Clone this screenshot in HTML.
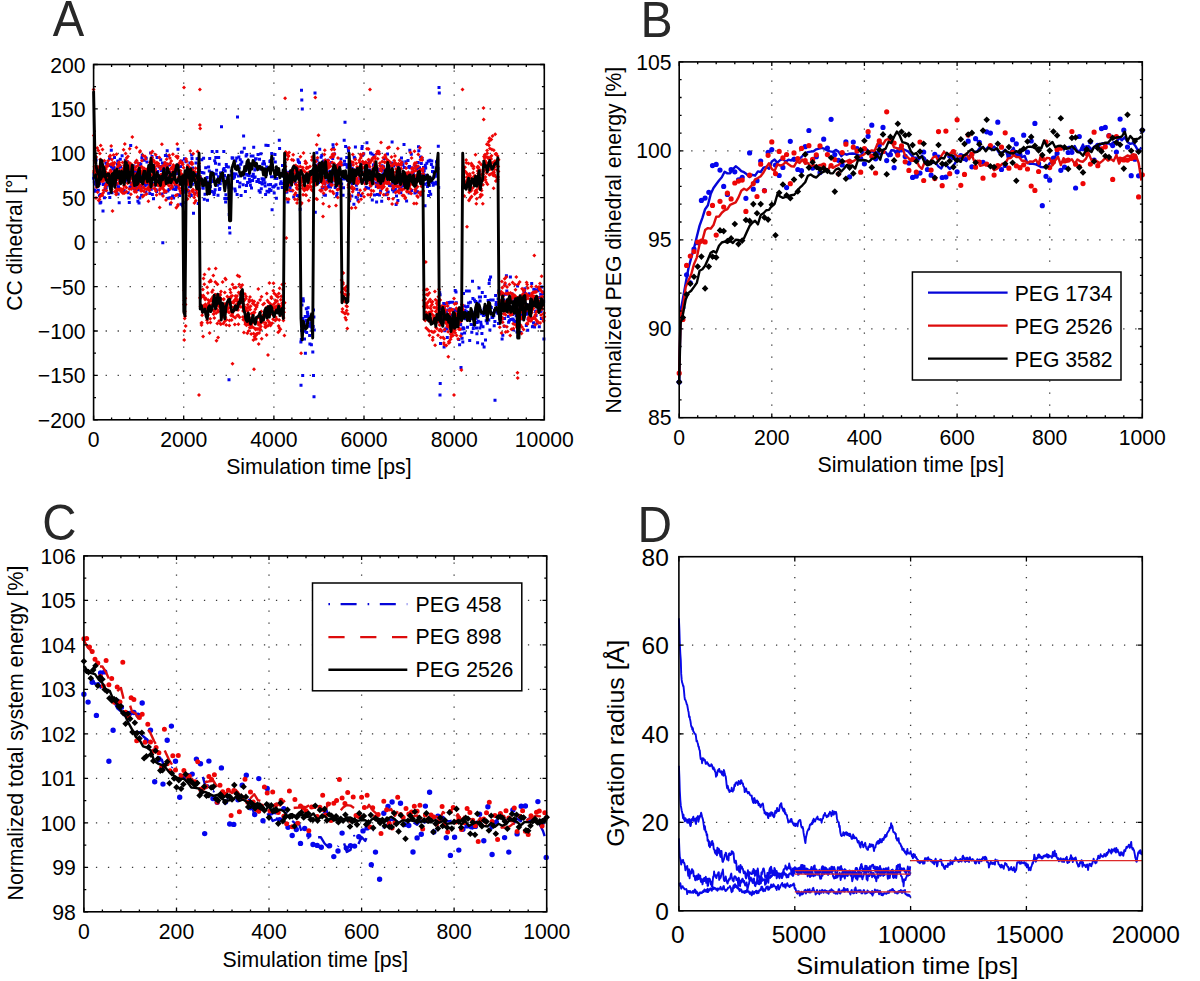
<!DOCTYPE html>
<html><head><meta charset="utf-8"><style>html,body{margin:0;padding:0;background:#fff;width:1200px;height:981px;overflow:hidden}svg{display:block}</style></head>
<body><svg width="1200" height="981" viewBox="0 0 1200 981" font-family="'Liberation Sans', sans-serif">
<path d="M183.7 419.8V64.5M273.9 419.8V64.5M364 419.8V64.5M454.2 419.8V64.5" stroke="#3a3a3a" stroke-width="1.3" fill="none" stroke-dasharray="1.3 10.7" stroke-dashoffset="0"/>
<path d="M93.6 375.4H544.3M93.6 331H544.3M93.6 286.6H544.3M93.6 242.2H544.3M93.6 197.7H544.3M93.6 153.3H544.3M93.6 108.9H544.3" stroke="#3a3a3a" stroke-width="1.3" fill="none" stroke-dasharray="1.3 10.7" stroke-dashoffset="0"/>
<path d="M93.6 178.2h0M94 174.2h0M94.3 181.8h0M94.7 190h0M95 184.1h0M95.4 191.3h0M95.8 177.2h0M96.1 160.1h0M96.5 184.5h0M96.8 186.2h0M97.2 171.4h0M97.6 173.1h0M97.9 176.5h0M98.3 190.2h0M98.6 178.2h0M99 168.5h0M99.4 195.7h0M99.7 183.8h0M100.1 203h0M100.5 194.8h0M100.8 202.2h0M101.2 180.7h0M101.5 194.5h0M101.9 173.9h0M102.3 175.4h0M102.6 180h0M103 211h0M103.3 184.6h0M103.7 178h0M104.1 175.9h0M104.4 197.7h0M104.8 183.7h0M105.1 190.3h0M105.5 188h0M105.9 163.1h0M106.2 188h0M106.6 177.6h0M106.9 165.4h0M107.3 184.9h0M107.7 178.6h0M108 175.6h0M108.4 176.2h0M108.7 193.3h0M109.1 176h0M109.5 158.8h0M109.8 197.5h0M110.2 165.4h0M110.5 175.3h0M110.9 185.4h0M111.3 150.2h0M111.6 166.6h0M112 192.7h0M112.3 175.7h0M112.7 169h0M113.1 179.2h0M113.4 167.5h0M113.8 177.5h0M114.2 167.7h0M114.5 157.4h0M114.9 185.5h0M115.2 173.8h0M115.6 182.6h0M116 174.7h0M116.3 192.2h0M116.7 184.1h0M117 179h0M117.4 164.3h0M117.8 161h0M118.1 193.9h0M118.5 186.8h0M118.8 167.6h0M119.2 202.7h0M119.6 182.3h0M119.9 177.4h0M120.3 159.3h0M120.6 166.9h0M121 180.4h0M121.4 180.9h0M121.7 179.3h0M122.1 155.7h0M122.4 181.6h0M122.8 179.9h0M123.2 171.2h0M123.5 177.4h0M123.9 178.4h0M124.2 190.6h0M124.6 175.9h0M125 181.6h0M125.3 160.2h0M125.7 167h0M126.1 176h0M126.4 166.7h0M126.8 180.1h0M127.1 161.5h0M127.5 175.6h0M127.9 167.7h0M128.2 192.7h0M128.6 170.8h0M128.9 197.9h0M129.3 202.5h0M129.7 179.4h0M130 187.3h0M130.4 173.1h0M130.7 145.4h0M131.1 186.3h0M131.5 183.5h0M131.8 172.4h0M132.2 168.6h0M132.5 177.5h0M132.9 177.8h0M133.3 165.7h0M133.6 168.1h0M134 188.8h0M134.3 176h0M134.7 174.5h0M135.1 189h0M135.4 171.4h0M135.8 186.3h0M136.1 161.9h0M136.5 172.2h0M136.9 173.6h0M137.2 182.6h0M137.6 176.3h0M137.9 201.3h0M138.3 189.7h0M138.7 169.8h0M139 203h0M139.4 163.4h0M139.8 198h0M140.1 164.6h0M140.5 186h0M140.8 164.3h0M141.2 173h0M141.6 195.2h0M141.9 158.1h0M142.3 155.6h0M142.6 175.7h0M143 178.5h0M143.4 177h0M143.7 187.8h0M144.1 160.2h0M144.4 182.1h0M144.8 175.6h0M145.2 185.5h0M145.5 183.3h0M145.9 192h0M146.2 158.2h0M146.6 177h0M147 162.1h0M147.3 174.8h0M147.7 184.3h0M148 179.4h0M148.4 182.5h0M148.8 174.9h0M149.1 180.1h0M149.5 179.1h0M149.8 193.5h0M150.2 185.8h0M150.6 153.1h0M150.9 184.1h0M151.3 189.2h0M151.7 170.7h0M152 156.4h0M152.4 194.6h0M152.7 178h0M153.1 183.6h0M153.5 198.7h0M153.8 165.4h0M154.2 175.6h0M154.5 174.3h0M154.9 185.3h0M155.3 169.2h0M155.6 182.5h0M156 177.2h0M156.3 190.1h0M156.7 191.6h0M157.1 157.6h0M157.4 182.1h0M157.8 171.5h0M158.1 175.9h0M158.5 181.3h0M158.9 182.2h0M159.2 167.1h0M159.6 179.5h0M159.9 177.5h0M160.3 175.2h0M160.7 159.8h0M161 166.5h0M161.4 170.4h0M161.7 183.1h0M162.1 194h0M162.5 162.9h0M162.8 242.7h0M163.2 177.5h0M163.5 168.4h0M163.9 165.2h0M164.3 164.6h0M164.6 163.4h0M165 181.8h0M165.4 155.5h0M165.7 192.3h0M166.1 164.2h0M166.4 169.2h0M166.8 164.1h0M167.2 150.7h0M167.5 156h0M167.9 191.1h0M168.2 198.3h0M168.6 164.9h0M169 189.4h0M169.3 176h0M169.7 164.7h0M170 197.8h0M170.4 204h0M170.8 172.5h0M171.1 175.3h0M171.5 179.2h0M171.8 175.4h0M172.2 187.4h0M172.6 196.1h0M172.9 178.2h0M173.3 189h0M173.6 197.9h0M174 169.3h0M174.4 176.9h0M174.7 170.6h0M175.1 189.3h0M175.4 184.9h0M175.8 189.4h0M176.2 187.9h0M176.5 173.5h0M176.9 186.6h0M177.2 171.4h0M177.6 171.7h0M178 149.2h0M178.3 194.8h0M178.7 164.4h0M179.1 177.4h0M179.4 176.4h0M179.8 195.6h0M180.1 182.4h0M180.5 166.4h0M180.9 204.2h0M181.2 175.2h0M181.6 180.2h0M181.9 161h0M182.3 176.6h0M182.7 205.7h0M183 185.6h0M183.4 202.6h0M183.7 219.7h0M184.1 183.6h0M184.5 158.8h0M184.8 176h0M185.2 192.3h0M185.5 189.3h0M185.9 161.8h0M186.3 174.8h0M186.6 176.3h0M187 177.8h0M187.3 176.6h0M187.7 166.5h0M188.1 169.9h0M188.4 174.5h0M188.8 191.3h0M189.1 170.7h0M189.5 186.7h0M189.9 163.1h0M190.2 194.6h0M190.6 179.6h0M191 177.9h0M191.3 195.6h0M191.7 155h0M192 158.6h0M192.4 184.3h0M192.8 167.9h0M193.1 173.2h0M193.5 213.2h0M193.8 175.1h0M194.2 179.3h0M194.6 177.4h0M194.9 193h0M195.3 182.3h0M195.6 181.1h0M196 163h0M196.4 174.5h0M196.7 179.1h0M197.1 158.7h0M197.4 186.5h0M197.8 184.4h0M198.2 203.5h0M198.5 158.4h0M198.9 166.6h0M199.2 167.3h0M199.6 170.6h0M200 178.1h0M200.3 176.8h0M200.7 183.1h0M201 182.5h0M201.4 179.2h0M201.8 159.8h0M202.1 172.5h0M202.5 180.6h0M202.8 187.5h0M203.2 188.2h0M203.6 158.3h0M203.9 172.9h0M204.3 199.3h0M204.7 184.1h0M205 194.2h0M205.4 180.3h0M205.7 167.7h0M206.1 184.5h0M206.5 182.2h0M206.8 178h0M207.2 177.6h0M207.5 200.2h0M207.9 182.1h0M208.3 190.3h0M208.6 167.1h0M209 189.1h0M209.3 171h0M209.7 158.4h0M210.1 182.8h0M210.4 186.6h0M210.8 175.9h0M211.1 178.5h0M211.5 191.6h0M211.9 172.2h0M212.2 151.4h0M212.6 181.6h0M212.9 180.8h0M213.3 192h0M213.7 173.8h0M214 194.6h0M214.4 192.6h0M214.7 160.8h0M215.1 189.8h0M215.5 163.3h0M215.8 157.4h0M216.2 174.1h0M216.6 170.2h0M216.9 151.5h0M217.3 180h0M217.6 185.3h0M218 195.3h0M218.4 176.7h0M218.7 157.5h0M219.1 164.3h0M219.4 189.6h0M219.8 188.4h0M220.2 183.7h0M220.5 173h0M220.9 179.6h0M221.2 173.9h0M221.6 172.8h0M222 180.6h0M222.3 177.1h0M222.7 173.8h0M223 177.6h0M223.4 169.7h0M223.8 151.4h0M224.1 168.4h0M224.5 175.5h0M224.8 198.6h0M225.2 171h0M225.6 202h0M225.9 194.8h0M226.3 164.6h0M226.6 166.5h0M227 177.8h0M227.4 198.6h0M227.7 180.7h0M228.1 184.7h0M228.4 167.1h0M228.8 187.2h0M229.2 214.4h0M229.5 227.7h0M229.9 232.9h0M230.3 218h0M230.6 175.2h0M231 188.1h0M231.3 171.1h0M231.7 187.9h0M232.1 157.7h0M232.4 158.3h0M232.8 157.9h0M233.1 178.6h0M233.5 165.3h0M233.9 173.8h0M234.2 177.2h0M234.6 176.4h0M234.9 189.1h0M235.3 190.9h0M235.7 161h0M236 174.1h0M236.4 168.6h0M236.7 158h0M237.1 194.4h0M237.5 181.6h0M237.8 168.8h0M238.2 165.8h0M238.5 175.9h0M238.9 157.1h0M239.3 167.9h0M239.6 186.8h0M240 183h0M240.3 159.7h0M240.7 164.2h0M241.1 195.6h0M241.4 152.2h0M241.8 162.1h0M242.2 152.1h0M242.5 175h0M242.9 173.8h0M243.2 184.8h0M243.6 135.9h0M244 171.9h0M244.3 148.3h0M244.7 178h0M245 167.1h0M245.4 191.5h0M245.8 174.2h0M246.1 155.9h0M246.5 185.6h0M246.8 154.6h0M247.2 164.3h0M247.6 182.6h0M247.9 175.3h0M248.3 174.6h0M248.6 169.1h0M249 175.5h0M249.4 179.3h0M249.7 172.2h0M250.1 181.8h0M250.4 185.2h0M250.8 168.5h0M251.2 156h0M251.5 188.1h0M251.9 167.6h0M252.2 176.2h0M252.6 180.5h0M253 156h0M253.3 174.2h0M253.7 147.2h0M254 177.5h0M254.4 161.9h0M254.8 169.9h0M255.1 176.9h0M255.5 158.9h0M255.9 168.7h0M256.2 158.7h0M256.6 167.5h0M256.9 181.5h0M257.3 168.5h0M257.7 166.6h0M258 154.6h0M258.4 179.6h0M258.7 168.2h0M259.1 190.7h0M259.5 159.2h0M259.8 182.4h0M260.2 192.2h0M260.5 169.1h0M260.9 153.7h0M261.3 188.8h0M261.6 183.1h0M262 178.7h0M262.3 183.9h0M262.7 164h0M263.1 179.9h0M263.4 178.9h0M263.8 161.6h0M264.1 179.6h0M264.5 163.9h0M264.9 182.7h0M265.2 186h0M265.6 194.5h0M265.9 145.3h0M266.3 174.5h0M266.7 167.1h0M267 191.3h0M267.4 168.5h0M267.8 170.1h0M268.1 145.5h0M268.5 184.8h0M268.8 191.9h0M269.2 184.7h0M269.6 189.2h0M269.9 161.5h0M270.3 160.7h0M270.6 184.6h0M271 190.4h0M271.4 176.7h0M271.7 153.6h0M272.1 209.8h0M272.4 165.4h0M272.8 186.8h0M273.2 158.8h0M273.5 187.1h0M273.9 176.7h0M274.2 193h0M274.6 186h0M275 154.5h0M275.3 162.1h0M275.7 178.4h0M276 184.7h0M276.4 198.3h0M276.8 178.4h0M277.1 173.6h0M277.5 174.3h0M277.8 174.5h0M278.2 188.2h0M278.6 174.2h0M278.9 173.9h0M279.3 140.2h0M279.6 148.6h0M280 175.3h0M280.4 183.7h0M280.7 174.4h0M281.1 181.7h0M281.5 183.5h0M281.8 174.4h0M282.2 187.6h0M282.5 165.6h0M282.9 175.1h0M283.3 170.5h0M283.6 176.3h0M284 183.6h0M284.3 186.5h0M284.7 177.1h0M285.1 181.3h0M285.4 170.9h0M285.8 174.1h0M286.1 192.2h0M286.5 173.2h0M286.9 192h0M287.2 182.4h0M287.6 178.1h0M287.9 201.9h0M288.3 173.1h0M288.7 172.3h0M289 176.5h0M289.4 180h0M289.7 179.4h0M290.1 187.5h0M290.5 178.1h0M290.8 181.9h0M291.2 173.4h0M291.5 190.7h0M291.9 171.5h0M292.3 172.8h0M292.6 176.6h0M293 180.6h0M293.4 167.4h0M293.7 197h0M294.1 168.7h0M294.4 171.7h0M294.8 171.2h0M295.2 169.9h0M295.5 183.7h0M295.9 178.5h0M296.2 166.6h0M296.6 169.4h0M297 172.4h0M297.3 195.4h0M297.7 168h0M298 159.7h0M298.4 161.8h0M298.8 172.2h0M299.1 196.1h0M299.5 162.8h0M299.8 177.4h0M300.2 209.2h0M300.6 170.5h0M300.9 342h0M301.3 339.4h0M301.6 330.6h0M302 305.1h0M302.4 327h0M302.7 318.5h0M303.1 298.8h0M303.4 300.9h0M303.8 323.5h0M304.2 325.3h0M304.5 338.9h0M304.9 331.3h0M305.2 316.4h0M305.6 316.8h0M306 320.6h0M306.3 308.8h0M306.7 332.4h0M307.1 322.8h0M307.4 312.3h0M307.8 314.3h0M308.1 307.8h0M308.5 316.8h0M308.9 326.2h0M309.2 317.3h0M309.6 335.5h0M309.9 343.9h0M310.3 324.2h0M310.7 322.8h0M311 318h0M311.4 344.7h0M311.7 327h0M312.1 330.1h0M312.5 333.6h0M312.8 352.1h0M313.2 326.6h0M313.5 310.1h0M313.9 317h0M314.3 330.1h0M314.6 175.7h0M315 165.4h0M315.3 212.3h0M315.7 177.1h0M316.1 168.2h0M316.4 166.3h0M316.8 152.7h0M317.1 160.3h0M317.5 171.2h0M317.9 171.3h0M318.2 164.8h0M318.6 182.5h0M318.9 175.8h0M319.3 163.2h0M319.7 149.2h0M320 177.4h0M320.4 175.9h0M320.8 172.5h0M321.1 157.3h0M321.5 175.6h0M321.8 155.6h0M322.2 188h0M322.6 177.6h0M322.9 177.7h0M323.3 164.6h0M323.6 161.1h0M324 195.1h0M324.4 187.2h0M324.7 170.5h0M325.1 183.7h0M325.4 195.2h0M325.8 161.1h0M326.2 168.3h0M326.5 168.3h0M326.9 181.2h0M327.2 161.1h0M327.6 178h0M328 160.2h0M328.3 186.9h0M328.7 186.1h0M329 172h0M329.4 184.1h0M329.8 165.7h0M330.1 171.2h0M330.5 187h0M330.8 173.7h0M331.2 179.3h0M331.6 162.4h0M331.9 183h0M332.3 180.4h0M332.7 158.4h0M333 144.7h0M333.4 147.9h0M333.7 173.7h0M334.1 171.6h0M334.5 154h0M334.8 176.1h0M335.2 187.4h0M335.5 172.8h0M335.9 168.4h0M336.3 185.4h0M336.6 196.3h0M337 193.5h0M337.3 165.4h0M337.7 184.4h0M338.1 176.1h0M338.4 171.4h0M338.8 166h0M339.1 178.7h0M339.5 167.5h0M339.9 186h0M340.2 179h0M340.6 187.8h0M340.9 159h0M341.3 174.4h0M341.7 183.9h0M342 178.7h0M342.4 177h0M342.7 164.7h0M343.1 195.3h0M343.5 187.8h0M343.8 179h0M344.2 140.2h0M344.5 161.2h0M344.9 175.4h0M345.3 164.4h0M345.6 146.4h0M346 176.9h0M346.4 178.7h0M346.7 157.6h0M347.1 167.2h0M347.4 164.8h0M347.8 180.5h0M348.2 148.1h0M348.5 150.9h0M348.9 166.1h0M349.2 164.5h0M349.6 200.7h0M350 165.1h0M350.3 176.2h0M350.7 167.8h0M351 164.5h0M351.4 178.1h0M351.8 196h0M352.1 168.6h0M352.5 183.4h0M352.8 177.9h0M353.2 181.5h0M353.6 178h0M353.9 204.2h0M354.3 157.2h0M354.6 170h0M355 158.5h0M355.4 147h0M355.7 173h0M356.1 197.3h0M356.4 185.2h0M356.8 189.3h0M357.2 179.9h0M357.5 172.2h0M357.9 199.9h0M358.3 168.6h0M358.6 193.3h0M359 169.2h0M359.3 174.6h0M359.7 177.3h0M360.1 174.1h0M360.4 180.3h0M360.8 181.2h0M361.1 195.4h0M361.5 173.4h0M361.9 148.4h0M362.2 146.6h0M362.6 155.3h0M362.9 163.5h0M363.3 181.9h0M363.7 153.7h0M364 173.6h0M364.4 173.8h0M364.7 176.8h0M365.1 171.8h0M365.5 178.8h0M365.8 174.2h0M366.2 187.6h0M366.5 178.1h0M366.9 142.8h0M367.3 174.2h0M367.6 176.5h0M368 166.2h0M368.3 163.9h0M368.7 188.3h0M369.1 176.2h0M369.4 161.3h0M369.8 170h0M370.1 172h0M370.5 152.9h0M370.9 182.7h0M371.2 172.6h0M371.6 173.2h0M372 153.9h0M372.3 199.9h0M372.7 182.8h0M373 181h0M373.4 165.1h0M373.8 165.9h0M374.1 155.5h0M374.5 195.1h0M374.8 164.1h0M375.2 178.1h0M375.6 183.1h0M375.9 167.1h0M376.3 186.6h0M376.6 202h0M377 179.3h0M377.4 194.4h0M377.7 183.1h0M378.1 169.6h0M378.4 170.4h0M378.8 153.5h0M379.2 177.3h0M379.5 195.1h0M379.9 184.8h0M380.2 187h0M380.6 191.1h0M381 169.1h0M381.3 183.5h0M381.7 201.3h0M382 165.7h0M382.4 176.5h0M382.8 170.3h0M383.1 173.7h0M383.5 166.8h0M383.9 174.7h0M384.2 158.8h0M384.6 169.6h0M384.9 170.1h0M385.3 169.9h0M385.7 194.8h0M386 177.7h0M386.4 179h0M386.7 172.8h0M387.1 193.7h0M387.5 153.9h0M387.8 174.3h0M388.2 191.9h0M388.5 198.5h0M388.9 179.6h0M389.3 177h0M389.6 185.5h0M390 174.7h0M390.3 184.5h0M390.7 168.7h0M391.1 185.7h0M391.4 176.6h0M391.8 163.1h0M392.1 141.9h0M392.5 189.7h0M392.9 182.5h0M393.2 187.5h0M393.6 165.9h0M393.9 191.7h0M394.3 182.9h0M394.7 176.9h0M395 189.6h0M395.4 189.3h0M395.7 183h0M396.1 204.6h0M396.5 196h0M396.8 182.2h0M397.2 174.8h0M397.6 179.3h0M397.9 200.5h0M398.3 183.1h0M398.6 166.3h0M399 169.6h0M399.4 178.1h0M399.7 188.9h0M400.1 168.7h0M400.4 184.9h0M400.8 192.8h0M401.2 187.9h0M401.5 158h0M401.9 174.4h0M402.2 161.9h0M402.6 183.8h0M403 165h0M403.3 185.5h0M403.7 179.7h0M404 144.5h0M404.4 167.4h0M404.8 184.4h0M405.1 178.9h0M405.5 173.4h0M405.8 161.7h0M406.2 184.4h0M406.6 201.1h0M406.9 181.7h0M407.3 177.8h0M407.6 176.6h0M408 160.5h0M408.4 173.9h0M408.7 167.3h0M409.1 192.9h0M409.5 166.6h0M409.8 150.2h0M410.2 167.8h0M410.5 174.7h0M410.9 176h0M411.3 154.3h0M411.6 190.4h0M412 179.5h0M412.3 171.9h0M412.7 168.1h0M413.1 183.8h0M413.4 173.8h0M413.8 181.6h0M414.1 176.3h0M414.5 179.6h0M414.9 193.1h0M415.2 178.1h0M415.6 166.1h0M415.9 190.7h0M416.3 181h0M416.7 168.9h0M417 192h0M417.4 175.3h0M417.7 191.8h0M418.1 162.5h0M418.5 146.8h0M418.8 150.7h0M419.2 180.5h0M419.5 167.7h0M419.9 175.9h0M420.3 176.2h0M420.6 156.9h0M421 195.1h0M421.3 163.4h0M421.7 178.1h0M422.1 158.7h0M422.4 174.9h0M422.8 186.3h0M423.2 173.7h0M423.5 167.5h0M423.9 176.8h0M424.2 170.8h0M424.6 184.2h0M425 205.7h0M425.3 165.2h0M425.7 167.9h0M426 175.2h0M426.4 176.3h0M426.8 163.3h0M427.1 183.2h0M427.5 186.5h0M427.8 179.6h0M428.2 161.2h0M428.6 195.5h0M428.9 161.1h0M429.3 185.5h0M429.6 191.6h0M430 160.2h0M430.4 178.2h0M430.7 194.2h0M431.1 181.7h0M431.4 164.5h0M431.8 161h0M432.2 182.5h0M432.5 171.4h0M432.9 167.3h0M433.2 185.3h0M433.6 172h0M434 177.1h0M434.3 183.8h0M434.7 183.2h0M435.1 175.8h0M435.4 176.2h0M435.8 184.1h0M436.1 182.3h0M436.5 161.7h0M436.9 173.7h0M437.2 164.7h0M437.6 160.5h0M437.9 168.6h0M438.3 146.2h0M438.7 187.4h0M439 317.1h0M439.4 321.8h0M439.7 292.8h0M440.1 294.8h0M440.5 343.5h0M440.8 330.3h0M441.2 308.5h0M441.5 306.8h0M441.9 307.5h0M442.3 318.2h0M442.6 311.1h0M443 308.5h0M443.3 318.2h0M443.7 303.4h0M444.1 347.1h0M444.4 308.6h0M444.8 330.7h0M445.1 304.1h0M445.5 319.9h0M445.9 328.7h0M446.2 311.8h0M446.6 328.9h0M446.9 328.9h0M447.3 337.5h0M447.7 317h0M448 310h0M448.4 302.9h0M448.8 318.4h0M449.1 302.5h0M449.5 316.2h0M449.8 317.6h0M450.2 308.7h0M450.6 302.2h0M450.9 320.8h0M451.3 319.4h0M451.6 318.3h0M452 315h0M452.4 328.1h0M452.7 302.3h0M453.1 321.3h0M453.4 309.8h0M453.8 326.9h0M454.2 311.1h0M454.5 310.6h0M454.9 321.4h0M455.2 290.6h0M455.6 310.7h0M456 292h0M456.3 302.8h0M456.7 324.4h0M457 320.6h0M457.4 309.7h0M457.8 314.6h0M458.1 314.7h0M458.5 319.2h0M458.8 339.4h0M459.2 318.3h0M459.6 344.8h0M459.9 310.2h0M460.3 324.8h0M460.7 324.6h0M461 318h0M461.4 311.4h0M461.7 334h0M462.1 338.2h0M462.5 329.1h0M462.8 342h0M463.2 327.7h0M463.5 293.6h0M463.9 328.8h0M464.3 306h0M464.6 332.9h0M465 310.6h0M465.3 318.8h0M465.7 315.3h0M466.1 306.9h0M466.4 291h0M466.8 311.8h0M467.1 312.7h0M467.5 327.3h0M467.9 306.5h0M468.2 317.5h0M468.6 303.1h0M468.9 314.7h0M469.3 290.9h0M469.7 340.5h0M470 317.9h0M470.4 302.2h0M470.7 318.6h0M471.1 324.4h0M471.5 317.4h0M471.8 332.2h0M472.2 312.2h0M472.5 281.2h0M472.9 298.4h0M473.3 328.4h0M473.6 325.2h0M474 318.9h0M474.4 300.1h0M474.7 324.4h0M475.1 322.6h0M475.4 301.6h0M475.8 301.8h0M476.2 318.3h0M476.5 328.1h0M476.9 333.8h0M477.2 322.4h0M477.6 342.8h0M478 303h0M478.3 321.3h0M478.7 306.4h0M479 287.9h0M479.4 297h0M479.8 327.9h0M480.1 301h0M480.5 297h0M480.8 322.3h0M481.2 325h0M481.6 313.7h0M481.9 333.5h0M482.3 292.5h0M482.6 344.1h0M483 326.7h0M483.4 315.5h0M483.7 314.8h0M484.1 309.5h0M484.4 308.1h0M484.8 314.5h0M485.2 296.4h0M485.5 340h0M485.9 311.4h0M486.2 320.8h0M486.6 309.5h0M487 308.2h0M487.3 323.3h0M487.7 319.6h0M488.1 300.4h0M488.4 306.2h0M488.8 319.9h0M489.1 283.6h0M489.5 279.9h0M489.9 330.1h0M490.2 306.5h0M490.6 277h0M490.9 300h0M491.3 307.4h0M491.7 313h0M492 317.4h0M492.4 313h0M492.7 317.4h0M493.1 300.1h0M493.5 315.2h0M493.8 315.7h0M494.2 325.8h0M494.5 310.4h0M494.9 321.5h0M495.3 312h0M495.6 295.6h0M496 304.5h0M496.3 302.6h0M496.7 304.5h0M497.1 308.4h0M497.4 310.8h0M497.8 313.2h0M498.1 298.9h0M498.5 323.4h0M498.9 291h0M499.2 308.3h0M499.6 318.7h0M500 315.2h0M500.3 317.7h0M500.7 306.5h0M501 318.2h0M501.4 293.4h0M501.8 319h0M502.1 338.9h0M502.5 318.3h0M502.8 335.3h0M503.2 309.1h0M503.6 294.4h0M503.9 299.9h0M504.3 326.3h0M504.6 318.6h0M505 284.7h0M505.4 304.2h0M505.7 308.3h0M506.1 294.3h0M506.4 275.7h0M506.8 291h0M507.2 306.4h0M507.5 303.6h0M507.9 300h0M508.2 316.4h0M508.6 322.3h0M509 307.5h0M509.3 320.8h0M509.7 309h0M510 306.8h0M510.4 276.9h0M510.8 319.4h0M511.1 309.7h0M511.5 310.2h0M511.8 302.2h0M512.2 294.1h0M512.6 314.5h0M512.9 318.9h0M513.3 329.8h0M513.7 320.3h0M514 300.7h0M514.4 307.3h0M514.7 321.4h0M515.1 312.8h0M515.5 307.4h0M515.8 301.1h0M516.2 315.7h0M516.5 311.1h0M516.9 332h0M517.3 323h0M517.6 286.1h0M518 336.8h0M518.3 312.1h0M518.7 304.7h0M519.1 312.6h0M519.4 318.3h0M519.8 308.4h0M520.1 307.6h0M520.5 308.6h0M520.9 332.5h0M521.2 309.4h0M521.6 318.8h0M521.9 314.7h0M522.3 304.4h0M522.7 298.8h0M523 295.4h0M523.4 314h0M523.7 295h0M524.1 291.7h0M524.5 292.1h0M524.8 288.7h0M525.2 309.2h0M525.6 309.5h0M525.9 296.2h0M526.3 325.4h0M526.6 304.4h0M527 314.2h0M527.4 312h0M527.7 330.3h0M528.1 318.9h0M528.4 307.3h0M528.8 295.2h0M529.2 293.8h0M529.5 308h0M529.9 309.5h0M530.2 318h0M530.6 301.6h0M531 310.2h0M531.3 298.8h0M531.7 283.5h0M532 307.3h0M532.4 326.8h0M532.8 318.3h0M533.1 326.2h0M533.5 322.7h0M533.8 289.3h0M534.2 303.7h0M534.6 326.9h0M534.9 297.9h0M535.3 289.8h0M535.6 311.4h0M536 315.6h0M536.4 311.1h0M536.7 302.8h0M537.1 323.3h0M537.4 290.8h0M537.8 290.3h0M538.2 290.7h0M538.5 288.3h0M538.9 297.6h0M539.3 326.8h0M539.6 308.1h0M540 302.2h0M540.3 311.4h0M540.7 294.2h0M541.1 311.1h0M541.4 318.6h0M541.8 287h0M542.1 297.4h0M542.5 303.3h0M542.9 293.8h0M543.2 292h0M543.6 301.6h0M543.9 338.9h0M301.5 90.3h0M301.8 100h0M315 92.9h0M302.3 108.9h0M439 87.6h0M439.3 92.9h0M237.5 116.9h0M221.5 126.7h0M345 122.2h0M301 385.2h0M314 396.7h0M302.7 375.4h0M229 379.8h0M440 394.9h0M440.2 383.4h0M461 367.4h0M495 400.3h0M484.1 347h0M305.4 353.2h0M313.5 375.4h0" stroke="#0505ee" stroke-width="3.0" stroke-linecap="square" fill="none"/>
<path d="M93.6 87.4l2 2 -2 2 -2 -2zM93.8 133.6l2 2 -2 2 -2 -2zM94 169.1l2 2 -2 2 -2 -2zM94.2 170.4l2 2 -2 2 -2 -2zM94.4 164.7l2 2 -2 2 -2 -2zM94.6 158.8l2 2 -2 2 -2 -2zM94.8 159.7l2 2 -2 2 -2 -2zM95 166.5l2 2 -2 2 -2 -2zM95.2 160.5l2 2 -2 2 -2 -2zM95.4 169.7l2 2 -2 2 -2 -2zM95.6 156.1l2 2 -2 2 -2 -2zM95.8 171.4l2 2 -2 2 -2 -2zM96 196l2 2 -2 2 -2 -2zM96.2 155.1l2 2 -2 2 -2 -2zM96.4 169.9l2 2 -2 2 -2 -2zM96.6 185.3l2 2 -2 2 -2 -2zM96.8 173.6l2 2 -2 2 -2 -2zM97 181.9l2 2 -2 2 -2 -2zM97.3 146.1l2 2 -2 2 -2 -2zM97.5 165.4l2 2 -2 2 -2 -2zM97.7 190.2l2 2 -2 2 -2 -2zM97.9 164.8l2 2 -2 2 -2 -2zM98.1 176.2l2 2 -2 2 -2 -2zM98.3 148.4l2 2 -2 2 -2 -2zM98.5 184.1l2 2 -2 2 -2 -2zM98.7 198.4l2 2 -2 2 -2 -2zM98.9 170.7l2 2 -2 2 -2 -2zM99.1 175.7l2 2 -2 2 -2 -2zM99.3 176.5l2 2 -2 2 -2 -2zM99.5 197.2l2 2 -2 2 -2 -2zM99.7 166.5l2 2 -2 2 -2 -2zM99.9 151.5l2 2 -2 2 -2 -2zM100.1 194.5l2 2 -2 2 -2 -2zM100.3 157.6l2 2 -2 2 -2 -2zM100.5 178.5l2 2 -2 2 -2 -2zM100.7 143.5l2 2 -2 2 -2 -2zM100.9 166.5l2 2 -2 2 -2 -2zM101.1 174l2 2 -2 2 -2 -2zM101.3 158.5l2 2 -2 2 -2 -2zM101.5 165.5l2 2 -2 2 -2 -2zM101.7 178.9l2 2 -2 2 -2 -2zM101.9 192.4l2 2 -2 2 -2 -2zM102.1 178l2 2 -2 2 -2 -2zM102.3 193.3l2 2 -2 2 -2 -2zM102.5 147.6l2 2 -2 2 -2 -2zM102.7 176.1l2 2 -2 2 -2 -2zM102.9 179.3l2 2 -2 2 -2 -2zM103.1 167.9l2 2 -2 2 -2 -2zM103.3 190.7l2 2 -2 2 -2 -2zM103.5 188.3l2 2 -2 2 -2 -2zM103.7 178.1l2 2 -2 2 -2 -2zM103.9 178.3l2 2 -2 2 -2 -2zM104.1 171.3l2 2 -2 2 -2 -2zM104.3 158.7l2 2 -2 2 -2 -2zM104.6 177.8l2 2 -2 2 -2 -2zM104.8 166.3l2 2 -2 2 -2 -2zM105 165l2 2 -2 2 -2 -2zM105.2 185.2l2 2 -2 2 -2 -2zM105.4 169.5l2 2 -2 2 -2 -2zM105.6 183.6l2 2 -2 2 -2 -2zM105.8 171.8l2 2 -2 2 -2 -2zM106 166.9l2 2 -2 2 -2 -2zM106.2 172.2l2 2 -2 2 -2 -2zM106.4 188.4l2 2 -2 2 -2 -2zM106.6 171l2 2 -2 2 -2 -2zM106.8 181.6l2 2 -2 2 -2 -2zM107 164l2 2 -2 2 -2 -2zM107.2 173.9l2 2 -2 2 -2 -2zM107.4 182.2l2 2 -2 2 -2 -2zM107.6 161.4l2 2 -2 2 -2 -2zM107.8 163.9l2 2 -2 2 -2 -2zM108 179.7l2 2 -2 2 -2 -2zM108.2 158.7l2 2 -2 2 -2 -2zM108.4 176.2l2 2 -2 2 -2 -2zM108.6 176.3l2 2 -2 2 -2 -2zM108.8 171.2l2 2 -2 2 -2 -2zM109 181.7l2 2 -2 2 -2 -2zM109.2 178l2 2 -2 2 -2 -2zM109.4 174.7l2 2 -2 2 -2 -2zM109.6 154.4l2 2 -2 2 -2 -2zM109.8 154.8l2 2 -2 2 -2 -2zM110 175.9l2 2 -2 2 -2 -2zM110.2 153.5l2 2 -2 2 -2 -2zM110.4 173.4l2 2 -2 2 -2 -2zM110.6 168.3l2 2 -2 2 -2 -2zM110.8 162.3l2 2 -2 2 -2 -2zM111 169.4l2 2 -2 2 -2 -2zM111.2 144l2 2 -2 2 -2 -2zM111.4 170.1l2 2 -2 2 -2 -2zM111.7 187.4l2 2 -2 2 -2 -2zM111.9 157.4l2 2 -2 2 -2 -2zM112.1 178l2 2 -2 2 -2 -2zM112.3 176.7l2 2 -2 2 -2 -2zM112.5 209l2 2 -2 2 -2 -2zM112.7 161.1l2 2 -2 2 -2 -2zM112.9 163.3l2 2 -2 2 -2 -2zM113.1 163.6l2 2 -2 2 -2 -2zM113.3 161.5l2 2 -2 2 -2 -2zM113.5 152.9l2 2 -2 2 -2 -2zM113.7 173.8l2 2 -2 2 -2 -2zM113.9 162l2 2 -2 2 -2 -2zM114.1 182.2l2 2 -2 2 -2 -2zM114.3 177.6l2 2 -2 2 -2 -2zM114.5 160.7l2 2 -2 2 -2 -2zM114.7 168.7l2 2 -2 2 -2 -2zM114.9 189.4l2 2 -2 2 -2 -2zM115.1 169.1l2 2 -2 2 -2 -2zM115.3 175.6l2 2 -2 2 -2 -2zM115.5 183.3l2 2 -2 2 -2 -2zM115.7 168.3l2 2 -2 2 -2 -2zM115.9 178.4l2 2 -2 2 -2 -2zM116.1 192.4l2 2 -2 2 -2 -2zM116.3 186.8l2 2 -2 2 -2 -2zM116.5 152.3l2 2 -2 2 -2 -2zM116.7 191.7l2 2 -2 2 -2 -2zM116.9 170.8l2 2 -2 2 -2 -2zM117.1 166.2l2 2 -2 2 -2 -2zM117.3 165.8l2 2 -2 2 -2 -2zM117.5 188.2l2 2 -2 2 -2 -2zM117.7 177.3l2 2 -2 2 -2 -2zM117.9 171.8l2 2 -2 2 -2 -2zM118.1 163.9l2 2 -2 2 -2 -2zM118.3 181.2l2 2 -2 2 -2 -2zM118.5 187.4l2 2 -2 2 -2 -2zM118.7 161.4l2 2 -2 2 -2 -2zM119 160.2l2 2 -2 2 -2 -2zM119.2 169l2 2 -2 2 -2 -2zM119.4 180.7l2 2 -2 2 -2 -2zM119.6 168.5l2 2 -2 2 -2 -2zM119.8 172.1l2 2 -2 2 -2 -2zM120 163.3l2 2 -2 2 -2 -2zM120.2 188.4l2 2 -2 2 -2 -2zM120.4 172l2 2 -2 2 -2 -2zM120.6 175.3l2 2 -2 2 -2 -2zM120.8 186.7l2 2 -2 2 -2 -2zM121 170.8l2 2 -2 2 -2 -2zM121.2 172.9l2 2 -2 2 -2 -2zM121.4 178.2l2 2 -2 2 -2 -2zM121.6 168.6l2 2 -2 2 -2 -2zM121.8 190.3l2 2 -2 2 -2 -2zM122 173.9l2 2 -2 2 -2 -2zM122.2 168.1l2 2 -2 2 -2 -2zM122.4 169.9l2 2 -2 2 -2 -2zM122.6 160.4l2 2 -2 2 -2 -2zM122.8 187.7l2 2 -2 2 -2 -2zM123 191.3l2 2 -2 2 -2 -2zM123.2 187l2 2 -2 2 -2 -2zM123.4 167.8l2 2 -2 2 -2 -2zM123.6 147.8l2 2 -2 2 -2 -2zM123.8 165.8l2 2 -2 2 -2 -2zM124 183.7l2 2 -2 2 -2 -2zM124.2 163.5l2 2 -2 2 -2 -2zM124.4 183.3l2 2 -2 2 -2 -2zM124.6 191l2 2 -2 2 -2 -2zM124.8 141.9l2 2 -2 2 -2 -2zM125 169.3l2 2 -2 2 -2 -2zM125.2 164.6l2 2 -2 2 -2 -2zM125.4 166.4l2 2 -2 2 -2 -2zM125.6 151.4l2 2 -2 2 -2 -2zM125.8 169.7l2 2 -2 2 -2 -2zM126.1 158.5l2 2 -2 2 -2 -2zM126.3 185.5l2 2 -2 2 -2 -2zM126.5 189.8l2 2 -2 2 -2 -2zM126.7 156l2 2 -2 2 -2 -2zM126.9 155.4l2 2 -2 2 -2 -2zM127.1 167l2 2 -2 2 -2 -2zM127.3 170.4l2 2 -2 2 -2 -2zM127.5 171.1l2 2 -2 2 -2 -2zM127.7 181.3l2 2 -2 2 -2 -2zM127.9 154.6l2 2 -2 2 -2 -2zM128.1 165.2l2 2 -2 2 -2 -2zM128.3 167l2 2 -2 2 -2 -2zM128.5 168.5l2 2 -2 2 -2 -2zM128.7 160.5l2 2 -2 2 -2 -2zM128.9 167l2 2 -2 2 -2 -2zM129.1 164.1l2 2 -2 2 -2 -2zM129.3 187l2 2 -2 2 -2 -2zM129.5 166.9l2 2 -2 2 -2 -2zM129.7 146.8l2 2 -2 2 -2 -2zM129.9 179.2l2 2 -2 2 -2 -2zM130.1 174.5l2 2 -2 2 -2 -2zM130.3 162.3l2 2 -2 2 -2 -2zM130.5 161.5l2 2 -2 2 -2 -2zM130.7 165.5l2 2 -2 2 -2 -2zM130.9 192.3l2 2 -2 2 -2 -2zM131.1 166.9l2 2 -2 2 -2 -2zM131.3 187.1l2 2 -2 2 -2 -2zM131.5 182.8l2 2 -2 2 -2 -2zM131.7 166.3l2 2 -2 2 -2 -2zM131.9 176.5l2 2 -2 2 -2 -2zM132.1 163.2l2 2 -2 2 -2 -2zM132.3 135.1l2 2 -2 2 -2 -2zM132.5 163.6l2 2 -2 2 -2 -2zM132.7 164.2l2 2 -2 2 -2 -2zM132.9 183.6l2 2 -2 2 -2 -2zM133.1 180.6l2 2 -2 2 -2 -2zM133.4 185.6l2 2 -2 2 -2 -2zM133.6 179.2l2 2 -2 2 -2 -2zM133.8 185.9l2 2 -2 2 -2 -2zM134 180.7l2 2 -2 2 -2 -2zM134.2 175.3l2 2 -2 2 -2 -2zM134.4 184.8l2 2 -2 2 -2 -2zM134.6 189.8l2 2 -2 2 -2 -2zM134.8 189.1l2 2 -2 2 -2 -2zM135 167.3l2 2 -2 2 -2 -2zM135.2 172.1l2 2 -2 2 -2 -2zM135.4 160.5l2 2 -2 2 -2 -2zM135.6 160.2l2 2 -2 2 -2 -2zM135.8 176.8l2 2 -2 2 -2 -2zM136 164.7l2 2 -2 2 -2 -2zM136.2 190l2 2 -2 2 -2 -2zM136.4 145.4l2 2 -2 2 -2 -2zM136.6 158.4l2 2 -2 2 -2 -2zM136.8 175.3l2 2 -2 2 -2 -2zM137 186.7l2 2 -2 2 -2 -2zM137.2 168.1l2 2 -2 2 -2 -2zM137.4 195.1l2 2 -2 2 -2 -2zM137.6 182l2 2 -2 2 -2 -2zM137.8 163.7l2 2 -2 2 -2 -2zM138 171.8l2 2 -2 2 -2 -2zM138.2 178.5l2 2 -2 2 -2 -2zM138.4 161.3l2 2 -2 2 -2 -2zM138.6 185.1l2 2 -2 2 -2 -2zM138.8 169.2l2 2 -2 2 -2 -2zM139 178.6l2 2 -2 2 -2 -2zM139.2 182.8l2 2 -2 2 -2 -2zM139.4 167.1l2 2 -2 2 -2 -2zM139.6 184.6l2 2 -2 2 -2 -2zM139.8 149.9l2 2 -2 2 -2 -2zM140 179.8l2 2 -2 2 -2 -2zM140.2 148.9l2 2 -2 2 -2 -2zM140.5 185.9l2 2 -2 2 -2 -2zM140.7 165.5l2 2 -2 2 -2 -2zM140.9 187.2l2 2 -2 2 -2 -2zM141.1 188.9l2 2 -2 2 -2 -2zM141.3 170.9l2 2 -2 2 -2 -2zM141.5 164.7l2 2 -2 2 -2 -2zM141.7 188.2l2 2 -2 2 -2 -2zM141.9 158.7l2 2 -2 2 -2 -2zM142.1 182.5l2 2 -2 2 -2 -2zM142.3 171.4l2 2 -2 2 -2 -2zM142.5 168.4l2 2 -2 2 -2 -2zM142.7 165.8l2 2 -2 2 -2 -2zM142.9 194.5l2 2 -2 2 -2 -2zM143.1 153.6l2 2 -2 2 -2 -2zM143.3 166.3l2 2 -2 2 -2 -2zM143.5 178.1l2 2 -2 2 -2 -2zM143.7 185.3l2 2 -2 2 -2 -2zM143.9 193.4l2 2 -2 2 -2 -2zM144.1 189.4l2 2 -2 2 -2 -2zM144.3 166.6l2 2 -2 2 -2 -2zM144.5 177.2l2 2 -2 2 -2 -2zM144.7 186.7l2 2 -2 2 -2 -2zM144.9 179.5l2 2 -2 2 -2 -2zM145.1 154.4l2 2 -2 2 -2 -2zM145.3 177.1l2 2 -2 2 -2 -2zM145.5 180.2l2 2 -2 2 -2 -2zM145.7 157l2 2 -2 2 -2 -2zM145.9 167.7l2 2 -2 2 -2 -2zM146.1 172.7l2 2 -2 2 -2 -2zM146.3 180.5l2 2 -2 2 -2 -2zM146.5 191.9l2 2 -2 2 -2 -2zM146.7 187.3l2 2 -2 2 -2 -2zM146.9 179.1l2 2 -2 2 -2 -2zM147.1 175.9l2 2 -2 2 -2 -2zM147.3 169.1l2 2 -2 2 -2 -2zM147.5 166.7l2 2 -2 2 -2 -2zM147.8 170.7l2 2 -2 2 -2 -2zM148 170.7l2 2 -2 2 -2 -2zM148.2 185.5l2 2 -2 2 -2 -2zM148.4 199.2l2 2 -2 2 -2 -2zM148.6 179.7l2 2 -2 2 -2 -2zM148.8 184.9l2 2 -2 2 -2 -2zM149 181.3l2 2 -2 2 -2 -2zM149.2 176.8l2 2 -2 2 -2 -2zM149.4 188.4l2 2 -2 2 -2 -2zM149.6 186.8l2 2 -2 2 -2 -2zM149.8 160.5l2 2 -2 2 -2 -2zM150 172.1l2 2 -2 2 -2 -2zM150.2 181.4l2 2 -2 2 -2 -2zM150.4 167.6l2 2 -2 2 -2 -2zM150.6 176.2l2 2 -2 2 -2 -2zM150.8 185.8l2 2 -2 2 -2 -2zM151 173.1l2 2 -2 2 -2 -2zM151.2 151.1l2 2 -2 2 -2 -2zM151.4 181.7l2 2 -2 2 -2 -2zM151.6 159.7l2 2 -2 2 -2 -2zM151.8 157.2l2 2 -2 2 -2 -2zM152 155.7l2 2 -2 2 -2 -2zM152.2 183.6l2 2 -2 2 -2 -2zM152.4 149.6l2 2 -2 2 -2 -2zM152.6 172.3l2 2 -2 2 -2 -2zM152.8 176.8l2 2 -2 2 -2 -2zM153 176.5l2 2 -2 2 -2 -2zM153.2 166.6l2 2 -2 2 -2 -2zM153.4 173.2l2 2 -2 2 -2 -2zM153.6 175.9l2 2 -2 2 -2 -2zM153.8 158.4l2 2 -2 2 -2 -2zM154 182.5l2 2 -2 2 -2 -2zM154.2 186.4l2 2 -2 2 -2 -2zM154.4 164.4l2 2 -2 2 -2 -2zM154.6 165.5l2 2 -2 2 -2 -2zM154.9 160.8l2 2 -2 2 -2 -2zM155.1 186.8l2 2 -2 2 -2 -2zM155.3 161l2 2 -2 2 -2 -2zM155.5 168.2l2 2 -2 2 -2 -2zM155.7 152.8l2 2 -2 2 -2 -2zM155.9 189l2 2 -2 2 -2 -2zM156.1 171.4l2 2 -2 2 -2 -2zM156.3 177.4l2 2 -2 2 -2 -2zM156.5 193.1l2 2 -2 2 -2 -2zM156.7 182.6l2 2 -2 2 -2 -2zM156.9 160.6l2 2 -2 2 -2 -2zM157.1 179.7l2 2 -2 2 -2 -2zM157.3 182.8l2 2 -2 2 -2 -2zM157.5 163.7l2 2 -2 2 -2 -2zM157.7 162.3l2 2 -2 2 -2 -2zM157.9 162.3l2 2 -2 2 -2 -2zM158.1 183.6l2 2 -2 2 -2 -2zM158.3 174.9l2 2 -2 2 -2 -2zM158.5 161.8l2 2 -2 2 -2 -2zM158.7 182.1l2 2 -2 2 -2 -2zM158.9 183.2l2 2 -2 2 -2 -2zM159.1 164.3l2 2 -2 2 -2 -2zM159.3 155.5l2 2 -2 2 -2 -2zM159.5 188.1l2 2 -2 2 -2 -2zM159.7 205.5l2 2 -2 2 -2 -2zM159.9 191.7l2 2 -2 2 -2 -2zM160.1 186.5l2 2 -2 2 -2 -2zM160.3 176l2 2 -2 2 -2 -2zM160.5 167l2 2 -2 2 -2 -2zM160.7 176.1l2 2 -2 2 -2 -2zM160.9 182.8l2 2 -2 2 -2 -2zM161.1 172.6l2 2 -2 2 -2 -2zM161.3 185.9l2 2 -2 2 -2 -2zM161.5 175l2 2 -2 2 -2 -2zM161.7 182.1l2 2 -2 2 -2 -2zM161.9 142.2l2 2 -2 2 -2 -2zM162.2 164.6l2 2 -2 2 -2 -2zM162.4 184.3l2 2 -2 2 -2 -2zM162.6 186.3l2 2 -2 2 -2 -2zM162.8 179.6l2 2 -2 2 -2 -2zM163 194l2 2 -2 2 -2 -2zM163.2 183l2 2 -2 2 -2 -2zM163.4 183.1l2 2 -2 2 -2 -2zM163.6 163.6l2 2 -2 2 -2 -2zM163.8 179.3l2 2 -2 2 -2 -2zM164 183.7l2 2 -2 2 -2 -2zM164.2 190.3l2 2 -2 2 -2 -2zM164.4 188.3l2 2 -2 2 -2 -2zM164.6 174.9l2 2 -2 2 -2 -2zM164.8 176.7l2 2 -2 2 -2 -2zM165 160.5l2 2 -2 2 -2 -2zM165.2 181.6l2 2 -2 2 -2 -2zM165.4 161.4l2 2 -2 2 -2 -2zM165.6 171l2 2 -2 2 -2 -2zM165.8 174.1l2 2 -2 2 -2 -2zM166 198.1l2 2 -2 2 -2 -2zM166.2 189.5l2 2 -2 2 -2 -2zM166.4 165.1l2 2 -2 2 -2 -2zM166.6 157.2l2 2 -2 2 -2 -2zM166.8 166.2l2 2 -2 2 -2 -2zM167 164.8l2 2 -2 2 -2 -2zM167.2 178.8l2 2 -2 2 -2 -2zM167.4 178.4l2 2 -2 2 -2 -2zM167.6 181.9l2 2 -2 2 -2 -2zM167.8 162.2l2 2 -2 2 -2 -2zM168 169.8l2 2 -2 2 -2 -2zM168.2 176.7l2 2 -2 2 -2 -2zM168.4 177.8l2 2 -2 2 -2 -2zM168.6 167.2l2 2 -2 2 -2 -2zM168.8 169.9l2 2 -2 2 -2 -2zM169 183.8l2 2 -2 2 -2 -2zM169.2 153.2l2 2 -2 2 -2 -2zM169.5 170.7l2 2 -2 2 -2 -2zM169.7 173.6l2 2 -2 2 -2 -2zM169.9 156l2 2 -2 2 -2 -2zM170.1 161.4l2 2 -2 2 -2 -2zM170.3 174.8l2 2 -2 2 -2 -2zM170.5 167.3l2 2 -2 2 -2 -2zM170.7 186.5l2 2 -2 2 -2 -2zM170.9 181.3l2 2 -2 2 -2 -2zM171.1 200.7l2 2 -2 2 -2 -2zM171.3 159l2 2 -2 2 -2 -2zM171.5 196.4l2 2 -2 2 -2 -2zM171.7 165.4l2 2 -2 2 -2 -2zM171.9 183.5l2 2 -2 2 -2 -2zM172.1 185.3l2 2 -2 2 -2 -2zM172.3 175.9l2 2 -2 2 -2 -2zM172.5 170.3l2 2 -2 2 -2 -2zM172.7 166.2l2 2 -2 2 -2 -2zM172.9 152.3l2 2 -2 2 -2 -2zM173.1 169.2l2 2 -2 2 -2 -2zM173.3 162.9l2 2 -2 2 -2 -2zM173.5 180.6l2 2 -2 2 -2 -2zM173.7 164.9l2 2 -2 2 -2 -2zM173.9 171.6l2 2 -2 2 -2 -2zM174.1 179l2 2 -2 2 -2 -2zM174.3 174.5l2 2 -2 2 -2 -2zM174.5 174.1l2 2 -2 2 -2 -2zM174.7 171.1l2 2 -2 2 -2 -2zM174.9 168.5l2 2 -2 2 -2 -2zM175.1 179.4l2 2 -2 2 -2 -2zM175.3 182.2l2 2 -2 2 -2 -2zM175.5 164.3l2 2 -2 2 -2 -2zM175.7 193.6l2 2 -2 2 -2 -2zM175.9 180.7l2 2 -2 2 -2 -2zM176.1 154.6l2 2 -2 2 -2 -2zM176.3 205.7l2 2 -2 2 -2 -2zM176.6 181.5l2 2 -2 2 -2 -2zM176.8 164.9l2 2 -2 2 -2 -2zM177 193l2 2 -2 2 -2 -2zM177.2 142l2 2 -2 2 -2 -2zM177.4 204.2l2 2 -2 2 -2 -2zM177.6 155.9l2 2 -2 2 -2 -2zM177.8 154.4l2 2 -2 2 -2 -2zM178 202.7l2 2 -2 2 -2 -2zM178.2 175.7l2 2 -2 2 -2 -2zM178.4 168.8l2 2 -2 2 -2 -2zM178.6 183.8l2 2 -2 2 -2 -2zM178.8 163.3l2 2 -2 2 -2 -2zM179 186.4l2 2 -2 2 -2 -2zM179.2 176.3l2 2 -2 2 -2 -2zM179.4 161l2 2 -2 2 -2 -2zM179.6 186.3l2 2 -2 2 -2 -2zM179.8 177.3l2 2 -2 2 -2 -2zM180 171l2 2 -2 2 -2 -2zM180.2 189l2 2 -2 2 -2 -2zM180.4 158.9l2 2 -2 2 -2 -2zM180.6 168.8l2 2 -2 2 -2 -2zM180.8 191l2 2 -2 2 -2 -2zM181 173.4l2 2 -2 2 -2 -2zM181.2 182.1l2 2 -2 2 -2 -2zM181.4 180.7l2 2 -2 2 -2 -2zM181.6 171.9l2 2 -2 2 -2 -2zM181.8 181.3l2 2 -2 2 -2 -2zM182 161.2l2 2 -2 2 -2 -2zM182.2 181.2l2 2 -2 2 -2 -2zM182.4 161l2 2 -2 2 -2 -2zM182.6 173.3l2 2 -2 2 -2 -2zM182.8 162.5l2 2 -2 2 -2 -2zM183 179.2l2 2 -2 2 -2 -2zM183.2 178.7l2 2 -2 2 -2 -2zM183.4 186.5l2 2 -2 2 -2 -2zM183.6 165.7l2 2 -2 2 -2 -2zM183.9 302.6l2 2 -2 2 -2 -2zM184.1 288.5l2 2 -2 2 -2 -2zM184.3 298.4l2 2 -2 2 -2 -2zM184.5 310.9l2 2 -2 2 -2 -2zM184.7 316.4l2 2 -2 2 -2 -2zM184.9 309.2l2 2 -2 2 -2 -2zM185.1 314.2l2 2 -2 2 -2 -2zM185.3 296.3l2 2 -2 2 -2 -2zM185.5 302.6l2 2 -2 2 -2 -2zM185.7 323.9l2 2 -2 2 -2 -2zM185.9 181.8l2 2 -2 2 -2 -2zM186.1 157.1l2 2 -2 2 -2 -2zM186.3 169.8l2 2 -2 2 -2 -2zM186.5 176.3l2 2 -2 2 -2 -2zM186.7 159.3l2 2 -2 2 -2 -2zM186.9 178.2l2 2 -2 2 -2 -2zM187.1 176.9l2 2 -2 2 -2 -2zM187.3 179.1l2 2 -2 2 -2 -2zM187.5 197.1l2 2 -2 2 -2 -2zM187.7 163.2l2 2 -2 2 -2 -2zM187.9 188l2 2 -2 2 -2 -2zM188.1 180.4l2 2 -2 2 -2 -2zM188.3 182.5l2 2 -2 2 -2 -2zM188.5 164.8l2 2 -2 2 -2 -2zM188.7 174.4l2 2 -2 2 -2 -2zM188.9 173.3l2 2 -2 2 -2 -2zM189.1 193.7l2 2 -2 2 -2 -2zM189.3 174.6l2 2 -2 2 -2 -2zM189.5 191.2l2 2 -2 2 -2 -2zM189.7 169.8l2 2 -2 2 -2 -2zM189.9 169.1l2 2 -2 2 -2 -2zM190.1 173.7l2 2 -2 2 -2 -2zM190.3 149l2 2 -2 2 -2 -2zM190.5 167.2l2 2 -2 2 -2 -2zM190.7 166.4l2 2 -2 2 -2 -2zM191 171.8l2 2 -2 2 -2 -2zM191.2 175.8l2 2 -2 2 -2 -2zM191.4 161.9l2 2 -2 2 -2 -2zM191.6 160.3l2 2 -2 2 -2 -2zM191.8 189.1l2 2 -2 2 -2 -2zM192 160.9l2 2 -2 2 -2 -2zM192.2 167.4l2 2 -2 2 -2 -2zM192.4 162l2 2 -2 2 -2 -2zM192.6 167.9l2 2 -2 2 -2 -2zM192.8 188.5l2 2 -2 2 -2 -2zM193 187.6l2 2 -2 2 -2 -2zM193.2 151.7l2 2 -2 2 -2 -2zM193.4 170.5l2 2 -2 2 -2 -2zM193.6 190.5l2 2 -2 2 -2 -2zM193.8 169.4l2 2 -2 2 -2 -2zM194 177.9l2 2 -2 2 -2 -2zM194.2 195.6l2 2 -2 2 -2 -2zM194.4 201l2 2 -2 2 -2 -2zM194.6 192.7l2 2 -2 2 -2 -2zM194.8 170.3l2 2 -2 2 -2 -2zM195 174.1l2 2 -2 2 -2 -2zM195.2 176.5l2 2 -2 2 -2 -2zM195.4 170.1l2 2 -2 2 -2 -2zM195.6 166.3l2 2 -2 2 -2 -2zM195.8 198.7l2 2 -2 2 -2 -2zM196 177.1l2 2 -2 2 -2 -2zM196.2 183.5l2 2 -2 2 -2 -2zM196.4 188.3l2 2 -2 2 -2 -2zM196.6 180.1l2 2 -2 2 -2 -2zM196.8 175l2 2 -2 2 -2 -2zM197 176.7l2 2 -2 2 -2 -2zM197.2 191l2 2 -2 2 -2 -2zM197.4 179.3l2 2 -2 2 -2 -2zM197.6 149.4l2 2 -2 2 -2 -2zM197.8 186.2l2 2 -2 2 -2 -2zM198 193.8l2 2 -2 2 -2 -2zM198.3 170.2l2 2 -2 2 -2 -2zM198.5 166.4l2 2 -2 2 -2 -2zM198.7 168l2 2 -2 2 -2 -2zM198.9 187l2 2 -2 2 -2 -2zM199.1 161.6l2 2 -2 2 -2 -2zM199.3 182.9l2 2 -2 2 -2 -2zM199.5 187.1l2 2 -2 2 -2 -2zM199.7 180.8l2 2 -2 2 -2 -2zM199.9 174.8l2 2 -2 2 -2 -2zM200.1 295.5l2 2 -2 2 -2 -2zM200.3 296.6l2 2 -2 2 -2 -2zM200.5 304.4l2 2 -2 2 -2 -2zM200.7 292.9l2 2 -2 2 -2 -2zM200.9 303.1l2 2 -2 2 -2 -2zM201.1 293.4l2 2 -2 2 -2 -2zM201.3 320.9l2 2 -2 2 -2 -2zM201.5 323l2 2 -2 2 -2 -2zM201.7 294.8l2 2 -2 2 -2 -2zM201.9 320.8l2 2 -2 2 -2 -2zM202.1 313.3l2 2 -2 2 -2 -2zM202.3 305.3l2 2 -2 2 -2 -2zM202.5 310l2 2 -2 2 -2 -2zM202.7 309.5l2 2 -2 2 -2 -2zM202.9 287.4l2 2 -2 2 -2 -2zM203.1 334.4l2 2 -2 2 -2 -2zM203.3 293.5l2 2 -2 2 -2 -2zM203.5 276.6l2 2 -2 2 -2 -2zM203.7 303.8l2 2 -2 2 -2 -2zM203.9 304.3l2 2 -2 2 -2 -2zM204.1 295.4l2 2 -2 2 -2 -2zM204.3 282.2l2 2 -2 2 -2 -2zM204.5 272.4l2 2 -2 2 -2 -2zM204.7 303.1l2 2 -2 2 -2 -2zM204.9 306.3l2 2 -2 2 -2 -2zM205.1 297.4l2 2 -2 2 -2 -2zM205.4 302.2l2 2 -2 2 -2 -2zM205.6 296.2l2 2 -2 2 -2 -2zM205.8 309.2l2 2 -2 2 -2 -2zM206 303.5l2 2 -2 2 -2 -2zM206.2 312.1l2 2 -2 2 -2 -2zM206.4 312.1l2 2 -2 2 -2 -2zM206.6 305.8l2 2 -2 2 -2 -2zM206.8 305.8l2 2 -2 2 -2 -2zM207 318.2l2 2 -2 2 -2 -2zM207.2 285.3l2 2 -2 2 -2 -2zM207.4 305.7l2 2 -2 2 -2 -2zM207.6 320.7l2 2 -2 2 -2 -2zM207.8 290.9l2 2 -2 2 -2 -2zM208 313.1l2 2 -2 2 -2 -2zM208.2 298l2 2 -2 2 -2 -2zM208.4 304.3l2 2 -2 2 -2 -2zM208.6 301.1l2 2 -2 2 -2 -2zM208.8 302.1l2 2 -2 2 -2 -2zM209 267l2 2 -2 2 -2 -2zM209.2 303.6l2 2 -2 2 -2 -2zM209.4 279.7l2 2 -2 2 -2 -2zM209.6 330.9l2 2 -2 2 -2 -2zM209.8 303.3l2 2 -2 2 -2 -2zM210 298.9l2 2 -2 2 -2 -2zM210.2 316.7l2 2 -2 2 -2 -2zM210.4 320.5l2 2 -2 2 -2 -2zM210.6 278.2l2 2 -2 2 -2 -2zM210.8 308.6l2 2 -2 2 -2 -2zM211 279.2l2 2 -2 2 -2 -2zM211.2 297.7l2 2 -2 2 -2 -2zM211.4 303.3l2 2 -2 2 -2 -2zM211.6 298.5l2 2 -2 2 -2 -2zM211.8 296.6l2 2 -2 2 -2 -2zM212 290.1l2 2 -2 2 -2 -2zM212.2 299.1l2 2 -2 2 -2 -2zM212.4 302.6l2 2 -2 2 -2 -2zM212.7 302.3l2 2 -2 2 -2 -2zM212.9 288.2l2 2 -2 2 -2 -2zM213.1 294.6l2 2 -2 2 -2 -2zM213.3 273.4l2 2 -2 2 -2 -2zM213.5 312.1l2 2 -2 2 -2 -2zM213.7 300.6l2 2 -2 2 -2 -2zM213.9 312l2 2 -2 2 -2 -2zM214.1 309.1l2 2 -2 2 -2 -2zM214.3 316.1l2 2 -2 2 -2 -2zM214.5 307.8l2 2 -2 2 -2 -2zM214.7 299.6l2 2 -2 2 -2 -2zM214.9 292.8l2 2 -2 2 -2 -2zM215.1 304.6l2 2 -2 2 -2 -2zM215.3 279.9l2 2 -2 2 -2 -2zM215.5 305.7l2 2 -2 2 -2 -2zM215.7 266.5l2 2 -2 2 -2 -2zM215.9 292.8l2 2 -2 2 -2 -2zM216.1 298.9l2 2 -2 2 -2 -2zM216.3 310.9l2 2 -2 2 -2 -2zM216.5 338.8l2 2 -2 2 -2 -2zM216.7 306.8l2 2 -2 2 -2 -2zM216.9 302.9l2 2 -2 2 -2 -2zM217.1 282l2 2 -2 2 -2 -2zM217.3 321.6l2 2 -2 2 -2 -2zM217.5 282.2l2 2 -2 2 -2 -2zM217.7 308.1l2 2 -2 2 -2 -2zM217.9 296.5l2 2 -2 2 -2 -2zM218.1 335.6l2 2 -2 2 -2 -2zM218.3 303.6l2 2 -2 2 -2 -2zM218.5 309.4l2 2 -2 2 -2 -2zM218.7 297.1l2 2 -2 2 -2 -2zM218.9 304.2l2 2 -2 2 -2 -2zM219.1 319l2 2 -2 2 -2 -2zM219.3 294l2 2 -2 2 -2 -2zM219.5 297.1l2 2 -2 2 -2 -2zM219.8 298.3l2 2 -2 2 -2 -2zM220 293.4l2 2 -2 2 -2 -2zM220.2 292.3l2 2 -2 2 -2 -2zM220.4 305.8l2 2 -2 2 -2 -2zM220.6 321.8l2 2 -2 2 -2 -2zM220.8 322.2l2 2 -2 2 -2 -2zM221 289.4l2 2 -2 2 -2 -2zM221.2 297.1l2 2 -2 2 -2 -2zM221.4 304.4l2 2 -2 2 -2 -2zM221.6 310.9l2 2 -2 2 -2 -2zM221.8 305.4l2 2 -2 2 -2 -2zM222 305.5l2 2 -2 2 -2 -2zM222.2 309.8l2 2 -2 2 -2 -2zM222.4 314.2l2 2 -2 2 -2 -2zM222.6 279.9l2 2 -2 2 -2 -2zM222.8 303.1l2 2 -2 2 -2 -2zM223 313.2l2 2 -2 2 -2 -2zM223.2 321.6l2 2 -2 2 -2 -2zM223.4 314.7l2 2 -2 2 -2 -2zM223.6 297.4l2 2 -2 2 -2 -2zM223.8 296.9l2 2 -2 2 -2 -2zM224 308.7l2 2 -2 2 -2 -2zM224.2 305.5l2 2 -2 2 -2 -2zM224.4 309.8l2 2 -2 2 -2 -2zM224.6 319.4l2 2 -2 2 -2 -2zM224.8 290.6l2 2 -2 2 -2 -2zM225 301.7l2 2 -2 2 -2 -2zM225.2 276.5l2 2 -2 2 -2 -2zM225.4 315.3l2 2 -2 2 -2 -2zM225.6 307.9l2 2 -2 2 -2 -2zM225.8 277.4l2 2 -2 2 -2 -2zM226 309.3l2 2 -2 2 -2 -2zM226.2 323l2 2 -2 2 -2 -2zM226.4 317.8l2 2 -2 2 -2 -2zM226.6 305.2l2 2 -2 2 -2 -2zM226.8 302.4l2 2 -2 2 -2 -2zM227.1 307.6l2 2 -2 2 -2 -2zM227.3 294.5l2 2 -2 2 -2 -2zM227.5 294.7l2 2 -2 2 -2 -2zM227.7 302.7l2 2 -2 2 -2 -2zM227.9 306.3l2 2 -2 2 -2 -2zM228.1 309.7l2 2 -2 2 -2 -2zM228.3 300.1l2 2 -2 2 -2 -2zM228.5 295.7l2 2 -2 2 -2 -2zM228.7 306l2 2 -2 2 -2 -2zM228.9 301.4l2 2 -2 2 -2 -2zM229.1 310.6l2 2 -2 2 -2 -2zM229.3 323.6l2 2 -2 2 -2 -2zM229.5 318.6l2 2 -2 2 -2 -2zM229.7 297.4l2 2 -2 2 -2 -2zM229.9 301.2l2 2 -2 2 -2 -2zM230.1 287.4l2 2 -2 2 -2 -2zM230.3 305.8l2 2 -2 2 -2 -2zM230.5 296.1l2 2 -2 2 -2 -2zM230.7 290.5l2 2 -2 2 -2 -2zM230.9 294.4l2 2 -2 2 -2 -2zM231.1 313.6l2 2 -2 2 -2 -2zM231.3 308.5l2 2 -2 2 -2 -2zM231.5 304.7l2 2 -2 2 -2 -2zM231.7 318l2 2 -2 2 -2 -2zM231.9 300.5l2 2 -2 2 -2 -2zM232.1 293.8l2 2 -2 2 -2 -2zM232.3 311.8l2 2 -2 2 -2 -2zM232.5 282.4l2 2 -2 2 -2 -2zM232.7 309.5l2 2 -2 2 -2 -2zM232.9 308.4l2 2 -2 2 -2 -2zM233.1 308.8l2 2 -2 2 -2 -2zM233.3 314.4l2 2 -2 2 -2 -2zM233.5 300.8l2 2 -2 2 -2 -2zM233.7 305.6l2 2 -2 2 -2 -2zM233.9 285.8l2 2 -2 2 -2 -2zM234.2 298.4l2 2 -2 2 -2 -2zM234.4 299.2l2 2 -2 2 -2 -2zM234.6 308.3l2 2 -2 2 -2 -2zM234.8 322.6l2 2 -2 2 -2 -2zM235 306.6l2 2 -2 2 -2 -2zM235.2 315.7l2 2 -2 2 -2 -2zM235.4 294.1l2 2 -2 2 -2 -2zM235.6 305.8l2 2 -2 2 -2 -2zM235.8 285.4l2 2 -2 2 -2 -2zM236 296.5l2 2 -2 2 -2 -2zM236.2 295.3l2 2 -2 2 -2 -2zM236.4 302.5l2 2 -2 2 -2 -2zM236.6 302.7l2 2 -2 2 -2 -2zM236.8 297.4l2 2 -2 2 -2 -2zM237 294.1l2 2 -2 2 -2 -2zM237.2 313.6l2 2 -2 2 -2 -2zM237.4 299.2l2 2 -2 2 -2 -2zM237.6 273.6l2 2 -2 2 -2 -2zM237.8 306.1l2 2 -2 2 -2 -2zM238 308l2 2 -2 2 -2 -2zM238.2 313.2l2 2 -2 2 -2 -2zM238.4 322.2l2 2 -2 2 -2 -2zM238.6 290.6l2 2 -2 2 -2 -2zM238.8 304.1l2 2 -2 2 -2 -2zM239 301.2l2 2 -2 2 -2 -2zM239.2 282.6l2 2 -2 2 -2 -2zM239.4 274.6l2 2 -2 2 -2 -2zM239.6 315.3l2 2 -2 2 -2 -2zM239.8 292l2 2 -2 2 -2 -2zM240 297.1l2 2 -2 2 -2 -2zM240.2 299.7l2 2 -2 2 -2 -2zM240.4 298.7l2 2 -2 2 -2 -2zM240.6 304.7l2 2 -2 2 -2 -2zM240.8 285.3l2 2 -2 2 -2 -2zM241 297l2 2 -2 2 -2 -2zM241.2 300.2l2 2 -2 2 -2 -2zM241.5 289.3l2 2 -2 2 -2 -2zM241.7 293.5l2 2 -2 2 -2 -2zM241.9 298.6l2 2 -2 2 -2 -2zM242.1 300.2l2 2 -2 2 -2 -2zM242.3 283l2 2 -2 2 -2 -2zM242.5 298.1l2 2 -2 2 -2 -2zM242.7 305.5l2 2 -2 2 -2 -2zM242.9 315l2 2 -2 2 -2 -2zM243.1 309.1l2 2 -2 2 -2 -2zM243.3 317.8l2 2 -2 2 -2 -2zM243.5 304.1l2 2 -2 2 -2 -2zM243.7 302.6l2 2 -2 2 -2 -2zM243.9 330.5l2 2 -2 2 -2 -2zM244.1 305.9l2 2 -2 2 -2 -2zM244.3 298.6l2 2 -2 2 -2 -2zM244.5 304.6l2 2 -2 2 -2 -2zM244.7 318.3l2 2 -2 2 -2 -2zM244.9 291.9l2 2 -2 2 -2 -2zM245.1 315.7l2 2 -2 2 -2 -2zM245.3 322.3l2 2 -2 2 -2 -2zM245.5 320.8l2 2 -2 2 -2 -2zM245.7 308.2l2 2 -2 2 -2 -2zM245.9 296.5l2 2 -2 2 -2 -2zM246.1 294.6l2 2 -2 2 -2 -2zM246.3 306.3l2 2 -2 2 -2 -2zM246.5 323.3l2 2 -2 2 -2 -2zM246.7 317.2l2 2 -2 2 -2 -2zM246.9 320.3l2 2 -2 2 -2 -2zM247.1 311.9l2 2 -2 2 -2 -2zM247.3 331.3l2 2 -2 2 -2 -2zM247.5 308.9l2 2 -2 2 -2 -2zM247.7 302.7l2 2 -2 2 -2 -2zM247.9 312.5l2 2 -2 2 -2 -2zM248.1 305.4l2 2 -2 2 -2 -2zM248.3 322.5l2 2 -2 2 -2 -2zM248.6 328.9l2 2 -2 2 -2 -2zM248.8 319.3l2 2 -2 2 -2 -2zM249 298.1l2 2 -2 2 -2 -2zM249.2 299.8l2 2 -2 2 -2 -2zM249.4 317.9l2 2 -2 2 -2 -2zM249.6 298.2l2 2 -2 2 -2 -2zM249.8 325.7l2 2 -2 2 -2 -2zM250 295l2 2 -2 2 -2 -2zM250.2 307.6l2 2 -2 2 -2 -2zM250.4 319l2 2 -2 2 -2 -2zM250.6 304.3l2 2 -2 2 -2 -2zM250.8 323.4l2 2 -2 2 -2 -2zM251 325.6l2 2 -2 2 -2 -2zM251.2 332l2 2 -2 2 -2 -2zM251.4 311.7l2 2 -2 2 -2 -2zM251.6 315.7l2 2 -2 2 -2 -2zM251.8 316.2l2 2 -2 2 -2 -2zM252 320.5l2 2 -2 2 -2 -2zM252.2 298.5l2 2 -2 2 -2 -2zM252.4 321.1l2 2 -2 2 -2 -2zM252.6 324.9l2 2 -2 2 -2 -2zM252.8 301.6l2 2 -2 2 -2 -2zM253 299.7l2 2 -2 2 -2 -2zM253.2 312.9l2 2 -2 2 -2 -2zM253.4 338.1l2 2 -2 2 -2 -2zM253.6 331.4l2 2 -2 2 -2 -2zM253.8 310.3l2 2 -2 2 -2 -2zM254 317.7l2 2 -2 2 -2 -2zM254.2 299.5l2 2 -2 2 -2 -2zM254.4 334.8l2 2 -2 2 -2 -2zM254.6 310.5l2 2 -2 2 -2 -2zM254.8 326.4l2 2 -2 2 -2 -2zM255 303.3l2 2 -2 2 -2 -2zM255.2 320.3l2 2 -2 2 -2 -2zM255.4 307.3l2 2 -2 2 -2 -2zM255.6 327.6l2 2 -2 2 -2 -2zM255.9 337l2 2 -2 2 -2 -2zM256.1 333.2l2 2 -2 2 -2 -2zM256.3 327l2 2 -2 2 -2 -2zM256.5 331.9l2 2 -2 2 -2 -2zM256.7 305.1l2 2 -2 2 -2 -2zM256.9 303.2l2 2 -2 2 -2 -2zM257.1 315.9l2 2 -2 2 -2 -2zM257.3 331.4l2 2 -2 2 -2 -2zM257.5 320.2l2 2 -2 2 -2 -2zM257.7 326.9l2 2 -2 2 -2 -2zM257.9 301.1l2 2 -2 2 -2 -2zM258.1 314.5l2 2 -2 2 -2 -2zM258.3 286.9l2 2 -2 2 -2 -2zM258.5 322.8l2 2 -2 2 -2 -2zM258.7 342l2 2 -2 2 -2 -2zM258.9 326.9l2 2 -2 2 -2 -2zM259.1 330.9l2 2 -2 2 -2 -2zM259.3 312.9l2 2 -2 2 -2 -2zM259.5 316.1l2 2 -2 2 -2 -2zM259.7 326.7l2 2 -2 2 -2 -2zM259.9 321.6l2 2 -2 2 -2 -2zM260.1 298l2 2 -2 2 -2 -2zM260.3 328.1l2 2 -2 2 -2 -2zM260.5 327.4l2 2 -2 2 -2 -2zM260.7 319l2 2 -2 2 -2 -2zM260.9 324.5l2 2 -2 2 -2 -2zM261.1 321.1l2 2 -2 2 -2 -2zM261.3 309.4l2 2 -2 2 -2 -2zM261.5 294.8l2 2 -2 2 -2 -2zM261.7 336.8l2 2 -2 2 -2 -2zM261.9 315.5l2 2 -2 2 -2 -2zM262.1 314.6l2 2 -2 2 -2 -2zM262.3 316l2 2 -2 2 -2 -2zM262.5 317.1l2 2 -2 2 -2 -2zM262.7 318.7l2 2 -2 2 -2 -2zM263 302.5l2 2 -2 2 -2 -2zM263.2 319.9l2 2 -2 2 -2 -2zM263.4 315.7l2 2 -2 2 -2 -2zM263.6 314l2 2 -2 2 -2 -2zM263.8 312.6l2 2 -2 2 -2 -2zM264 315.7l2 2 -2 2 -2 -2zM264.2 301.6l2 2 -2 2 -2 -2zM264.4 313.5l2 2 -2 2 -2 -2zM264.6 311.1l2 2 -2 2 -2 -2zM264.8 313.7l2 2 -2 2 -2 -2zM265 324.9l2 2 -2 2 -2 -2zM265.2 322.7l2 2 -2 2 -2 -2zM265.4 325.2l2 2 -2 2 -2 -2zM265.6 310.2l2 2 -2 2 -2 -2zM265.8 320.9l2 2 -2 2 -2 -2zM266 324.9l2 2 -2 2 -2 -2zM266.2 309.2l2 2 -2 2 -2 -2zM266.4 305.6l2 2 -2 2 -2 -2zM266.6 332.9l2 2 -2 2 -2 -2zM266.8 291.4l2 2 -2 2 -2 -2zM267 311.1l2 2 -2 2 -2 -2zM267.2 312.6l2 2 -2 2 -2 -2zM267.4 298.4l2 2 -2 2 -2 -2zM267.6 310.3l2 2 -2 2 -2 -2zM267.8 318.2l2 2 -2 2 -2 -2zM268 353l2 2 -2 2 -2 -2zM268.2 323.6l2 2 -2 2 -2 -2zM268.4 311.7l2 2 -2 2 -2 -2zM268.6 300.2l2 2 -2 2 -2 -2zM268.8 323.1l2 2 -2 2 -2 -2zM269 311.3l2 2 -2 2 -2 -2zM269.2 305.3l2 2 -2 2 -2 -2zM269.4 281l2 2 -2 2 -2 -2zM269.6 320.4l2 2 -2 2 -2 -2zM269.8 310.1l2 2 -2 2 -2 -2zM270 301.5l2 2 -2 2 -2 -2zM270.3 308.3l2 2 -2 2 -2 -2zM270.5 323.6l2 2 -2 2 -2 -2zM270.7 304.1l2 2 -2 2 -2 -2zM270.9 307.6l2 2 -2 2 -2 -2zM271.1 303.4l2 2 -2 2 -2 -2zM271.3 295l2 2 -2 2 -2 -2zM271.5 296.3l2 2 -2 2 -2 -2zM271.7 303.4l2 2 -2 2 -2 -2zM271.9 304.4l2 2 -2 2 -2 -2zM272.1 321.2l2 2 -2 2 -2 -2zM272.3 309.5l2 2 -2 2 -2 -2zM272.5 305.1l2 2 -2 2 -2 -2zM272.7 312.4l2 2 -2 2 -2 -2zM272.9 306.3l2 2 -2 2 -2 -2zM273.1 317.2l2 2 -2 2 -2 -2zM273.3 288.8l2 2 -2 2 -2 -2zM273.5 281.2l2 2 -2 2 -2 -2zM273.7 311.6l2 2 -2 2 -2 -2zM273.9 302l2 2 -2 2 -2 -2zM274.1 309.5l2 2 -2 2 -2 -2zM274.3 291.6l2 2 -2 2 -2 -2zM274.5 301.4l2 2 -2 2 -2 -2zM274.7 305.7l2 2 -2 2 -2 -2zM274.9 309.3l2 2 -2 2 -2 -2zM275.1 305.1l2 2 -2 2 -2 -2zM275.3 318.5l2 2 -2 2 -2 -2zM275.5 298.4l2 2 -2 2 -2 -2zM275.7 315l2 2 -2 2 -2 -2zM275.9 300l2 2 -2 2 -2 -2zM276.1 304.8l2 2 -2 2 -2 -2zM276.3 293.2l2 2 -2 2 -2 -2zM276.5 306.5l2 2 -2 2 -2 -2zM276.7 294l2 2 -2 2 -2 -2zM276.9 317.3l2 2 -2 2 -2 -2zM277.1 298.9l2 2 -2 2 -2 -2zM277.4 308.9l2 2 -2 2 -2 -2zM277.6 303.8l2 2 -2 2 -2 -2zM277.8 305.3l2 2 -2 2 -2 -2zM278 294.9l2 2 -2 2 -2 -2zM278.2 330.3l2 2 -2 2 -2 -2zM278.4 302.2l2 2 -2 2 -2 -2zM278.6 323.9l2 2 -2 2 -2 -2zM278.8 291.5l2 2 -2 2 -2 -2zM279 329.6l2 2 -2 2 -2 -2zM279.2 317.9l2 2 -2 2 -2 -2zM279.4 325.9l2 2 -2 2 -2 -2zM279.6 286.2l2 2 -2 2 -2 -2zM279.8 309l2 2 -2 2 -2 -2zM280 304.4l2 2 -2 2 -2 -2zM280.2 312.2l2 2 -2 2 -2 -2zM280.4 327.3l2 2 -2 2 -2 -2zM280.6 309.7l2 2 -2 2 -2 -2zM280.8 297.7l2 2 -2 2 -2 -2zM281 307.8l2 2 -2 2 -2 -2zM281.2 294.3l2 2 -2 2 -2 -2zM281.4 309.9l2 2 -2 2 -2 -2zM281.6 305.4l2 2 -2 2 -2 -2zM281.8 310.1l2 2 -2 2 -2 -2zM282 301.3l2 2 -2 2 -2 -2zM282.2 282.6l2 2 -2 2 -2 -2zM282.4 301l2 2 -2 2 -2 -2zM282.6 303l2 2 -2 2 -2 -2zM282.8 312.7l2 2 -2 2 -2 -2zM283 314.3l2 2 -2 2 -2 -2zM283.2 287.7l2 2 -2 2 -2 -2zM283.4 318.5l2 2 -2 2 -2 -2zM283.6 316.1l2 2 -2 2 -2 -2zM283.8 306.3l2 2 -2 2 -2 -2zM284 310.2l2 2 -2 2 -2 -2zM284.2 281.6l2 2 -2 2 -2 -2zM284.4 333.4l2 2 -2 2 -2 -2zM284.7 300.7l2 2 -2 2 -2 -2zM284.9 160.6l2 2 -2 2 -2 -2zM285.1 182.7l2 2 -2 2 -2 -2zM285.3 177.2l2 2 -2 2 -2 -2zM285.5 164.4l2 2 -2 2 -2 -2zM285.7 150.1l2 2 -2 2 -2 -2zM285.9 180.8l2 2 -2 2 -2 -2zM286.1 188.9l2 2 -2 2 -2 -2zM286.3 236.1l2 2 -2 2 -2 -2zM286.5 151.9l2 2 -2 2 -2 -2zM286.7 174.3l2 2 -2 2 -2 -2zM286.9 197l2 2 -2 2 -2 -2zM287.1 153.1l2 2 -2 2 -2 -2zM287.3 173l2 2 -2 2 -2 -2zM287.5 157.3l2 2 -2 2 -2 -2zM287.7 171.4l2 2 -2 2 -2 -2zM287.9 175.5l2 2 -2 2 -2 -2zM288.1 176.6l2 2 -2 2 -2 -2zM288.3 153.6l2 2 -2 2 -2 -2zM288.5 154.2l2 2 -2 2 -2 -2zM288.7 197.2l2 2 -2 2 -2 -2zM288.9 182.9l2 2 -2 2 -2 -2zM289.1 150.5l2 2 -2 2 -2 -2zM289.3 176.3l2 2 -2 2 -2 -2zM289.5 188.3l2 2 -2 2 -2 -2zM289.7 172.1l2 2 -2 2 -2 -2zM289.9 173.6l2 2 -2 2 -2 -2zM290.1 173.6l2 2 -2 2 -2 -2zM290.3 178.3l2 2 -2 2 -2 -2zM290.5 176.3l2 2 -2 2 -2 -2zM290.7 178.2l2 2 -2 2 -2 -2zM290.9 168.9l2 2 -2 2 -2 -2zM291.1 182.7l2 2 -2 2 -2 -2zM291.3 176.6l2 2 -2 2 -2 -2zM291.5 175l2 2 -2 2 -2 -2zM291.8 157.7l2 2 -2 2 -2 -2zM292 169l2 2 -2 2 -2 -2zM292.2 174.9l2 2 -2 2 -2 -2zM292.4 167.3l2 2 -2 2 -2 -2zM292.6 169l2 2 -2 2 -2 -2zM292.8 188.4l2 2 -2 2 -2 -2zM293 168l2 2 -2 2 -2 -2zM293.2 152.7l2 2 -2 2 -2 -2zM293.4 158.2l2 2 -2 2 -2 -2zM293.6 175l2 2 -2 2 -2 -2zM293.8 179.6l2 2 -2 2 -2 -2zM294 164.1l2 2 -2 2 -2 -2zM294.2 168.6l2 2 -2 2 -2 -2zM294.4 176.1l2 2 -2 2 -2 -2zM294.6 192.8l2 2 -2 2 -2 -2zM294.8 197.2l2 2 -2 2 -2 -2zM295 171.2l2 2 -2 2 -2 -2zM295.2 166.2l2 2 -2 2 -2 -2zM295.4 165.9l2 2 -2 2 -2 -2zM295.6 191.1l2 2 -2 2 -2 -2zM295.8 163.4l2 2 -2 2 -2 -2zM296 182.4l2 2 -2 2 -2 -2zM296.2 171.4l2 2 -2 2 -2 -2zM296.4 171.2l2 2 -2 2 -2 -2zM296.6 185.8l2 2 -2 2 -2 -2zM296.8 183.2l2 2 -2 2 -2 -2zM297 200.9l2 2 -2 2 -2 -2zM297.2 187l2 2 -2 2 -2 -2zM297.4 197.6l2 2 -2 2 -2 -2zM297.6 170.7l2 2 -2 2 -2 -2zM297.8 175.1l2 2 -2 2 -2 -2zM298 164.9l2 2 -2 2 -2 -2zM298.2 171.5l2 2 -2 2 -2 -2zM298.4 183.3l2 2 -2 2 -2 -2zM298.6 171.5l2 2 -2 2 -2 -2zM298.8 180.3l2 2 -2 2 -2 -2zM299.1 168.3l2 2 -2 2 -2 -2zM299.3 171.7l2 2 -2 2 -2 -2zM299.5 187.3l2 2 -2 2 -2 -2zM299.7 175.4l2 2 -2 2 -2 -2zM299.9 174.7l2 2 -2 2 -2 -2zM300.1 179l2 2 -2 2 -2 -2zM300.3 164.6l2 2 -2 2 -2 -2zM300.5 154.7l2 2 -2 2 -2 -2zM300.7 179.6l2 2 -2 2 -2 -2zM300.9 179.3l2 2 -2 2 -2 -2zM301.1 202.1l2 2 -2 2 -2 -2zM301.3 176.6l2 2 -2 2 -2 -2zM301.5 180.2l2 2 -2 2 -2 -2zM301.7 200.9l2 2 -2 2 -2 -2zM301.9 171.4l2 2 -2 2 -2 -2zM302.1 167.8l2 2 -2 2 -2 -2zM302.3 183.6l2 2 -2 2 -2 -2zM302.5 179.2l2 2 -2 2 -2 -2zM302.7 186.3l2 2 -2 2 -2 -2zM302.9 165.5l2 2 -2 2 -2 -2zM303.1 192.8l2 2 -2 2 -2 -2zM303.3 178.3l2 2 -2 2 -2 -2zM303.5 151.1l2 2 -2 2 -2 -2zM303.7 173.9l2 2 -2 2 -2 -2zM303.9 168.8l2 2 -2 2 -2 -2zM304.1 176.1l2 2 -2 2 -2 -2zM304.3 188.4l2 2 -2 2 -2 -2zM304.5 174.7l2 2 -2 2 -2 -2zM304.7 169.4l2 2 -2 2 -2 -2zM304.9 186.4l2 2 -2 2 -2 -2zM305.1 170l2 2 -2 2 -2 -2zM305.3 159.2l2 2 -2 2 -2 -2zM305.5 161.2l2 2 -2 2 -2 -2zM305.7 193l2 2 -2 2 -2 -2zM305.9 185.6l2 2 -2 2 -2 -2zM306.2 193.2l2 2 -2 2 -2 -2zM306.4 161l2 2 -2 2 -2 -2zM306.6 166.5l2 2 -2 2 -2 -2zM306.8 165.3l2 2 -2 2 -2 -2zM307 184.2l2 2 -2 2 -2 -2zM307.2 187.6l2 2 -2 2 -2 -2zM307.4 172.7l2 2 -2 2 -2 -2zM307.6 172.3l2 2 -2 2 -2 -2zM307.8 183.8l2 2 -2 2 -2 -2zM308 171.8l2 2 -2 2 -2 -2zM308.2 165.7l2 2 -2 2 -2 -2zM308.4 170.6l2 2 -2 2 -2 -2zM308.6 185.8l2 2 -2 2 -2 -2zM308.8 198.6l2 2 -2 2 -2 -2zM309 176.3l2 2 -2 2 -2 -2zM309.2 171.2l2 2 -2 2 -2 -2zM309.4 176.2l2 2 -2 2 -2 -2zM309.6 178.2l2 2 -2 2 -2 -2zM309.8 181.3l2 2 -2 2 -2 -2zM310 164.4l2 2 -2 2 -2 -2zM310.2 173.6l2 2 -2 2 -2 -2zM310.4 171.4l2 2 -2 2 -2 -2zM310.6 184.5l2 2 -2 2 -2 -2zM310.8 180.2l2 2 -2 2 -2 -2zM311 170.8l2 2 -2 2 -2 -2zM311.2 184.8l2 2 -2 2 -2 -2zM311.4 187.7l2 2 -2 2 -2 -2zM311.6 176.5l2 2 -2 2 -2 -2zM311.8 158.1l2 2 -2 2 -2 -2zM312 170.2l2 2 -2 2 -2 -2zM312.2 155l2 2 -2 2 -2 -2zM312.4 174l2 2 -2 2 -2 -2zM312.6 176.1l2 2 -2 2 -2 -2zM312.8 189l2 2 -2 2 -2 -2zM313 179.2l2 2 -2 2 -2 -2zM313.2 155l2 2 -2 2 -2 -2zM313.5 168.2l2 2 -2 2 -2 -2zM313.7 163.3l2 2 -2 2 -2 -2zM313.9 163.6l2 2 -2 2 -2 -2zM314.1 172.1l2 2 -2 2 -2 -2zM314.3 174.4l2 2 -2 2 -2 -2zM314.5 170.5l2 2 -2 2 -2 -2zM314.7 163.8l2 2 -2 2 -2 -2zM314.9 166.3l2 2 -2 2 -2 -2zM315.1 165.9l2 2 -2 2 -2 -2zM315.3 169.9l2 2 -2 2 -2 -2zM315.5 180.9l2 2 -2 2 -2 -2zM315.7 174.8l2 2 -2 2 -2 -2zM315.9 182.9l2 2 -2 2 -2 -2zM316.1 159.5l2 2 -2 2 -2 -2zM316.3 196.7l2 2 -2 2 -2 -2zM316.5 174.1l2 2 -2 2 -2 -2zM316.7 142.8l2 2 -2 2 -2 -2zM316.9 175.4l2 2 -2 2 -2 -2zM317.1 197.2l2 2 -2 2 -2 -2zM317.3 171.5l2 2 -2 2 -2 -2zM317.5 155.7l2 2 -2 2 -2 -2zM317.7 173.1l2 2 -2 2 -2 -2zM317.9 163.8l2 2 -2 2 -2 -2zM318.1 169.9l2 2 -2 2 -2 -2zM318.3 175.5l2 2 -2 2 -2 -2zM318.5 133.2l2 2 -2 2 -2 -2zM318.7 170.1l2 2 -2 2 -2 -2zM318.9 177.3l2 2 -2 2 -2 -2zM319.1 176.8l2 2 -2 2 -2 -2zM319.3 166.3l2 2 -2 2 -2 -2zM319.5 166l2 2 -2 2 -2 -2zM319.7 161.7l2 2 -2 2 -2 -2zM319.9 169.3l2 2 -2 2 -2 -2zM320.1 188.2l2 2 -2 2 -2 -2zM320.3 164.7l2 2 -2 2 -2 -2zM320.5 174.8l2 2 -2 2 -2 -2zM320.8 174.5l2 2 -2 2 -2 -2zM321 188.9l2 2 -2 2 -2 -2zM321.2 178l2 2 -2 2 -2 -2zM321.4 179.9l2 2 -2 2 -2 -2zM321.6 171.6l2 2 -2 2 -2 -2zM321.8 188.6l2 2 -2 2 -2 -2zM322 170.6l2 2 -2 2 -2 -2zM322.2 169.8l2 2 -2 2 -2 -2zM322.4 184.7l2 2 -2 2 -2 -2zM322.6 178.8l2 2 -2 2 -2 -2zM322.8 181.6l2 2 -2 2 -2 -2zM323 214.6l2 2 -2 2 -2 -2zM323.2 201.7l2 2 -2 2 -2 -2zM323.4 175.5l2 2 -2 2 -2 -2zM323.6 191.3l2 2 -2 2 -2 -2zM323.8 176.6l2 2 -2 2 -2 -2zM324 161.3l2 2 -2 2 -2 -2zM324.2 179l2 2 -2 2 -2 -2zM324.4 152.4l2 2 -2 2 -2 -2zM324.6 181.7l2 2 -2 2 -2 -2zM324.8 148.3l2 2 -2 2 -2 -2zM325 160.6l2 2 -2 2 -2 -2zM325.2 158.1l2 2 -2 2 -2 -2zM325.4 187.6l2 2 -2 2 -2 -2zM325.6 184.9l2 2 -2 2 -2 -2zM325.8 158.7l2 2 -2 2 -2 -2zM326 174l2 2 -2 2 -2 -2zM326.2 174.8l2 2 -2 2 -2 -2zM326.4 167.7l2 2 -2 2 -2 -2zM326.6 186.8l2 2 -2 2 -2 -2zM326.8 162.5l2 2 -2 2 -2 -2zM327 171.6l2 2 -2 2 -2 -2zM327.2 166.1l2 2 -2 2 -2 -2zM327.4 179.9l2 2 -2 2 -2 -2zM327.6 165.7l2 2 -2 2 -2 -2zM327.9 180.4l2 2 -2 2 -2 -2zM328.1 160.5l2 2 -2 2 -2 -2zM328.3 158.4l2 2 -2 2 -2 -2zM328.5 161.1l2 2 -2 2 -2 -2zM328.7 165.8l2 2 -2 2 -2 -2zM328.9 164.4l2 2 -2 2 -2 -2zM329.1 204.5l2 2 -2 2 -2 -2zM329.3 162.1l2 2 -2 2 -2 -2zM329.5 175.4l2 2 -2 2 -2 -2zM329.7 171l2 2 -2 2 -2 -2zM329.9 175.6l2 2 -2 2 -2 -2zM330.1 188.9l2 2 -2 2 -2 -2zM330.3 178.7l2 2 -2 2 -2 -2zM330.5 164.3l2 2 -2 2 -2 -2zM330.7 155.3l2 2 -2 2 -2 -2zM330.9 179.7l2 2 -2 2 -2 -2zM331.1 183.1l2 2 -2 2 -2 -2zM331.3 154.9l2 2 -2 2 -2 -2zM331.5 182.9l2 2 -2 2 -2 -2zM331.7 147.5l2 2 -2 2 -2 -2zM331.9 171.8l2 2 -2 2 -2 -2zM332.1 183l2 2 -2 2 -2 -2zM332.3 160.6l2 2 -2 2 -2 -2zM332.5 152.2l2 2 -2 2 -2 -2zM332.7 189.7l2 2 -2 2 -2 -2zM332.9 153.8l2 2 -2 2 -2 -2zM333.1 175.9l2 2 -2 2 -2 -2zM333.3 154.7l2 2 -2 2 -2 -2zM333.5 177.2l2 2 -2 2 -2 -2zM333.7 191.5l2 2 -2 2 -2 -2zM333.9 166.6l2 2 -2 2 -2 -2zM334.1 161.6l2 2 -2 2 -2 -2zM334.3 147.6l2 2 -2 2 -2 -2zM334.5 152l2 2 -2 2 -2 -2zM334.7 164.4l2 2 -2 2 -2 -2zM334.9 175.6l2 2 -2 2 -2 -2zM335.2 179l2 2 -2 2 -2 -2zM335.4 176.3l2 2 -2 2 -2 -2zM335.6 182.8l2 2 -2 2 -2 -2zM335.8 176.1l2 2 -2 2 -2 -2zM336 203.4l2 2 -2 2 -2 -2zM336.2 170.8l2 2 -2 2 -2 -2zM336.4 173.3l2 2 -2 2 -2 -2zM336.6 142.2l2 2 -2 2 -2 -2zM336.8 163.9l2 2 -2 2 -2 -2zM337 178.8l2 2 -2 2 -2 -2zM337.2 166.3l2 2 -2 2 -2 -2zM337.4 187.7l2 2 -2 2 -2 -2zM337.6 180.3l2 2 -2 2 -2 -2zM337.8 195.5l2 2 -2 2 -2 -2zM338 155.9l2 2 -2 2 -2 -2zM338.2 166l2 2 -2 2 -2 -2zM338.4 187.3l2 2 -2 2 -2 -2zM338.6 173.9l2 2 -2 2 -2 -2zM338.8 161.8l2 2 -2 2 -2 -2zM339 167.3l2 2 -2 2 -2 -2zM339.2 168.7l2 2 -2 2 -2 -2zM339.4 183.6l2 2 -2 2 -2 -2zM339.6 181l2 2 -2 2 -2 -2zM339.8 172.2l2 2 -2 2 -2 -2zM340 162.3l2 2 -2 2 -2 -2zM340.2 183.3l2 2 -2 2 -2 -2zM340.4 186.9l2 2 -2 2 -2 -2zM340.6 159.7l2 2 -2 2 -2 -2zM340.8 184.6l2 2 -2 2 -2 -2zM341 160.6l2 2 -2 2 -2 -2zM341.2 170.6l2 2 -2 2 -2 -2zM341.4 163l2 2 -2 2 -2 -2zM341.6 277.9l2 2 -2 2 -2 -2zM341.8 290.5l2 2 -2 2 -2 -2zM342 289.5l2 2 -2 2 -2 -2zM342.3 309.8l2 2 -2 2 -2 -2zM342.5 307.1l2 2 -2 2 -2 -2zM342.7 291.1l2 2 -2 2 -2 -2zM342.9 280.4l2 2 -2 2 -2 -2zM343.1 282.1l2 2 -2 2 -2 -2zM343.3 271l2 2 -2 2 -2 -2zM343.5 295l2 2 -2 2 -2 -2zM343.7 296.3l2 2 -2 2 -2 -2zM343.9 286.7l2 2 -2 2 -2 -2zM344.1 298.5l2 2 -2 2 -2 -2zM344.3 299.5l2 2 -2 2 -2 -2zM344.5 311.3l2 2 -2 2 -2 -2zM344.7 286.9l2 2 -2 2 -2 -2zM344.9 311.6l2 2 -2 2 -2 -2zM345.1 292.6l2 2 -2 2 -2 -2zM345.3 315.8l2 2 -2 2 -2 -2zM345.5 285.6l2 2 -2 2 -2 -2zM345.7 311.1l2 2 -2 2 -2 -2zM345.9 288.7l2 2 -2 2 -2 -2zM346.1 317.8l2 2 -2 2 -2 -2zM346.3 304l2 2 -2 2 -2 -2zM346.5 284.6l2 2 -2 2 -2 -2zM346.7 308.4l2 2 -2 2 -2 -2zM346.9 298l2 2 -2 2 -2 -2zM347.1 304.5l2 2 -2 2 -2 -2zM347.3 326.5l2 2 -2 2 -2 -2zM347.5 295.1l2 2 -2 2 -2 -2zM347.7 293.6l2 2 -2 2 -2 -2zM347.9 312.1l2 2 -2 2 -2 -2zM348.1 291.9l2 2 -2 2 -2 -2zM348.3 183.1l2 2 -2 2 -2 -2zM348.5 185.5l2 2 -2 2 -2 -2zM348.7 173.4l2 2 -2 2 -2 -2zM348.9 181.7l2 2 -2 2 -2 -2zM349.1 146l2 2 -2 2 -2 -2zM349.3 192.1l2 2 -2 2 -2 -2zM349.6 164.6l2 2 -2 2 -2 -2zM349.8 161.6l2 2 -2 2 -2 -2zM350 197.1l2 2 -2 2 -2 -2zM350.2 194.2l2 2 -2 2 -2 -2zM350.4 166.6l2 2 -2 2 -2 -2zM350.6 179.1l2 2 -2 2 -2 -2zM350.8 168.8l2 2 -2 2 -2 -2zM351 159.7l2 2 -2 2 -2 -2zM351.2 177.8l2 2 -2 2 -2 -2zM351.4 186.1l2 2 -2 2 -2 -2zM351.6 206l2 2 -2 2 -2 -2zM351.8 170.8l2 2 -2 2 -2 -2zM352 184.4l2 2 -2 2 -2 -2zM352.2 169.5l2 2 -2 2 -2 -2zM352.4 170.5l2 2 -2 2 -2 -2zM352.6 189.8l2 2 -2 2 -2 -2zM352.8 152.5l2 2 -2 2 -2 -2zM353 160.2l2 2 -2 2 -2 -2zM353.2 163l2 2 -2 2 -2 -2zM353.4 187.4l2 2 -2 2 -2 -2zM353.6 178l2 2 -2 2 -2 -2zM353.8 179.7l2 2 -2 2 -2 -2zM354 178.1l2 2 -2 2 -2 -2zM354.2 186.6l2 2 -2 2 -2 -2zM354.4 167.9l2 2 -2 2 -2 -2zM354.6 170.3l2 2 -2 2 -2 -2zM354.8 168.7l2 2 -2 2 -2 -2zM355 179.1l2 2 -2 2 -2 -2zM355.2 157.6l2 2 -2 2 -2 -2zM355.4 170.8l2 2 -2 2 -2 -2zM355.6 205.8l2 2 -2 2 -2 -2zM355.8 180.7l2 2 -2 2 -2 -2zM356 173.7l2 2 -2 2 -2 -2zM356.2 161.4l2 2 -2 2 -2 -2zM356.4 176.6l2 2 -2 2 -2 -2zM356.7 175.9l2 2 -2 2 -2 -2zM356.9 180.9l2 2 -2 2 -2 -2zM357.1 164.9l2 2 -2 2 -2 -2zM357.3 178.3l2 2 -2 2 -2 -2zM357.5 180.1l2 2 -2 2 -2 -2zM357.7 181.8l2 2 -2 2 -2 -2zM357.9 166.2l2 2 -2 2 -2 -2zM358.1 179.2l2 2 -2 2 -2 -2zM358.3 192.9l2 2 -2 2 -2 -2zM358.5 165.4l2 2 -2 2 -2 -2zM358.7 199.7l2 2 -2 2 -2 -2zM358.9 168.5l2 2 -2 2 -2 -2zM359.1 168.3l2 2 -2 2 -2 -2zM359.3 158.3l2 2 -2 2 -2 -2zM359.5 160.2l2 2 -2 2 -2 -2zM359.7 179.6l2 2 -2 2 -2 -2zM359.9 174.7l2 2 -2 2 -2 -2zM360.1 188.2l2 2 -2 2 -2 -2zM360.3 152.6l2 2 -2 2 -2 -2zM360.5 167.4l2 2 -2 2 -2 -2zM360.7 155.9l2 2 -2 2 -2 -2zM360.9 176.5l2 2 -2 2 -2 -2zM361.1 197.2l2 2 -2 2 -2 -2zM361.3 154.3l2 2 -2 2 -2 -2zM361.5 171.5l2 2 -2 2 -2 -2zM361.7 171l2 2 -2 2 -2 -2zM361.9 171.9l2 2 -2 2 -2 -2zM362.1 164.8l2 2 -2 2 -2 -2zM362.3 166.2l2 2 -2 2 -2 -2zM362.5 191.6l2 2 -2 2 -2 -2zM362.7 159.5l2 2 -2 2 -2 -2zM362.9 178.9l2 2 -2 2 -2 -2zM363.1 178.1l2 2 -2 2 -2 -2zM363.3 151.8l2 2 -2 2 -2 -2zM363.5 161.4l2 2 -2 2 -2 -2zM363.7 176.5l2 2 -2 2 -2 -2zM364 194.7l2 2 -2 2 -2 -2zM364.2 170.5l2 2 -2 2 -2 -2zM364.4 166l2 2 -2 2 -2 -2zM364.6 173.4l2 2 -2 2 -2 -2zM364.8 187.3l2 2 -2 2 -2 -2zM365 181.8l2 2 -2 2 -2 -2zM365.2 187.4l2 2 -2 2 -2 -2zM365.4 169.8l2 2 -2 2 -2 -2zM365.6 162.5l2 2 -2 2 -2 -2zM365.8 160l2 2 -2 2 -2 -2zM366 181.1l2 2 -2 2 -2 -2zM366.2 169.5l2 2 -2 2 -2 -2zM366.4 165.6l2 2 -2 2 -2 -2zM366.6 178.4l2 2 -2 2 -2 -2zM366.8 174l2 2 -2 2 -2 -2zM367 146.8l2 2 -2 2 -2 -2zM367.2 169.8l2 2 -2 2 -2 -2zM367.4 161.6l2 2 -2 2 -2 -2zM367.6 177.4l2 2 -2 2 -2 -2zM367.8 171.7l2 2 -2 2 -2 -2zM368 192.7l2 2 -2 2 -2 -2zM368.2 172.4l2 2 -2 2 -2 -2zM368.4 157.8l2 2 -2 2 -2 -2zM368.6 146.9l2 2 -2 2 -2 -2zM368.8 157.8l2 2 -2 2 -2 -2zM369 163.8l2 2 -2 2 -2 -2zM369.2 171.4l2 2 -2 2 -2 -2zM369.4 179.3l2 2 -2 2 -2 -2zM369.6 174l2 2 -2 2 -2 -2zM369.8 164.7l2 2 -2 2 -2 -2zM370 181.4l2 2 -2 2 -2 -2zM370.2 160.8l2 2 -2 2 -2 -2zM370.4 183.8l2 2 -2 2 -2 -2zM370.6 193.3l2 2 -2 2 -2 -2zM370.8 184.1l2 2 -2 2 -2 -2zM371.1 191.9l2 2 -2 2 -2 -2zM371.3 188.4l2 2 -2 2 -2 -2zM371.5 158.3l2 2 -2 2 -2 -2zM371.7 174.3l2 2 -2 2 -2 -2zM371.9 169.3l2 2 -2 2 -2 -2zM372.1 158l2 2 -2 2 -2 -2zM372.3 156.8l2 2 -2 2 -2 -2zM372.5 177.9l2 2 -2 2 -2 -2zM372.7 155.9l2 2 -2 2 -2 -2zM372.9 167.2l2 2 -2 2 -2 -2zM373.1 171.8l2 2 -2 2 -2 -2zM373.3 166.5l2 2 -2 2 -2 -2zM373.5 188.9l2 2 -2 2 -2 -2zM373.7 181.2l2 2 -2 2 -2 -2zM373.9 173l2 2 -2 2 -2 -2zM374.1 164.4l2 2 -2 2 -2 -2zM374.3 176.2l2 2 -2 2 -2 -2zM374.5 173.2l2 2 -2 2 -2 -2zM374.7 160.1l2 2 -2 2 -2 -2zM374.9 154.7l2 2 -2 2 -2 -2zM375.1 162.5l2 2 -2 2 -2 -2zM375.3 156.4l2 2 -2 2 -2 -2zM375.5 176.5l2 2 -2 2 -2 -2zM375.7 175.3l2 2 -2 2 -2 -2zM375.9 167.8l2 2 -2 2 -2 -2zM376.1 175.2l2 2 -2 2 -2 -2zM376.3 177.7l2 2 -2 2 -2 -2zM376.5 151.8l2 2 -2 2 -2 -2zM376.7 174l2 2 -2 2 -2 -2zM376.9 183.1l2 2 -2 2 -2 -2zM377.1 165.7l2 2 -2 2 -2 -2zM377.3 149.5l2 2 -2 2 -2 -2zM377.5 170.5l2 2 -2 2 -2 -2zM377.7 156.7l2 2 -2 2 -2 -2zM377.9 185.5l2 2 -2 2 -2 -2zM378.1 177.3l2 2 -2 2 -2 -2zM378.4 179.7l2 2 -2 2 -2 -2zM378.6 173.1l2 2 -2 2 -2 -2zM378.8 149.4l2 2 -2 2 -2 -2zM379 185.3l2 2 -2 2 -2 -2zM379.2 151.7l2 2 -2 2 -2 -2zM379.4 183.5l2 2 -2 2 -2 -2zM379.6 174.2l2 2 -2 2 -2 -2zM379.8 161.3l2 2 -2 2 -2 -2zM380 163.8l2 2 -2 2 -2 -2zM380.2 167.9l2 2 -2 2 -2 -2zM380.4 191.1l2 2 -2 2 -2 -2zM380.6 166.9l2 2 -2 2 -2 -2zM380.8 183.5l2 2 -2 2 -2 -2zM381 140.4l2 2 -2 2 -2 -2zM381.2 173.8l2 2 -2 2 -2 -2zM381.4 169l2 2 -2 2 -2 -2zM381.6 185l2 2 -2 2 -2 -2zM381.8 176.9l2 2 -2 2 -2 -2zM382 186.7l2 2 -2 2 -2 -2zM382.2 159.4l2 2 -2 2 -2 -2zM382.4 174.3l2 2 -2 2 -2 -2zM382.6 164.4l2 2 -2 2 -2 -2zM382.8 179.3l2 2 -2 2 -2 -2zM383 177.1l2 2 -2 2 -2 -2zM383.2 155.7l2 2 -2 2 -2 -2zM383.4 182.7l2 2 -2 2 -2 -2zM383.6 192.7l2 2 -2 2 -2 -2zM383.8 166.2l2 2 -2 2 -2 -2zM384 184.7l2 2 -2 2 -2 -2zM384.2 176.3l2 2 -2 2 -2 -2zM384.4 160.1l2 2 -2 2 -2 -2zM384.6 180.8l2 2 -2 2 -2 -2zM384.8 160.5l2 2 -2 2 -2 -2zM385 179.1l2 2 -2 2 -2 -2zM385.2 153.1l2 2 -2 2 -2 -2zM385.5 155.1l2 2 -2 2 -2 -2zM385.7 176.6l2 2 -2 2 -2 -2zM385.9 173.5l2 2 -2 2 -2 -2zM386.1 180.9l2 2 -2 2 -2 -2zM386.3 168.5l2 2 -2 2 -2 -2zM386.5 157.1l2 2 -2 2 -2 -2zM386.7 188.3l2 2 -2 2 -2 -2zM386.9 160l2 2 -2 2 -2 -2zM387.1 186.9l2 2 -2 2 -2 -2zM387.3 181.4l2 2 -2 2 -2 -2zM387.5 192.6l2 2 -2 2 -2 -2zM387.7 146l2 2 -2 2 -2 -2zM387.9 170.6l2 2 -2 2 -2 -2zM388.1 168.4l2 2 -2 2 -2 -2zM388.3 179.5l2 2 -2 2 -2 -2zM388.5 158.7l2 2 -2 2 -2 -2zM388.7 196.8l2 2 -2 2 -2 -2zM388.9 171.3l2 2 -2 2 -2 -2zM389.1 145.2l2 2 -2 2 -2 -2zM389.3 176.3l2 2 -2 2 -2 -2zM389.5 171.6l2 2 -2 2 -2 -2zM389.7 163.8l2 2 -2 2 -2 -2zM389.9 181.7l2 2 -2 2 -2 -2zM390.1 171.7l2 2 -2 2 -2 -2zM390.3 160.5l2 2 -2 2 -2 -2zM390.5 169.8l2 2 -2 2 -2 -2zM390.7 167.7l2 2 -2 2 -2 -2zM390.9 176.4l2 2 -2 2 -2 -2zM391.1 168.5l2 2 -2 2 -2 -2zM391.3 171.7l2 2 -2 2 -2 -2zM391.5 155l2 2 -2 2 -2 -2zM391.7 163.8l2 2 -2 2 -2 -2zM391.9 175.5l2 2 -2 2 -2 -2zM392.1 202l2 2 -2 2 -2 -2zM392.3 164.1l2 2 -2 2 -2 -2zM392.5 163.7l2 2 -2 2 -2 -2zM392.8 183.8l2 2 -2 2 -2 -2zM393 196.8l2 2 -2 2 -2 -2zM393.2 186.6l2 2 -2 2 -2 -2zM393.4 161.9l2 2 -2 2 -2 -2zM393.6 185.8l2 2 -2 2 -2 -2zM393.8 178.7l2 2 -2 2 -2 -2zM394 170.6l2 2 -2 2 -2 -2zM394.2 158.6l2 2 -2 2 -2 -2zM394.4 173.6l2 2 -2 2 -2 -2zM394.6 174.6l2 2 -2 2 -2 -2zM394.8 180l2 2 -2 2 -2 -2zM395 154l2 2 -2 2 -2 -2zM395.2 160.8l2 2 -2 2 -2 -2zM395.4 174.8l2 2 -2 2 -2 -2zM395.6 190.5l2 2 -2 2 -2 -2zM395.8 183.3l2 2 -2 2 -2 -2zM396 166.9l2 2 -2 2 -2 -2zM396.2 184.1l2 2 -2 2 -2 -2zM396.4 163.3l2 2 -2 2 -2 -2zM396.6 169.7l2 2 -2 2 -2 -2zM396.8 170.6l2 2 -2 2 -2 -2zM397 201l2 2 -2 2 -2 -2zM397.2 168.2l2 2 -2 2 -2 -2zM397.4 184.5l2 2 -2 2 -2 -2zM397.6 178.3l2 2 -2 2 -2 -2zM397.8 146.4l2 2 -2 2 -2 -2zM398 189l2 2 -2 2 -2 -2zM398.2 180.2l2 2 -2 2 -2 -2zM398.4 161.8l2 2 -2 2 -2 -2zM398.6 176.6l2 2 -2 2 -2 -2zM398.8 184.5l2 2 -2 2 -2 -2zM399 190.7l2 2 -2 2 -2 -2zM399.2 168.4l2 2 -2 2 -2 -2zM399.4 162.7l2 2 -2 2 -2 -2zM399.6 158.2l2 2 -2 2 -2 -2zM399.9 174.4l2 2 -2 2 -2 -2zM400.1 162.6l2 2 -2 2 -2 -2zM400.3 187.6l2 2 -2 2 -2 -2zM400.5 173.2l2 2 -2 2 -2 -2zM400.7 183.4l2 2 -2 2 -2 -2zM400.9 173.3l2 2 -2 2 -2 -2zM401.1 166.4l2 2 -2 2 -2 -2zM401.3 162.7l2 2 -2 2 -2 -2zM401.5 187.4l2 2 -2 2 -2 -2zM401.7 160.4l2 2 -2 2 -2 -2zM401.9 181.4l2 2 -2 2 -2 -2zM402.1 188.1l2 2 -2 2 -2 -2zM402.3 177.9l2 2 -2 2 -2 -2zM402.5 193.4l2 2 -2 2 -2 -2zM402.7 175.9l2 2 -2 2 -2 -2zM402.9 172.5l2 2 -2 2 -2 -2zM403.1 178.5l2 2 -2 2 -2 -2zM403.3 169.7l2 2 -2 2 -2 -2zM403.5 180l2 2 -2 2 -2 -2zM403.7 176.2l2 2 -2 2 -2 -2zM403.9 193.6l2 2 -2 2 -2 -2zM404.1 175.9l2 2 -2 2 -2 -2zM404.3 186.7l2 2 -2 2 -2 -2zM404.5 181.9l2 2 -2 2 -2 -2zM404.7 177.7l2 2 -2 2 -2 -2zM404.9 174.4l2 2 -2 2 -2 -2zM405.1 196.5l2 2 -2 2 -2 -2zM405.3 195.5l2 2 -2 2 -2 -2zM405.5 180.5l2 2 -2 2 -2 -2zM405.7 171.2l2 2 -2 2 -2 -2zM405.9 172.7l2 2 -2 2 -2 -2zM406.1 166.3l2 2 -2 2 -2 -2zM406.3 161.5l2 2 -2 2 -2 -2zM406.5 171.2l2 2 -2 2 -2 -2zM406.7 177.5l2 2 -2 2 -2 -2zM406.9 189.7l2 2 -2 2 -2 -2zM407.2 188.7l2 2 -2 2 -2 -2zM407.4 183l2 2 -2 2 -2 -2zM407.6 174.3l2 2 -2 2 -2 -2zM407.8 174.9l2 2 -2 2 -2 -2zM408 177.6l2 2 -2 2 -2 -2zM408.2 179.5l2 2 -2 2 -2 -2zM408.4 170.2l2 2 -2 2 -2 -2zM408.6 175.3l2 2 -2 2 -2 -2zM408.8 174.3l2 2 -2 2 -2 -2zM409 174.2l2 2 -2 2 -2 -2zM409.2 184.5l2 2 -2 2 -2 -2zM409.4 190.3l2 2 -2 2 -2 -2zM409.6 172l2 2 -2 2 -2 -2zM409.8 172.9l2 2 -2 2 -2 -2zM410 180.5l2 2 -2 2 -2 -2zM410.2 182.8l2 2 -2 2 -2 -2zM410.4 150.5l2 2 -2 2 -2 -2zM410.6 186.9l2 2 -2 2 -2 -2zM410.8 180.4l2 2 -2 2 -2 -2zM411 174.6l2 2 -2 2 -2 -2zM411.2 191.6l2 2 -2 2 -2 -2zM411.4 176.3l2 2 -2 2 -2 -2zM411.6 156.1l2 2 -2 2 -2 -2zM411.8 166.4l2 2 -2 2 -2 -2zM412 170l2 2 -2 2 -2 -2zM412.2 170.5l2 2 -2 2 -2 -2zM412.4 176.2l2 2 -2 2 -2 -2zM412.6 166l2 2 -2 2 -2 -2zM412.8 179.4l2 2 -2 2 -2 -2zM413 182.6l2 2 -2 2 -2 -2zM413.2 176.2l2 2 -2 2 -2 -2zM413.4 166.6l2 2 -2 2 -2 -2zM413.6 173.4l2 2 -2 2 -2 -2zM413.8 169.3l2 2 -2 2 -2 -2zM414 201.6l2 2 -2 2 -2 -2zM414.3 163l2 2 -2 2 -2 -2zM414.5 149.2l2 2 -2 2 -2 -2zM414.7 161.3l2 2 -2 2 -2 -2zM414.9 181.1l2 2 -2 2 -2 -2zM415.1 187.4l2 2 -2 2 -2 -2zM415.3 173.9l2 2 -2 2 -2 -2zM415.5 189l2 2 -2 2 -2 -2zM415.7 168.5l2 2 -2 2 -2 -2zM415.9 183.4l2 2 -2 2 -2 -2zM416.1 165.6l2 2 -2 2 -2 -2zM416.3 160.8l2 2 -2 2 -2 -2zM416.5 201.4l2 2 -2 2 -2 -2zM416.7 173.5l2 2 -2 2 -2 -2zM416.9 185.4l2 2 -2 2 -2 -2zM417.1 193.9l2 2 -2 2 -2 -2zM417.3 184.4l2 2 -2 2 -2 -2zM417.5 179.6l2 2 -2 2 -2 -2zM417.7 164.5l2 2 -2 2 -2 -2zM417.9 195.1l2 2 -2 2 -2 -2zM418.1 164.3l2 2 -2 2 -2 -2zM418.3 152.6l2 2 -2 2 -2 -2zM418.5 169.6l2 2 -2 2 -2 -2zM418.7 170.2l2 2 -2 2 -2 -2zM418.9 176.9l2 2 -2 2 -2 -2zM419.1 190.8l2 2 -2 2 -2 -2zM419.3 170.3l2 2 -2 2 -2 -2zM419.5 172.1l2 2 -2 2 -2 -2zM419.7 167.9l2 2 -2 2 -2 -2zM419.9 145.8l2 2 -2 2 -2 -2zM420.1 167.9l2 2 -2 2 -2 -2zM420.3 171.5l2 2 -2 2 -2 -2zM420.5 157.8l2 2 -2 2 -2 -2zM420.7 192.7l2 2 -2 2 -2 -2zM420.9 190.2l2 2 -2 2 -2 -2zM421.1 181l2 2 -2 2 -2 -2zM421.3 184.3l2 2 -2 2 -2 -2zM421.6 168.1l2 2 -2 2 -2 -2zM421.8 180.2l2 2 -2 2 -2 -2zM422 155.5l2 2 -2 2 -2 -2zM422.2 158.1l2 2 -2 2 -2 -2zM422.4 167.1l2 2 -2 2 -2 -2zM422.6 180.9l2 2 -2 2 -2 -2zM422.8 168.9l2 2 -2 2 -2 -2zM423 166.5l2 2 -2 2 -2 -2zM423.2 189l2 2 -2 2 -2 -2zM423.4 172l2 2 -2 2 -2 -2zM423.6 298.3l2 2 -2 2 -2 -2zM423.8 304.4l2 2 -2 2 -2 -2zM424 288.3l2 2 -2 2 -2 -2zM424.2 292.7l2 2 -2 2 -2 -2zM424.4 317.3l2 2 -2 2 -2 -2zM424.6 306l2 2 -2 2 -2 -2zM424.8 317.7l2 2 -2 2 -2 -2zM425 300.9l2 2 -2 2 -2 -2zM425.2 318.4l2 2 -2 2 -2 -2zM425.4 297l2 2 -2 2 -2 -2zM425.6 303.6l2 2 -2 2 -2 -2zM425.8 259.9l2 2 -2 2 -2 -2zM426 310.3l2 2 -2 2 -2 -2zM426.2 326.1l2 2 -2 2 -2 -2zM426.4 287.6l2 2 -2 2 -2 -2zM426.6 311l2 2 -2 2 -2 -2zM426.8 292.6l2 2 -2 2 -2 -2zM427 304.1l2 2 -2 2 -2 -2zM427.2 301.3l2 2 -2 2 -2 -2zM427.4 287.6l2 2 -2 2 -2 -2zM427.6 305.6l2 2 -2 2 -2 -2zM427.8 293l2 2 -2 2 -2 -2zM428 327.8l2 2 -2 2 -2 -2zM428.2 299.7l2 2 -2 2 -2 -2zM428.4 313.1l2 2 -2 2 -2 -2zM428.7 312l2 2 -2 2 -2 -2zM428.9 310.4l2 2 -2 2 -2 -2zM429.1 329.1l2 2 -2 2 -2 -2zM429.3 290.9l2 2 -2 2 -2 -2zM429.5 333.2l2 2 -2 2 -2 -2zM429.7 310.6l2 2 -2 2 -2 -2zM429.9 319.8l2 2 -2 2 -2 -2zM430.1 297.4l2 2 -2 2 -2 -2zM430.3 316.6l2 2 -2 2 -2 -2zM430.5 306.2l2 2 -2 2 -2 -2zM430.7 316.6l2 2 -2 2 -2 -2zM430.9 303.9l2 2 -2 2 -2 -2zM431.1 299.9l2 2 -2 2 -2 -2zM431.3 317l2 2 -2 2 -2 -2zM431.5 311.8l2 2 -2 2 -2 -2zM431.7 329.6l2 2 -2 2 -2 -2zM431.9 309l2 2 -2 2 -2 -2zM432.1 302.5l2 2 -2 2 -2 -2zM432.3 319.6l2 2 -2 2 -2 -2zM432.5 299.7l2 2 -2 2 -2 -2zM432.7 338.1l2 2 -2 2 -2 -2zM432.9 335.6l2 2 -2 2 -2 -2zM433.1 330.2l2 2 -2 2 -2 -2zM433.3 319.5l2 2 -2 2 -2 -2zM433.5 313.6l2 2 -2 2 -2 -2zM433.7 314.9l2 2 -2 2 -2 -2zM433.9 314.9l2 2 -2 2 -2 -2zM434.1 305.6l2 2 -2 2 -2 -2zM434.3 320l2 2 -2 2 -2 -2zM434.5 329.7l2 2 -2 2 -2 -2zM434.7 329.6l2 2 -2 2 -2 -2zM434.9 289.5l2 2 -2 2 -2 -2zM435.1 343.2l2 2 -2 2 -2 -2zM435.3 317.2l2 2 -2 2 -2 -2zM435.5 297.8l2 2 -2 2 -2 -2zM435.7 309.6l2 2 -2 2 -2 -2zM436 325.5l2 2 -2 2 -2 -2zM436.2 315.6l2 2 -2 2 -2 -2zM436.4 305.3l2 2 -2 2 -2 -2zM436.6 301.2l2 2 -2 2 -2 -2zM436.8 326.5l2 2 -2 2 -2 -2zM437 306.7l2 2 -2 2 -2 -2zM437.2 312.8l2 2 -2 2 -2 -2zM437.4 302.6l2 2 -2 2 -2 -2zM437.6 299.2l2 2 -2 2 -2 -2zM437.8 320l2 2 -2 2 -2 -2zM438 333.3l2 2 -2 2 -2 -2zM438.2 311.2l2 2 -2 2 -2 -2zM438.4 294.7l2 2 -2 2 -2 -2zM438.6 307.8l2 2 -2 2 -2 -2zM438.8 313.3l2 2 -2 2 -2 -2zM439 287.3l2 2 -2 2 -2 -2zM439.2 328.6l2 2 -2 2 -2 -2zM439.4 305.3l2 2 -2 2 -2 -2zM439.6 323l2 2 -2 2 -2 -2zM439.8 315.6l2 2 -2 2 -2 -2zM440 315.1l2 2 -2 2 -2 -2zM440.2 298.1l2 2 -2 2 -2 -2zM440.4 327.5l2 2 -2 2 -2 -2zM440.6 322.7l2 2 -2 2 -2 -2zM440.8 335.4l2 2 -2 2 -2 -2zM441 310.5l2 2 -2 2 -2 -2zM441.2 321.9l2 2 -2 2 -2 -2zM441.4 311.4l2 2 -2 2 -2 -2zM441.6 329.3l2 2 -2 2 -2 -2zM441.8 320.8l2 2 -2 2 -2 -2zM442 304.1l2 2 -2 2 -2 -2zM442.2 318.6l2 2 -2 2 -2 -2zM442.4 309.1l2 2 -2 2 -2 -2zM442.6 310.3l2 2 -2 2 -2 -2zM442.8 320.9l2 2 -2 2 -2 -2zM443.1 335.4l2 2 -2 2 -2 -2zM443.3 304.9l2 2 -2 2 -2 -2zM443.5 314.7l2 2 -2 2 -2 -2zM443.7 305l2 2 -2 2 -2 -2zM443.9 340.9l2 2 -2 2 -2 -2zM444.1 336.7l2 2 -2 2 -2 -2zM444.3 342.5l2 2 -2 2 -2 -2zM444.5 327.4l2 2 -2 2 -2 -2zM444.7 304.4l2 2 -2 2 -2 -2zM444.9 310.2l2 2 -2 2 -2 -2zM445.1 317.4l2 2 -2 2 -2 -2zM445.3 315.4l2 2 -2 2 -2 -2zM445.5 307.9l2 2 -2 2 -2 -2zM445.7 320.7l2 2 -2 2 -2 -2zM445.9 312.3l2 2 -2 2 -2 -2zM446.1 315.4l2 2 -2 2 -2 -2zM446.3 343.4l2 2 -2 2 -2 -2zM446.5 321.8l2 2 -2 2 -2 -2zM446.7 300.9l2 2 -2 2 -2 -2zM446.9 322l2 2 -2 2 -2 -2zM447.1 319l2 2 -2 2 -2 -2zM447.3 324.6l2 2 -2 2 -2 -2zM447.5 323.1l2 2 -2 2 -2 -2zM447.7 303.9l2 2 -2 2 -2 -2zM447.9 320.6l2 2 -2 2 -2 -2zM448.1 329.7l2 2 -2 2 -2 -2zM448.3 354.8l2 2 -2 2 -2 -2zM448.5 324.4l2 2 -2 2 -2 -2zM448.7 341.1l2 2 -2 2 -2 -2zM448.9 339.4l2 2 -2 2 -2 -2zM449.1 308l2 2 -2 2 -2 -2zM449.3 309.1l2 2 -2 2 -2 -2zM449.5 340.6l2 2 -2 2 -2 -2zM449.7 312l2 2 -2 2 -2 -2zM449.9 312.2l2 2 -2 2 -2 -2zM450.1 327.1l2 2 -2 2 -2 -2zM450.4 308.9l2 2 -2 2 -2 -2zM450.6 337.3l2 2 -2 2 -2 -2zM450.8 332.3l2 2 -2 2 -2 -2zM451 335.1l2 2 -2 2 -2 -2zM451.2 331.2l2 2 -2 2 -2 -2zM451.4 307.4l2 2 -2 2 -2 -2zM451.6 333.9l2 2 -2 2 -2 -2zM451.8 331.8l2 2 -2 2 -2 -2zM452 329.4l2 2 -2 2 -2 -2zM452.2 315.7l2 2 -2 2 -2 -2zM452.4 322.1l2 2 -2 2 -2 -2zM452.6 307.7l2 2 -2 2 -2 -2zM452.8 326.6l2 2 -2 2 -2 -2zM453 333.6l2 2 -2 2 -2 -2zM453.2 324.2l2 2 -2 2 -2 -2zM453.4 317.8l2 2 -2 2 -2 -2zM453.6 329.4l2 2 -2 2 -2 -2zM453.8 315l2 2 -2 2 -2 -2zM454 296.6l2 2 -2 2 -2 -2zM454.2 325.3l2 2 -2 2 -2 -2zM454.4 317.7l2 2 -2 2 -2 -2zM454.6 301.9l2 2 -2 2 -2 -2zM454.8 325.7l2 2 -2 2 -2 -2zM455 327.9l2 2 -2 2 -2 -2zM455.2 330.7l2 2 -2 2 -2 -2zM455.4 312.7l2 2 -2 2 -2 -2zM455.6 311.2l2 2 -2 2 -2 -2zM455.8 319l2 2 -2 2 -2 -2zM456 316.5l2 2 -2 2 -2 -2zM456.2 301.6l2 2 -2 2 -2 -2zM456.4 306.3l2 2 -2 2 -2 -2zM456.6 333.4l2 2 -2 2 -2 -2zM456.8 316.6l2 2 -2 2 -2 -2zM457 315l2 2 -2 2 -2 -2zM457.2 307.5l2 2 -2 2 -2 -2zM457.5 318.7l2 2 -2 2 -2 -2zM457.7 323.6l2 2 -2 2 -2 -2zM457.9 321.2l2 2 -2 2 -2 -2zM458.1 336.9l2 2 -2 2 -2 -2zM458.3 315.7l2 2 -2 2 -2 -2zM458.5 322.4l2 2 -2 2 -2 -2zM458.7 309.5l2 2 -2 2 -2 -2zM458.9 327.3l2 2 -2 2 -2 -2zM459.1 320l2 2 -2 2 -2 -2zM459.3 326.4l2 2 -2 2 -2 -2zM459.5 327.3l2 2 -2 2 -2 -2zM459.7 306l2 2 -2 2 -2 -2zM459.9 319.8l2 2 -2 2 -2 -2zM460.1 308.7l2 2 -2 2 -2 -2zM460.3 327.3l2 2 -2 2 -2 -2zM460.5 312.6l2 2 -2 2 -2 -2zM460.7 333.9l2 2 -2 2 -2 -2zM460.9 319.2l2 2 -2 2 -2 -2zM461.1 319.3l2 2 -2 2 -2 -2zM461.3 306.2l2 2 -2 2 -2 -2zM461.5 310.8l2 2 -2 2 -2 -2zM461.7 314.9l2 2 -2 2 -2 -2zM461.9 302.6l2 2 -2 2 -2 -2zM462.1 310.2l2 2 -2 2 -2 -2zM462.3 305.9l2 2 -2 2 -2 -2zM462.5 303l2 2 -2 2 -2 -2zM462.7 312.9l2 2 -2 2 -2 -2zM462.9 315.4l2 2 -2 2 -2 -2zM463.1 307.8l2 2 -2 2 -2 -2zM463.3 183.5l2 2 -2 2 -2 -2zM463.5 173.9l2 2 -2 2 -2 -2zM463.7 165.2l2 2 -2 2 -2 -2zM463.9 168.3l2 2 -2 2 -2 -2zM464.1 183.1l2 2 -2 2 -2 -2zM464.3 193.9l2 2 -2 2 -2 -2zM464.5 179.2l2 2 -2 2 -2 -2zM464.8 180l2 2 -2 2 -2 -2zM465 165.3l2 2 -2 2 -2 -2zM465.2 183.1l2 2 -2 2 -2 -2zM465.4 181l2 2 -2 2 -2 -2zM465.6 169.7l2 2 -2 2 -2 -2zM465.8 184.2l2 2 -2 2 -2 -2zM466 180.4l2 2 -2 2 -2 -2zM466.2 158l2 2 -2 2 -2 -2zM466.4 160.7l2 2 -2 2 -2 -2zM466.6 171l2 2 -2 2 -2 -2zM466.8 175.3l2 2 -2 2 -2 -2zM467 224.7l2 2 -2 2 -2 -2zM467.2 171.9l2 2 -2 2 -2 -2zM467.4 177.8l2 2 -2 2 -2 -2zM467.6 175.9l2 2 -2 2 -2 -2zM467.8 184.7l2 2 -2 2 -2 -2zM468 178.7l2 2 -2 2 -2 -2zM468.2 180.7l2 2 -2 2 -2 -2zM468.4 174.8l2 2 -2 2 -2 -2zM468.6 161.4l2 2 -2 2 -2 -2zM468.8 174.2l2 2 -2 2 -2 -2zM469 198.4l2 2 -2 2 -2 -2zM469.2 190.2l2 2 -2 2 -2 -2zM469.4 197.5l2 2 -2 2 -2 -2zM469.6 188l2 2 -2 2 -2 -2zM469.8 171.9l2 2 -2 2 -2 -2zM470 173.7l2 2 -2 2 -2 -2zM470.2 185.7l2 2 -2 2 -2 -2zM470.4 175.4l2 2 -2 2 -2 -2zM470.6 187.6l2 2 -2 2 -2 -2zM470.8 195.5l2 2 -2 2 -2 -2zM471 195.4l2 2 -2 2 -2 -2zM471.2 188.8l2 2 -2 2 -2 -2zM471.4 161.5l2 2 -2 2 -2 -2zM471.6 194.6l2 2 -2 2 -2 -2zM471.8 163.7l2 2 -2 2 -2 -2zM472.1 162.7l2 2 -2 2 -2 -2zM472.3 180.7l2 2 -2 2 -2 -2zM472.5 179.1l2 2 -2 2 -2 -2zM472.7 185.9l2 2 -2 2 -2 -2zM472.9 178.9l2 2 -2 2 -2 -2zM473.1 170.7l2 2 -2 2 -2 -2zM473.3 178.5l2 2 -2 2 -2 -2zM473.5 166.6l2 2 -2 2 -2 -2zM473.7 164.4l2 2 -2 2 -2 -2zM473.9 174.5l2 2 -2 2 -2 -2zM474.1 174.7l2 2 -2 2 -2 -2zM474.3 179.3l2 2 -2 2 -2 -2zM474.5 174.4l2 2 -2 2 -2 -2zM474.7 191.9l2 2 -2 2 -2 -2zM474.9 173.7l2 2 -2 2 -2 -2zM475.1 176.1l2 2 -2 2 -2 -2zM475.3 188.9l2 2 -2 2 -2 -2zM475.5 152.8l2 2 -2 2 -2 -2zM475.7 190.2l2 2 -2 2 -2 -2zM475.9 189l2 2 -2 2 -2 -2zM476.1 175.3l2 2 -2 2 -2 -2zM476.3 201.8l2 2 -2 2 -2 -2zM476.5 188.1l2 2 -2 2 -2 -2zM476.7 196.8l2 2 -2 2 -2 -2zM476.9 190.2l2 2 -2 2 -2 -2zM477.1 180.2l2 2 -2 2 -2 -2zM477.3 174.8l2 2 -2 2 -2 -2zM477.5 165.4l2 2 -2 2 -2 -2zM477.7 169l2 2 -2 2 -2 -2zM477.9 164.4l2 2 -2 2 -2 -2zM478.1 171.6l2 2 -2 2 -2 -2zM478.3 184.2l2 2 -2 2 -2 -2zM478.5 165.3l2 2 -2 2 -2 -2zM478.7 184.5l2 2 -2 2 -2 -2zM478.9 186l2 2 -2 2 -2 -2zM479.2 160.3l2 2 -2 2 -2 -2zM479.4 169.2l2 2 -2 2 -2 -2zM479.6 176l2 2 -2 2 -2 -2zM479.8 169.6l2 2 -2 2 -2 -2zM480 168.1l2 2 -2 2 -2 -2zM480.2 194.9l2 2 -2 2 -2 -2zM480.4 179.8l2 2 -2 2 -2 -2zM480.6 192.7l2 2 -2 2 -2 -2zM480.8 177.2l2 2 -2 2 -2 -2zM481 186.7l2 2 -2 2 -2 -2zM481.2 162.4l2 2 -2 2 -2 -2zM481.4 172.4l2 2 -2 2 -2 -2zM481.6 188.4l2 2 -2 2 -2 -2zM481.8 178.9l2 2 -2 2 -2 -2zM482 193.1l2 2 -2 2 -2 -2zM482.2 178.2l2 2 -2 2 -2 -2zM482.4 172.1l2 2 -2 2 -2 -2zM482.6 175.5l2 2 -2 2 -2 -2zM482.8 201.8l2 2 -2 2 -2 -2zM483 182.7l2 2 -2 2 -2 -2zM483.2 172.5l2 2 -2 2 -2 -2zM483.4 175l2 2 -2 2 -2 -2zM483.6 177.9l2 2 -2 2 -2 -2zM483.8 176.3l2 2 -2 2 -2 -2zM484 154.6l2 2 -2 2 -2 -2zM484.2 168.7l2 2 -2 2 -2 -2zM484.4 158.5l2 2 -2 2 -2 -2zM484.6 156l2 2 -2 2 -2 -2zM484.8 152.7l2 2 -2 2 -2 -2zM485 167.8l2 2 -2 2 -2 -2zM485.2 158.7l2 2 -2 2 -2 -2zM485.4 174.9l2 2 -2 2 -2 -2zM485.6 177.8l2 2 -2 2 -2 -2zM485.8 154.2l2 2 -2 2 -2 -2zM486 161.5l2 2 -2 2 -2 -2zM486.2 180.3l2 2 -2 2 -2 -2zM486.5 171.1l2 2 -2 2 -2 -2zM486.7 160.7l2 2 -2 2 -2 -2zM486.9 142.3l2 2 -2 2 -2 -2zM487.1 148.4l2 2 -2 2 -2 -2zM487.3 151.3l2 2 -2 2 -2 -2zM487.5 182.3l2 2 -2 2 -2 -2zM487.7 162.1l2 2 -2 2 -2 -2zM487.9 155.2l2 2 -2 2 -2 -2zM488.1 156.2l2 2 -2 2 -2 -2zM488.3 155.9l2 2 -2 2 -2 -2zM488.5 163.7l2 2 -2 2 -2 -2zM488.7 139.8l2 2 -2 2 -2 -2zM488.9 143.2l2 2 -2 2 -2 -2zM489.1 162l2 2 -2 2 -2 -2zM489.3 172.7l2 2 -2 2 -2 -2zM489.5 136.3l2 2 -2 2 -2 -2zM489.7 167.5l2 2 -2 2 -2 -2zM489.9 146.6l2 2 -2 2 -2 -2zM490.1 138l2 2 -2 2 -2 -2zM490.3 172.2l2 2 -2 2 -2 -2zM490.5 157.4l2 2 -2 2 -2 -2zM490.7 165.1l2 2 -2 2 -2 -2zM490.9 154.7l2 2 -2 2 -2 -2zM491.1 157.1l2 2 -2 2 -2 -2zM491.3 137.6l2 2 -2 2 -2 -2zM491.5 153.8l2 2 -2 2 -2 -2zM491.7 161l2 2 -2 2 -2 -2zM491.9 147.4l2 2 -2 2 -2 -2zM492.1 164.2l2 2 -2 2 -2 -2zM492.3 165.3l2 2 -2 2 -2 -2zM492.5 134.1l2 2 -2 2 -2 -2zM492.7 170.8l2 2 -2 2 -2 -2zM492.9 166.8l2 2 -2 2 -2 -2zM493.1 160.4l2 2 -2 2 -2 -2zM493.3 173.6l2 2 -2 2 -2 -2zM493.6 186.2l2 2 -2 2 -2 -2zM493.8 148.3l2 2 -2 2 -2 -2zM494 170.3l2 2 -2 2 -2 -2zM494.2 167.4l2 2 -2 2 -2 -2zM494.4 165.4l2 2 -2 2 -2 -2zM494.6 172.7l2 2 -2 2 -2 -2zM494.8 173.8l2 2 -2 2 -2 -2zM495 159l2 2 -2 2 -2 -2zM495.2 132.2l2 2 -2 2 -2 -2zM495.4 152.1l2 2 -2 2 -2 -2zM495.6 152l2 2 -2 2 -2 -2zM495.8 179l2 2 -2 2 -2 -2zM496 161.2l2 2 -2 2 -2 -2zM496.2 175.1l2 2 -2 2 -2 -2zM496.4 151.7l2 2 -2 2 -2 -2zM496.6 163.6l2 2 -2 2 -2 -2zM496.8 160.5l2 2 -2 2 -2 -2zM497 162l2 2 -2 2 -2 -2zM497.2 167.9l2 2 -2 2 -2 -2zM497.4 179.2l2 2 -2 2 -2 -2zM497.6 154l2 2 -2 2 -2 -2zM497.8 177.5l2 2 -2 2 -2 -2zM498 175.1l2 2 -2 2 -2 -2zM498.2 164.5l2 2 -2 2 -2 -2zM498.4 169.4l2 2 -2 2 -2 -2zM498.6 157.8l2 2 -2 2 -2 -2zM498.8 290.9l2 2 -2 2 -2 -2zM499 300.1l2 2 -2 2 -2 -2zM499.2 300.7l2 2 -2 2 -2 -2zM499.4 302.8l2 2 -2 2 -2 -2zM499.6 292.7l2 2 -2 2 -2 -2zM499.8 325.2l2 2 -2 2 -2 -2zM500 298.6l2 2 -2 2 -2 -2zM500.2 314.2l2 2 -2 2 -2 -2zM500.4 317.8l2 2 -2 2 -2 -2zM500.6 303l2 2 -2 2 -2 -2zM500.9 307.7l2 2 -2 2 -2 -2zM501.1 314.8l2 2 -2 2 -2 -2zM501.3 289.8l2 2 -2 2 -2 -2zM501.5 330.9l2 2 -2 2 -2 -2zM501.7 303.9l2 2 -2 2 -2 -2zM501.9 279.6l2 2 -2 2 -2 -2zM502.1 292.6l2 2 -2 2 -2 -2zM502.3 285.7l2 2 -2 2 -2 -2zM502.5 301.8l2 2 -2 2 -2 -2zM502.7 320.2l2 2 -2 2 -2 -2zM502.9 316.5l2 2 -2 2 -2 -2zM503.1 294.5l2 2 -2 2 -2 -2zM503.3 291.5l2 2 -2 2 -2 -2zM503.5 311.8l2 2 -2 2 -2 -2zM503.7 306.3l2 2 -2 2 -2 -2zM503.9 299.9l2 2 -2 2 -2 -2zM504.1 324l2 2 -2 2 -2 -2zM504.3 307.2l2 2 -2 2 -2 -2zM504.5 283.6l2 2 -2 2 -2 -2zM504.7 276.8l2 2 -2 2 -2 -2zM504.9 304.3l2 2 -2 2 -2 -2zM505.1 281.1l2 2 -2 2 -2 -2zM505.3 309.3l2 2 -2 2 -2 -2zM505.5 312.7l2 2 -2 2 -2 -2zM505.7 329.9l2 2 -2 2 -2 -2zM505.9 291.6l2 2 -2 2 -2 -2zM506.1 307.5l2 2 -2 2 -2 -2zM506.3 275l2 2 -2 2 -2 -2zM506.5 299.1l2 2 -2 2 -2 -2zM506.7 300.8l2 2 -2 2 -2 -2zM506.9 324.7l2 2 -2 2 -2 -2zM507.1 285l2 2 -2 2 -2 -2zM507.3 307.4l2 2 -2 2 -2 -2zM507.5 305l2 2 -2 2 -2 -2zM507.7 329.5l2 2 -2 2 -2 -2zM508 291.9l2 2 -2 2 -2 -2zM508.2 291.2l2 2 -2 2 -2 -2zM508.4 310.3l2 2 -2 2 -2 -2zM508.6 301.9l2 2 -2 2 -2 -2zM508.8 298.3l2 2 -2 2 -2 -2zM509 291.5l2 2 -2 2 -2 -2zM509.2 301.8l2 2 -2 2 -2 -2zM509.4 282.4l2 2 -2 2 -2 -2zM509.6 305.9l2 2 -2 2 -2 -2zM509.8 310.3l2 2 -2 2 -2 -2zM510 308.6l2 2 -2 2 -2 -2zM510.2 333.4l2 2 -2 2 -2 -2zM510.4 312.7l2 2 -2 2 -2 -2zM510.6 290.9l2 2 -2 2 -2 -2zM510.8 299.8l2 2 -2 2 -2 -2zM511 312.8l2 2 -2 2 -2 -2zM511.2 298.8l2 2 -2 2 -2 -2zM511.4 327.2l2 2 -2 2 -2 -2zM511.6 306.4l2 2 -2 2 -2 -2zM511.8 296.7l2 2 -2 2 -2 -2zM512 294.6l2 2 -2 2 -2 -2zM512.2 312.3l2 2 -2 2 -2 -2zM512.4 292l2 2 -2 2 -2 -2zM512.6 280.6l2 2 -2 2 -2 -2zM512.8 308.1l2 2 -2 2 -2 -2zM513 294.1l2 2 -2 2 -2 -2zM513.2 321.7l2 2 -2 2 -2 -2zM513.4 326.5l2 2 -2 2 -2 -2zM513.6 295.6l2 2 -2 2 -2 -2zM513.8 302.5l2 2 -2 2 -2 -2zM514 300.6l2 2 -2 2 -2 -2zM514.2 310l2 2 -2 2 -2 -2zM514.4 306.5l2 2 -2 2 -2 -2zM514.6 293.2l2 2 -2 2 -2 -2zM514.8 282.4l2 2 -2 2 -2 -2zM515 305.6l2 2 -2 2 -2 -2zM515.3 322.8l2 2 -2 2 -2 -2zM515.5 287.7l2 2 -2 2 -2 -2zM515.7 295.7l2 2 -2 2 -2 -2zM515.9 294.8l2 2 -2 2 -2 -2zM516.1 300.8l2 2 -2 2 -2 -2zM516.3 275.1l2 2 -2 2 -2 -2zM516.5 302l2 2 -2 2 -2 -2zM516.7 296.8l2 2 -2 2 -2 -2zM516.9 325.2l2 2 -2 2 -2 -2zM517.1 309.9l2 2 -2 2 -2 -2zM517.3 311.2l2 2 -2 2 -2 -2zM517.5 303.3l2 2 -2 2 -2 -2zM517.7 298.8l2 2 -2 2 -2 -2zM517.9 311.9l2 2 -2 2 -2 -2zM518.1 282.2l2 2 -2 2 -2 -2zM518.3 315.7l2 2 -2 2 -2 -2zM518.5 308.3l2 2 -2 2 -2 -2zM518.7 300.1l2 2 -2 2 -2 -2zM518.9 317.9l2 2 -2 2 -2 -2zM519.1 296.1l2 2 -2 2 -2 -2zM519.3 295.3l2 2 -2 2 -2 -2zM519.5 306.5l2 2 -2 2 -2 -2zM519.7 280l2 2 -2 2 -2 -2zM519.9 302l2 2 -2 2 -2 -2zM520.1 299.6l2 2 -2 2 -2 -2zM520.3 314.5l2 2 -2 2 -2 -2zM520.5 323l2 2 -2 2 -2 -2zM520.7 310.5l2 2 -2 2 -2 -2zM520.9 306.8l2 2 -2 2 -2 -2zM521.1 308.4l2 2 -2 2 -2 -2zM521.3 293.7l2 2 -2 2 -2 -2zM521.5 331.6l2 2 -2 2 -2 -2zM521.7 316.5l2 2 -2 2 -2 -2zM521.9 324.9l2 2 -2 2 -2 -2zM522.1 286.8l2 2 -2 2 -2 -2zM522.4 309.7l2 2 -2 2 -2 -2zM522.6 309.1l2 2 -2 2 -2 -2zM522.8 316.2l2 2 -2 2 -2 -2zM523 292.1l2 2 -2 2 -2 -2zM523.2 307.9l2 2 -2 2 -2 -2zM523.4 300.3l2 2 -2 2 -2 -2zM523.6 327.4l2 2 -2 2 -2 -2zM523.8 288.9l2 2 -2 2 -2 -2zM524 298.2l2 2 -2 2 -2 -2zM524.2 296.3l2 2 -2 2 -2 -2zM524.4 288.1l2 2 -2 2 -2 -2zM524.6 305.2l2 2 -2 2 -2 -2zM524.8 304.9l2 2 -2 2 -2 -2zM525 294.3l2 2 -2 2 -2 -2zM525.2 297.8l2 2 -2 2 -2 -2zM525.4 305.9l2 2 -2 2 -2 -2zM525.6 302.4l2 2 -2 2 -2 -2zM525.8 309l2 2 -2 2 -2 -2zM526 294.3l2 2 -2 2 -2 -2zM526.2 291.7l2 2 -2 2 -2 -2zM526.4 302.9l2 2 -2 2 -2 -2zM526.6 280.4l2 2 -2 2 -2 -2zM526.8 321.4l2 2 -2 2 -2 -2zM527 305.7l2 2 -2 2 -2 -2zM527.2 282.4l2 2 -2 2 -2 -2zM527.4 308l2 2 -2 2 -2 -2zM527.6 322.1l2 2 -2 2 -2 -2zM527.8 286.1l2 2 -2 2 -2 -2zM528 296.4l2 2 -2 2 -2 -2zM528.2 317.3l2 2 -2 2 -2 -2zM528.4 293.6l2 2 -2 2 -2 -2zM528.6 315.2l2 2 -2 2 -2 -2zM528.8 319l2 2 -2 2 -2 -2zM529 304.7l2 2 -2 2 -2 -2zM529.2 308.7l2 2 -2 2 -2 -2zM529.4 316.1l2 2 -2 2 -2 -2zM529.7 307.3l2 2 -2 2 -2 -2zM529.9 315l2 2 -2 2 -2 -2zM530.1 302.2l2 2 -2 2 -2 -2zM530.3 303.2l2 2 -2 2 -2 -2zM530.5 293.9l2 2 -2 2 -2 -2zM530.7 308.4l2 2 -2 2 -2 -2zM530.9 318.9l2 2 -2 2 -2 -2zM531.1 318.8l2 2 -2 2 -2 -2zM531.3 305.9l2 2 -2 2 -2 -2zM531.5 284.4l2 2 -2 2 -2 -2zM531.7 292.7l2 2 -2 2 -2 -2zM531.9 310.6l2 2 -2 2 -2 -2zM532.1 291.6l2 2 -2 2 -2 -2zM532.3 316.8l2 2 -2 2 -2 -2zM532.5 290.7l2 2 -2 2 -2 -2zM532.7 307.5l2 2 -2 2 -2 -2zM532.9 293.7l2 2 -2 2 -2 -2zM533.1 295.4l2 2 -2 2 -2 -2zM533.3 306.2l2 2 -2 2 -2 -2zM533.5 299l2 2 -2 2 -2 -2zM533.7 315.7l2 2 -2 2 -2 -2zM533.9 303.8l2 2 -2 2 -2 -2zM534.1 289.9l2 2 -2 2 -2 -2zM534.3 253.6l2 2 -2 2 -2 -2zM534.5 294.4l2 2 -2 2 -2 -2zM534.7 314.2l2 2 -2 2 -2 -2zM534.9 315.1l2 2 -2 2 -2 -2zM535.1 290.2l2 2 -2 2 -2 -2zM535.3 322.8l2 2 -2 2 -2 -2zM535.5 312.5l2 2 -2 2 -2 -2zM535.7 298.6l2 2 -2 2 -2 -2zM535.9 317.4l2 2 -2 2 -2 -2zM536.1 284.4l2 2 -2 2 -2 -2zM536.3 289.7l2 2 -2 2 -2 -2zM536.5 309.7l2 2 -2 2 -2 -2zM536.8 309.6l2 2 -2 2 -2 -2zM537 318.7l2 2 -2 2 -2 -2zM537.2 319.7l2 2 -2 2 -2 -2zM537.4 297.6l2 2 -2 2 -2 -2zM537.6 295.4l2 2 -2 2 -2 -2zM537.8 298.7l2 2 -2 2 -2 -2zM538 299.7l2 2 -2 2 -2 -2zM538.2 309.6l2 2 -2 2 -2 -2zM538.4 298.5l2 2 -2 2 -2 -2zM538.6 320.6l2 2 -2 2 -2 -2zM538.8 302.8l2 2 -2 2 -2 -2zM539 285.1l2 2 -2 2 -2 -2zM539.2 287l2 2 -2 2 -2 -2zM539.4 308.5l2 2 -2 2 -2 -2zM539.6 306.9l2 2 -2 2 -2 -2zM539.8 286.3l2 2 -2 2 -2 -2zM540 281.4l2 2 -2 2 -2 -2zM540.2 320.9l2 2 -2 2 -2 -2zM540.4 308l2 2 -2 2 -2 -2zM540.6 300.1l2 2 -2 2 -2 -2zM540.8 288.2l2 2 -2 2 -2 -2zM541 313l2 2 -2 2 -2 -2zM541.2 295.1l2 2 -2 2 -2 -2zM541.4 306.5l2 2 -2 2 -2 -2zM541.6 274.3l2 2 -2 2 -2 -2zM541.8 297.7l2 2 -2 2 -2 -2zM542 304.5l2 2 -2 2 -2 -2zM542.2 306.9l2 2 -2 2 -2 -2zM542.4 290.2l2 2 -2 2 -2 -2zM542.6 294.7l2 2 -2 2 -2 -2zM542.8 315.9l2 2 -2 2 -2 -2zM543 300.3l2 2 -2 2 -2 -2zM543.2 319l2 2 -2 2 -2 -2zM543.4 312l2 2 -2 2 -2 -2zM543.6 318.5l2 2 -2 2 -2 -2zM543.8 318.8l2 2 -2 2 -2 -2zM544.1 311.1l2 2 -2 2 -2 -2zM544.3 314.7l2 2 -2 2 -2 -2zM184 85.6l2 2 -2 2 -2 -2zM199.9 87.4l2 2 -2 2 -2 -2zM199.9 122.9l2 2 -2 2 -2 -2zM200.2 126.5l2 2 -2 2 -2 -2zM315.3 95.4l2 2 -2 2 -2 -2zM370 87.4l2 2 -2 2 -2 -2zM462.5 87.4l2 2 -2 2 -2 -2zM483.5 106l2 2 -2 2 -2 -2zM483.7 117.6l2 2 -2 2 -2 -2zM285.1 96.3l2 2 -2 2 -2 -2zM199 392.9l2 2 -2 2 -2 -2zM232.5 361.8l2 2 -2 2 -2 -2zM254 367.2l2 2 -2 2 -2 -2zM301.1 351.2l2 2 -2 2 -2 -2zM454 392.9l2 2 -2 2 -2 -2zM461.4 368.1l2 2 -2 2 -2 -2zM517.5 370.7l2 2 -2 2 -2 -2zM517.7 376.1l2 2 -2 2 -2 -2zM184.2 337.9l2 2 -2 2 -2 -2zM184.4 329l2 2 -2 2 -2 -2z" fill="#ee0505"/>
<path d="M93.6 175.2 94.8 177.1 95.9 174.8 97.1 186.7 98.3 186.3 99.5 177 100.6 179.3 101.8 176.6 103 166.4 104.1 176.4 105.3 176.2 106.5 180.7 107.7 182.4 108.8 179.6 110 186.7 111.2 192.5 112.3 174.1 113.5 177 114.7 170.7 115.9 174.6 117 175.5 118.2 172.7 119.4 171.5 120.6 182.2 121.7 171.4 122.9 180.7 124.1 176.7 125.2 161.7 126.4 171.5 127.6 165.2 128.8 174.9 129.9 172.2 131.1 174.6 132.3 173.1 133.4 180 134.6 182.3 135.8 175.7 137 184.7 138.1 183.1 139.3 174.1 140.5 178.7 141.6 181.7 142.8 183.9 144 177.3 145.2 178.3 146.3 175.7 147.5 176.9 148.7 165.5 149.8 175.3 151 187.1 152.2 178.7 153.4 176.8 154.5 175.4 155.7 185.2 156.9 172.4 158.1 175.3 159.2 176.2 160.4 185.5 161.6 176.4 162.7 176.8 163.9 168.8 165.1 176.6 166.3 183.7 167.4 178 168.6 182.4 169.8 176 170.9 182.8 172.1 179.4 173.3 178.9 174.5 177.7 175.6 180.1 176.8 182.6 178 179.1 179.1 181 180.3 177.4 181.5 178.8 182.7 190.7 183.8 181.7 185 170.8 186.2 174 187.3 173.4 188.5 174.2 189.7 179.9 190.9 186.8 192 176.7 193.2 172.4 194.4 174.1 195.5 175.6 196.7 176.3 197.9 179.2 199.1 178.4 200.2 179.9 201.4 178.7 202.6 185.5 203.8 185.5 204.9 178.5 206.1 181.5 207.3 194.2 208.4 183.3 209.6 193.7 210.8 172.6 212 173 213.1 173.2 214.3 180.8 215.5 185.6 216.6 181.7 217.8 179 219 182.6 220.2 178.3 221.3 173.8 222.5 172.8 223.7 181.7 224.8 190.7 226 180.9 227.2 181.6 228.4 175.3 229.5 220.8 230.7 220.8 231.9 168 233 165.1 234.2 161 235.4 168.7 236.6 169.5 237.7 166.2 238.9 170.1 240.1 173.7 241.2 176 242.4 172.2 243.6 174.4 244.8 166.8 245.9 170.7 247.1 161.5 248.3 159.9 249.5 173.2 250.6 163.8 251.8 169.2 253 160.5 254.1 162.6 255.3 166.2 256.5 163.3 257.7 169.8 258.8 167 260 166.2 261.2 169.2 262.3 167.4 263.5 174.9 264.7 168.7 265.9 177.1 267 169.5 268.2 168.4 269.4 167 270.5 174 271.7 156.1 272.9 169.4 274.1 171.5 275.2 177.2 276.4 166.7 277.6 174.4 278.7 168.5 279.9 177.7 281.1 173.5 282.3 176.1 283.4 169.6 284.6 174.7 285.8 179.5 287 173.6 288.1 181.2 289.3 182.2 290.5 172.8 291.6 185 292.8 173.9 294 177.2 295.2 181.1 296.3 175.9 297.5 172.2 298.7 178 299.8 177.5 301 318.5 302.2 339.9 303.4 321.2 304.5 326.4 305.7 329 306.9 327.8 308 320.2 309.2 318.6 310.4 319.6 311.6 313.8 312.7 338.1 313.9 153.3 315.1 178.5 316.2 165.9 317.4 184.3 318.6 176.6 319.8 173.3 320.9 174.5 322.1 162 323.3 164.8 324.4 167.8 325.6 178 326.8 173.2 328 176.6 329.1 175.2 330.3 173.9 331.5 177.2 332.7 172 333.8 164.7 335 165.9 336.2 170.7 337.3 184.2 338.5 171.3 339.7 167.4 340.9 173.3 342 176.6 343.2 171.2 344.4 177.7 345.5 170.7 346.7 179 347.9 180.5 349.1 175.7 350.2 182.4 351.4 176.3 352.6 171.4 353.7 180.2 354.9 170.3 356.1 175.6 357.3 170.9 358.4 171.4 359.6 175.2 360.8 176.6 361.9 183.6 363.1 180.1 364.3 179.4 365.5 165.9 366.6 165.4 367.8 178.7 369 170.6 370.1 171.6 371.3 175.3 372.5 171.8 373.7 169 374.8 175.9 376 176.4 377.2 174.2 378.4 180 379.5 175.3 380.7 175.5 381.9 179 383 181 384.2 175.4 385.4 170.6 386.6 172.3 387.7 179.5 388.9 172.8 390.1 174.1 391.2 172.3 392.4 168.6 393.6 179.1 394.8 178.1 395.9 180.5 397.1 182.8 398.3 167.6 399.4 169.1 400.6 184.6 401.8 177.2 403 180.5 404.1 172.2 405.3 175.7 406.5 178.2 407.6 177.4 408.8 175.8 410 177.3 411.2 179 412.3 179.1 413.5 175.4 414.7 183.4 415.9 179.5 417 178.9 418.2 180.7 419.4 174.4 420.5 183.7 421.7 181.3 422.9 183.3 424.1 176.1 425.2 179.5 426.4 177.6 427.6 175.1 428.7 185.3 429.9 176.9 431.1 181 432.3 179.5 433.4 178.2 434.6 172.6 435.8 171.3 436.9 165.2 438.1 153.3 439.3 318.9 440.5 320.6 441.6 314.7 442.8 307.5 444 312.3 445.1 318.7 446.3 315.8 447.5 314.9 448.7 315.8 449.8 320.3 451 331.5 452.2 323.6 453.3 312.4 454.5 313.6 455.7 327.2 456.9 319 458 326.7 459.2 307.6 460.4 311.8 461.6 320.6 462.7 312.1 463.9 318.2 465.1 312.5 466.2 313.7 467.4 320.6 468.6 312.4 469.8 320.9 470.9 308.5 472.1 311.8 473.3 318.7 474.4 325.1 475.6 307.9 476.8 303.5 478 317 479.1 304.8 480.3 309.2 481.5 312.5 482.6 312.6 483.8 313.5 485 304.1 486.2 308.3 487.3 320.4 488.5 302.1 489.7 303.1 490.8 314.2 492 313.3 493.2 315.9 494.4 311.3 495.5 307.8 496.7 307.4 497.9 311.8 499 314.1 500.2 305.6 501.4 308.3 502.6 296 503.7 309.2 504.9 304.3 506.1 306.8 507.3 312 508.4 301.8 509.6 305.5 510.8 312.3 511.9 311 513.1 303.2 514.3 313.2 515.5 301.8 516.6 302.1 517.8 338.1 519 338.1 520.1 295.6 521.3 300.6 522.5 304.4 523.7 296.2 524.8 295.6 526 308.8 527.2 308.8 528.3 308.7 529.5 309.8 530.7 316.1 531.9 304.6 533 305.6 534.2 305.8 535.4 298.5 536.5 307.3 537.7 307 538.9 305.1 540.1 308.3 541.2 307.5 542.4 302.3 543.6 305" stroke="#000" stroke-width="2.9" fill="none" stroke-linejoin="round"/>
<path d="M93.6 91.1 94.8 148.9 95.9 164.4 97.1 171.6 98.3 173.9 99.5 176.2 100.6 159.9 101.8 160.5 103 166.9 104.1 168.1 105.3 176.8 106.5 176.2 107.7 174 108.8 174 110 179.8 111.2 181.2 112.3 174.1 113.5 173.3 114.7 187.2 115.9 178.7 117 169.2 118.2 177.5 119.4 174.8 120.6 183.8 121.7 173.2 122.9 181.3 124.1 184.5 125.2 180 126.4 163 127.6 175.2 128.8 182.6 129.9 174.8 131.1 173.7 132.3 165.1 133.4 179.5 134.6 185.6 135.8 180 137 174.3 138.1 172.6 139.3 168 140.5 181.6 141.6 181.9 142.8 178 144 171.3 145.2 171.4 146.3 176.8 147.5 181.9 148.7 172.4 149.8 169.3 151 158.1 152.2 171.7 153.4 165.3 154.5 180 155.7 180.5 156.9 181.6 158.1 180.7 159.2 182.9 160.4 181.7 161.6 178.5 162.7 179.7 163.9 173.6 165.1 176 166.3 176.2 167.4 167.6 168.6 171.7 169.8 173.8 170.9 175.3 172.1 175.3 173.3 172.2 174.5 179.2 175.6 170 176.8 164.6 178 165.4 179.1 175.1 180.3 184.4 181.5 180.4 182.7 175.7 183.8 311.5 185 315.8 186.2 177.4 187.3 167.4 188.5 177.2 189.7 170 190.9 168.8 192 181.4 193.2 175.9 194.4 179 195.5 182.3 196.7 188.5 197.9 188.7 199.1 153.3 200.2 309 201.4 305.6 202.6 312.3 203.8 310 204.9 309 206.1 316.1 207.3 318.9 208.4 307.6 209.6 305.9 210.8 311.6 212 308.7 213.1 303.5 214.3 295.3 215.5 308.7 216.6 304.1 217.8 294.2 219 303.2 220.2 297.9 221.3 320 222.5 303.3 223.7 306.9 224.8 318.9 226 307.2 227.2 302.3 228.4 300 229.5 299.2 230.7 305.9 231.9 311.9 233 311.9 234.2 309.3 235.4 305.8 236.6 309.7 237.7 307.6 238.9 302 240.1 303.4 241.2 292.2 242.4 289.6 243.6 309.5 244.8 313 245.9 319.4 247.1 321.4 248.3 313 249.5 320.4 250.6 324 251.8 321.5 253 315.4 254.1 321.3 255.3 324.1 256.5 317.2 257.7 316.8 258.8 316.1 260 312.4 261.2 322 262.3 317.1 263.5 320 264.7 310.5 265.9 308.3 267 318 268.2 306.4 269.4 317 270.5 306 271.7 307.7 272.9 313.9 274.1 316.8 275.2 312.9 276.4 310 277.6 313 278.7 306.3 279.9 315.6 281.1 310.2 282.3 308.3 283.4 318.6 284.6 153.3 285.8 179.8 287 189.6 288.1 182.1 289.3 178.1 290.5 170.7 291.6 177.2 292.8 168.1 294 166.1 295.2 168.1 296.3 167.8 297.5 173 298.7 179.6 299.8 174.4 301 170.7 302.2 173.7 303.4 177.2 304.5 185.8 305.7 175.1 306.9 173.6 308 182.6 309.2 176.9 310.4 171.4 311.6 174.4 312.7 169.9 313.9 168.5 315.1 180.9 316.2 177.6 317.4 171.8 318.6 167.3 319.8 163.2 320.9 181.6 322.1 176.3 323.3 170.3 324.4 165.6 325.6 161.6 326.8 175.8 328 176.9 329.1 181.3 330.3 171.8 331.5 181.5 332.7 169.9 333.8 167.9 335 170.1 336.2 186.4 337.3 182.6 338.5 173.3 339.7 183.2 340.9 179.4 342 302.8 343.2 296.3 344.4 298 345.5 298.5 346.7 302.9 347.9 301.5 349.1 153.3 350.2 171.7 351.4 175.4 352.6 169.4 353.7 183.5 354.9 170.7 356.1 174.9 357.3 168.4 358.4 172.6 359.6 169.2 360.8 164.4 361.9 174.9 363.1 174.3 364.3 175.5 365.5 173.6 366.6 183.7 367.8 178.2 369 176.9 370.1 179.7 371.3 177 372.5 184 373.7 168.8 374.8 169.8 376 161.6 377.2 175.2 378.4 181 379.5 174.2 380.7 183.5 381.9 175.1 383 178 384.2 176.7 385.4 172.7 386.6 172.7 387.7 162.5 388.9 166.9 390.1 179.7 391.2 170.5 392.4 181.6 393.6 176.9 394.8 183.5 395.9 183.3 397.1 170.9 398.3 178.5 399.4 181.5 400.6 182.2 401.8 181.2 403 170.9 404.1 183.4 405.3 187.7 406.5 178.7 407.6 188.9 408.8 185.1 410 175 411.2 178.5 412.3 182.2 413.5 184.6 414.7 186.4 415.9 185 417 180.2 418.2 172.2 419.4 171.3 420.5 179.9 421.7 183.4 422.9 175.9 424.1 319.3 425.2 315.9 426.4 314.7 427.6 319.6 428.7 320.9 429.9 314.1 431.1 324.3 432.3 323.6 433.4 322.5 434.6 318.4 435.8 326.3 436.9 314.4 438.1 319.1 439.3 320.3 440.5 321.4 441.6 323.7 442.8 326.3 444 314.7 445.1 316.9 446.3 319.5 447.5 314 448.7 322.4 449.8 317.2 451 319.4 452.2 325.5 453.3 317.8 454.5 328.4 455.7 318.2 456.9 323.5 458 316.9 459.2 308.5 460.4 310.2 461.6 316.8 462.7 153.3 463.9 182.9 465.1 188.1 466.2 189.3 467.4 183 468.6 178.2 469.8 190.2 470.9 183.9 472.1 178.6 473.3 179.4 474.4 186.1 475.6 176.2 476.8 186.4 478 178.6 479.1 170.7 480.3 189.6 481.5 181.9 482.6 179.2 483.8 161.2 485 166.9 486.2 165.9 487.3 172 488.5 164.9 489.7 160.4 490.8 166.1 492 169.3 493.2 167.6 494.4 164.4 495.5 163.1 496.7 163.6 497.9 157.8 499 312.7 500.2 323.3 501.4 307 502.6 297.4 503.7 311.1 504.9 310.8 506.1 305.1 507.3 299.6 508.4 299.7 509.6 296.1 510.8 302.7 511.9 302 513.1 301.8 514.3 306.7 515.5 298.6 516.6 299.6 517.8 297.8 519 305.2 520.1 299.2 521.3 309.5 522.5 304.2 523.7 320.1 524.8 315.5 526 304 527.2 307.4 528.3 304.8 529.5 314.5 530.7 299 531.9 299.8 533 303.7 534.2 302.3 535.4 302.4 536.5 296.1 537.7 301.2 538.9 312.5 540.1 308.9 541.2 298.8 542.4 300 543.6 306.1" stroke="#000" stroke-width="2.9" fill="none" stroke-linejoin="round"/>
<path d="M93.6 419.8v-4.2M93.6 64.5v4.2M183.7 419.8v-4.2M183.7 64.5v4.2M273.9 419.8v-4.2M273.9 64.5v4.2M364 419.8v-4.2M364 64.5v4.2M454.2 419.8v-4.2M454.2 64.5v4.2M544.3 419.8v-4.2M544.3 64.5v4.2M111.6 419.8v-2.4M111.6 64.5v2.4M129.7 419.8v-2.4M129.7 64.5v2.4M147.7 419.8v-2.4M147.7 64.5v2.4M165.7 419.8v-2.4M165.7 64.5v2.4M201.8 419.8v-2.4M201.8 64.5v2.4M219.8 419.8v-2.4M219.8 64.5v2.4M237.8 419.8v-2.4M237.8 64.5v2.4M255.9 419.8v-2.4M255.9 64.5v2.4M291.9 419.8v-2.4M291.9 64.5v2.4M309.9 419.8v-2.4M309.9 64.5v2.4M328 419.8v-2.4M328 64.5v2.4M346 419.8v-2.4M346 64.5v2.4M382 419.8v-2.4M382 64.5v2.4M400.1 419.8v-2.4M400.1 64.5v2.4M418.1 419.8v-2.4M418.1 64.5v2.4M436.1 419.8v-2.4M436.1 64.5v2.4M472.2 419.8v-2.4M472.2 64.5v2.4M490.2 419.8v-2.4M490.2 64.5v2.4M508.2 419.8v-2.4M508.2 64.5v2.4M526.3 419.8v-2.4M526.3 64.5v2.4M93.6 419.8h4.2M544.3 419.8h-4.2M93.6 375.4h4.2M544.3 375.4h-4.2M93.6 331h4.2M544.3 331h-4.2M93.6 286.6h4.2M544.3 286.6h-4.2M93.6 242.2h4.2M544.3 242.2h-4.2M93.6 197.7h4.2M544.3 197.7h-4.2M93.6 153.3h4.2M544.3 153.3h-4.2M93.6 108.9h4.2M544.3 108.9h-4.2M93.6 64.5h4.2M544.3 64.5h-4.2M93.6 397.6h2.4M544.3 397.6h-2.4M93.6 353.2h2.4M544.3 353.2h-2.4M93.6 308.8h2.4M544.3 308.8h-2.4M93.6 264.4h2.4M544.3 264.4h-2.4M93.6 219.9h2.4M544.3 219.9h-2.4M93.6 175.5h2.4M544.3 175.5h-2.4M93.6 131.1h2.4M544.3 131.1h-2.4M93.6 86.7h2.4M544.3 86.7h-2.4" stroke="#000" stroke-width="1.3" fill="none"/>
<rect x="93.6" y="64.5" width="450.7" height="355.3" stroke="#000" stroke-width="1.6" fill="none"/>
<text x="93.6" y="447.4" font-size="21.2" text-anchor="middle">0</text>
<text x="183.7" y="447.4" font-size="21.2" text-anchor="middle">2000</text>
<text x="273.9" y="447.4" font-size="21.2" text-anchor="middle">4000</text>
<text x="364" y="447.4" font-size="21.2" text-anchor="middle">6000</text>
<text x="454.2" y="447.4" font-size="21.2" text-anchor="middle">8000</text>
<text x="544.3" y="447.4" font-size="21.2" text-anchor="middle">10000</text>
<text x="85.6" y="427.8" font-size="21.2" text-anchor="end">−200</text>
<text x="85.6" y="383.4" font-size="21.2" text-anchor="end">−150</text>
<text x="85.6" y="339" font-size="21.2" text-anchor="end">−100</text>
<text x="85.6" y="294.6" font-size="21.2" text-anchor="end">−50</text>
<text x="85.6" y="250.2" font-size="21.2" text-anchor="end">0</text>
<text x="85.6" y="205.7" font-size="21.2" text-anchor="end">50</text>
<text x="85.6" y="161.3" font-size="21.2" text-anchor="end">100</text>
<text x="85.6" y="116.9" font-size="21.2" text-anchor="end">150</text>
<text x="85.6" y="72.5" font-size="21.2" text-anchor="end">200</text>
<text x="318.9" y="474.3" font-size="21.2" text-anchor="middle" textLength="185.4" lengthAdjust="spacingAndGlyphs">Simulation time [ps]</text>
<text x="22" y="242.2" font-size="21.2" text-anchor="middle" textLength="137.2" lengthAdjust="spacingAndGlyphs" transform="rotate(-90 22 242.2)">CC dihedral [°]</text>
<text transform="translate(52.65 35.75) scale(0.983 1.038)" font-size="48" fill="#282828">A</text>
<path d="M771.8 417.7V61.9M864.4 417.7V61.9M957.1 417.7V61.9M1049.7 417.7V61.9" stroke="#3a3a3a" stroke-width="1.3" fill="none" stroke-dasharray="1.3 10.7" stroke-dashoffset="0"/>
<path d="M679.2 328.8H1142.3M679.2 239.8H1142.3M679.2 150.8H1142.3" stroke="#3a3a3a" stroke-width="1.3" fill="none" stroke-dasharray="1.3 10.7" stroke-dashoffset="0"/>
<path d="M679.2 382.1h0M682.9 307.6h0M686.6 274.8h0M690.3 282.8h0M694 249.2h0M697.7 242.7h0M701.4 200.4h0M705.1 198.1h0M708.8 192.3h0M712.5 165.6h0M716.2 164.4h0M720 170.1h0M723.7 186.4h0M727.4 194.4h0M731.1 169.7h0M734.8 171.8h0M738.5 179.8h0M742.2 177.3h0M745.9 198.3h0M749.6 152.9h0M753.3 189.2h0M757 180.7h0M760.7 161.1h0M764.4 190.6h0M768.1 152.3h0M771.8 149.6h0M775.5 165h0M779.2 175.5h0M782.9 167.4h0M786.6 187.6h0M790.3 141.3h0M794 159.3h0M797.8 169.5h0M801.5 170.7h0M805.2 146.7h0M808.9 130.5h0M812.6 168.1h0M816.3 156.7h0M820 172.6h0M823.7 139.2h0M827.4 148.1h0M831.1 119.3h0M834.8 154.6h0M838.5 160.3h0M842.2 164.9h0M845.9 141.9h0M849.6 176.8h0M853.3 142.1h0M857 148.6h0M860.7 158.7h0M864.4 163.8h0M868.1 136.3h0M871.8 125.2h0M875.6 158.8h0M879.3 145.3h0M883 127.4h0M886.7 160.6h0M890.4 154.6h0M894.1 167.7h0M897.8 151.5h0M901.5 149.8h0M905.2 156.4h0M908.9 163.1h0M912.6 177.4h0M916.3 176.2h0M920 173.1h0M923.7 152h0M927.4 169.5h0M931.1 175.2h0M934.8 154.3h0M938.5 157.1h0M942.2 177.5h0M945.9 177.1h0M949.7 156.1h0M953.4 157.4h0M957.1 171.8h0M960.8 155.5h0M964.5 158.5h0M968.2 141.2h0M971.9 166.8h0M975.6 138.7h0M979.3 142.3h0M983 162.3h0M986.7 131.8h0M990.4 133.1h0M994.1 167.5h0M997.8 122.2h0M1001.5 169.5h0M1005.2 165.5h0M1008.9 156.2h0M1012.6 139.7h0M1016.3 143.8h0M1020 154.9h0M1023.7 135.2h0M1027.5 152.2h0M1031.2 141h0M1034.9 123.4h0M1038.6 163.5h0M1042.3 205.7h0M1046 176.3h0M1049.7 180.2h0M1053.4 158.1h0M1057.1 153.3h0M1060.8 170.3h0M1064.5 167.1h0M1068.2 152.5h0M1071.9 152.3h0M1075.6 188h0M1079.3 136.5h0M1083 148.7h0M1086.7 147.7h0M1090.4 141.8h0M1094.1 160.2h0M1097.8 145.3h0M1101.5 128.6h0M1105.3 127.4h0M1109 135.7h0M1112.7 145.6h0M1116.4 152h0M1120.1 119.1h0M1123.8 130.2h0M1127.5 147.1h0M1131.2 175.7h0M1134.9 159.2h0M1138.6 175.8h0M1142.3 130.3h0" stroke="#0505ee" stroke-width="5.2" stroke-linecap="round" fill="none"/>
<path d="M679.2 382.1 680.6 311 682.9 298.8 685.7 283.2 688.5 268 691.2 257.9 694 248.2 696.8 236.7 699.6 225.6 702.4 217.9 705.1 209.2 707.9 205.3 710.7 194.1 713.5 188 716.2 184.2 719 180.5 721.8 177.3 724.6 171.7 727.4 173.4 730.1 173.2 732.9 169.1 735.7 166.3 738.5 168.4 741.3 171.2 744 172.2 746.8 174.3 749.6 177.1 752.4 174.8 755.1 175.7 757.9 171.4 760.7 172 763.5 167.7 766.3 166.8 769 168.8 771.8 161.5 774.6 159.6 777.4 162.7 780.2 160 782.9 159.2 785.7 161.7 788.5 159.7 791.3 160.5 794 157.9 796.8 158.9 799.6 158.8 802.4 156 805.2 153.3 807.9 152.2 810.7 151.6 813.5 151.2 816.3 149.3 819.1 148.7 821.8 147.8 824.6 148.9 827.4 150.5 830.2 151.3 832.9 151.9 835.7 149.9 838.5 151.6 841.3 156.2 844.1 153.6 846.8 154.7 849.6 153.7 852.4 153.5 855.2 153.8 858 154.8 860.7 156.6 863.5 150.6 866.3 148.7 869.1 153.4 871.8 150.9 874.6 153.1 877.4 152.1 880.2 154.6 883 152.9 885.7 152.1 888.5 156.2 891.3 150.3 894.1 150.5 896.9 154.7 899.6 147.7 902.4 148.9 905.2 150 908 151.3 910.8 154.5 913.5 157.5 916.3 157.8 919.1 159.4 921.9 155.6 924.6 157.9 927.4 163.3 930.2 163.7 933 162.7 935.8 162.9 938.5 166.6 941.3 168.4 944.1 163.4 946.9 165.7 949.7 168.9 952.4 167.1 955.2 163 958 159.1 960.8 157.8 963.5 159.1 966.3 161.1 969.1 156.1 971.9 153.2 974.7 152.2 977.4 151.1 980.2 147.2 983 147.9 985.8 149.6 988.6 146.5 991.3 149.5 994.1 146.5 996.9 149.3 999.7 154 1002.4 152.4 1005.2 149.7 1008 156.3 1010.8 151.6 1013.6 147.8 1016.3 155.5 1019.1 153.6 1021.9 157.3 1024.7 155.9 1027.5 163.1 1030.2 163.8 1033 163.9 1035.8 164.4 1038.6 165.6 1041.3 167.1 1044.1 167.3 1046.9 167.1 1049.7 163.1 1052.5 162.9 1055.2 157.3 1058 147.6 1060.8 147.9 1063.6 149.3 1066.4 147.9 1069.1 146.8 1071.9 150.3 1074.7 146 1077.5 151.4 1080.2 150.5 1083 144.6 1085.8 152.4 1088.6 146.1 1091.4 149.6 1094.1 146.8 1096.9 145 1099.7 144.9 1102.5 143.3 1105.3 144.8 1108 142.9 1110.8 144.7 1113.6 142 1116.4 142.9 1119.1 137.4 1121.9 140.3 1124.7 137.3 1127.5 141.9 1130.3 143.9 1133 143.1 1135.8 146.6 1138.6 151.6 1141.4 147.3" stroke="#0505d8" stroke-width="2.4" fill="none" stroke-linejoin="round"/>
<path d="M679.2 373.2h0M682.9 319.5h0M686.6 265.4h0M690.3 256.1h0M694 251.5h0M697.7 242h0M701.4 241.1h0M705.1 241.9h0M708.8 213.4h0M712.5 205.4h0M716.2 235.1h0M720 201.3h0M723.7 207h0M727.4 193.1h0M731.1 198.9h0M734.8 183h0M738.5 181.1h0M742.2 180.1h0M745.9 211.4h0M749.6 175.2h0M753.3 183.5h0M757 196.5h0M760.7 164.2h0M764.4 190.8h0M768.1 155.3h0M771.8 141.9h0M775.5 173.6h0M779.2 151.4h0M782.9 157.9h0M786.6 154.5h0M790.3 183.7h0M794 152.9h0M797.8 158.7h0M801.5 148.4h0M805.2 160.7h0M808.9 145.7h0M812.6 159.4h0M816.3 154.8h0M820 145.9h0M823.7 165.2h0M827.4 154.6h0M831.1 165.6h0M834.8 159.6h0M838.5 173.8h0M842.2 152.6h0M845.9 144.2h0M849.6 162h0M853.3 147.2h0M857 151h0M860.7 172.2h0M864.4 148.7h0M868.1 131.7h0M871.8 156.2h0M875.6 173h0M879.3 140.9h0M883 151.5h0M886.7 111.8h0M890.4 140.7h0M894.1 143h0M897.8 155.1h0M901.5 145.8h0M905.2 161.8h0M908.9 170.4h0M912.6 159.4h0M916.3 172.1h0M920 142h0M923.7 180.5h0M927.4 162.8h0M931.1 170.1h0M934.8 178.6h0M938.5 131.6h0M942.2 185.7h0M945.9 131.1h0M949.7 173.7h0M953.4 151.7h0M957.1 119.8h0M960.8 185.3h0M964.5 174.4h0M968.2 134.9h0M971.9 154.2h0M975.6 167.2h0M979.3 162h0M983 178.2h0M986.7 164.2h0M990.4 145.6h0M994.1 175.1h0M997.8 165.7h0M1001.5 147.2h0M1005.2 132.8h0M1008.9 168.2h0M1012.6 152.3h0M1016.3 165.8h0M1020 167.7h0M1023.7 164.8h0M1027.5 169h0M1031.2 186h0M1034.9 190.4h0M1038.6 171.5h0M1042.3 158.4h0M1046 142.1h0M1049.7 167.6h0M1053.4 161.9h0M1057.1 149.4h0M1060.8 148.2h0M1064.5 160.9h0M1068.2 160h0M1071.9 131.5h0M1075.6 164.2h0M1079.3 166.5h0M1083 183.6h0M1086.7 153.4h0M1090.4 164.1h0M1094.1 132.2h0M1097.8 165.7h0M1101.5 148.9h0M1105.3 146.8h0M1109 135.9h0M1112.7 179.4h0M1116.4 136.6h0M1120.1 159.2h0M1123.8 160h0M1127.5 160.1h0M1131.2 158.4h0M1134.9 157.2h0M1138.6 196.9h0M1142.3 174.8h0" stroke="#ee0505" stroke-width="5.2" stroke-linecap="round" fill="none"/>
<path d="M679.2 373.2 680.6 314.5 682.9 307.6 685.7 287.1 688.5 280.4 691.2 274.5 694 264.1 696.8 257.6 699.6 244.1 702.4 240.3 705.1 230.1 707.9 228.1 710.7 228.7 713.5 225.1 716.2 216.8 719 216.6 721.8 212.7 724.6 210.4 727.4 209.2 730.1 204.8 732.9 203.6 735.7 202.4 738.5 197.4 741.3 190.7 744 188.8 746.8 190.2 749.6 187.6 752.4 184.6 755.1 179.3 757.9 178 760.7 176.2 763.5 172.5 766.3 167.4 769 163.2 771.8 169 774.6 171 777.4 164.1 780.2 165.6 782.9 164.7 785.7 162.1 788.5 164.2 791.3 166.2 794 166.6 796.8 161.5 799.6 162.9 802.4 159.6 805.2 163.9 807.9 163 810.7 166.4 813.5 165 816.3 166.3 819.1 165.3 821.8 164.8 824.6 169.2 827.4 171.7 830.2 165.7 832.9 167.9 835.7 166.2 838.5 165 841.3 162 844.1 161.7 846.8 161.1 849.6 159.7 852.4 161.8 855.2 160 858 157.7 860.7 156 863.5 154.9 866.3 152.6 869.1 151.3 871.8 150.4 874.6 151 877.4 143.9 880.2 142.6 883 144.3 885.7 140 888.5 138.8 891.3 141.2 894.1 147.4 896.9 148.1 899.6 149.5 902.4 147.6 905.2 155.8 908 157.6 910.8 160.6 913.5 160.5 916.3 159.9 919.1 166.2 921.9 169 924.6 162.3 927.4 162.2 930.2 162.2 933 157.5 935.8 156.1 938.5 161.3 941.3 155.9 944.1 151.8 946.9 154.5 949.7 154 952.4 151.5 955.2 154.4 958 156.6 960.8 155.8 963.5 157.4 966.3 153.6 969.1 159.3 971.9 155.2 974.7 162.6 977.4 160.8 980.2 165.8 983 165.1 985.8 164 988.6 165.1 991.3 166 994.1 170.2 996.9 168.9 999.7 166.5 1002.4 163.6 1005.2 163.7 1008 158.4 1010.8 158 1013.6 155.1 1016.3 157 1019.1 157.1 1021.9 160.7 1024.7 160.6 1027.5 163 1030.2 161.4 1033 161.7 1035.8 159.7 1038.6 163.9 1041.3 154.1 1044.1 161.1 1046.9 157.9 1049.7 158.1 1052.5 165.5 1055.2 160.5 1058 156.7 1060.8 165 1063.6 158.2 1066.4 161.8 1069.1 160.8 1071.9 159.3 1074.7 163.8 1077.5 159.4 1080.2 161.3 1083 161.7 1085.8 158.9 1088.6 153.1 1091.4 160.1 1094.1 159.9 1096.9 161.4 1099.7 163.1 1102.5 160.9 1105.3 158 1108 160.6 1110.8 158.9 1113.6 161 1116.4 154.9 1119.1 163.6 1121.9 158.6 1124.7 157.2 1127.5 155.5 1130.3 156.3 1133 154.1 1135.8 155 1138.6 162.8 1141.4 180.5" stroke="#dd0c0c" stroke-width="2.4" fill="none" stroke-linejoin="round"/>
<path d="M679.2 378.8l3.3 3.3 -3.3 3.3 -3.3 -3.3zM682.9 314.2l3.3 3.3 -3.3 3.3 -3.3 -3.3zM686.6 291.2l3.3 3.3 -3.3 3.3 -3.3 -3.3zM690.3 280.4l3.3 3.3 -3.3 3.3 -3.3 -3.3zM694 273.5l3.3 3.3 -3.3 3.3 -3.3 -3.3zM697.7 263.3l3.3 3.3 -3.3 3.3 -3.3 -3.3zM701.4 253.3l3.3 3.3 -3.3 3.3 -3.3 -3.3zM705.1 285.1l3.3 3.3 -3.3 3.3 -3.3 -3.3zM708.8 263.3l3.3 3.3 -3.3 3.3 -3.3 -3.3zM712.5 253.3l3.3 3.3 -3.3 3.3 -3.3 -3.3zM716.2 254.1l3.3 3.3 -3.3 3.3 -3.3 -3.3zM720 227.1l3.3 3.3 -3.3 3.3 -3.3 -3.3zM723.7 227.8l3.3 3.3 -3.3 3.3 -3.3 -3.3zM727.4 237.7l3.3 3.3 -3.3 3.3 -3.3 -3.3zM731.1 235.1l3.3 3.3 -3.3 3.3 -3.3 -3.3zM734.8 220.7l3.3 3.3 -3.3 3.3 -3.3 -3.3zM738.5 240.8l3.3 3.3 -3.3 3.3 -3.3 -3.3zM742.2 237.3l3.3 3.3 -3.3 3.3 -3.3 -3.3zM745.9 216.7l3.3 3.3 -3.3 3.3 -3.3 -3.3zM749.6 217.6l3.3 3.3 -3.3 3.3 -3.3 -3.3zM753.3 200.8l3.3 3.3 -3.3 3.3 -3.3 -3.3zM757 209.9l3.3 3.3 -3.3 3.3 -3.3 -3.3zM760.7 200.8l3.3 3.3 -3.3 3.3 -3.3 -3.3zM764.4 214.1l3.3 3.3 -3.3 3.3 -3.3 -3.3zM768.1 216.3l3.3 3.3 -3.3 3.3 -3.3 -3.3zM771.8 201.4l3.3 3.3 -3.3 3.3 -3.3 -3.3zM775.5 232l3.3 3.3 -3.3 3.3 -3.3 -3.3zM779.2 189.5l3.3 3.3 -3.3 3.3 -3.3 -3.3zM782.9 181.2l3.3 3.3 -3.3 3.3 -3.3 -3.3zM786.6 191.9l3.3 3.3 -3.3 3.3 -3.3 -3.3zM790.3 194.9l3.3 3.3 -3.3 3.3 -3.3 -3.3zM794 176.3l3.3 3.3 -3.3 3.3 -3.3 -3.3zM797.8 188.1l3.3 3.3 -3.3 3.3 -3.3 -3.3zM801.5 172.2l3.3 3.3 -3.3 3.3 -3.3 -3.3zM805.2 151.1l3.3 3.3 -3.3 3.3 -3.3 -3.3zM808.9 164.3l3.3 3.3 -3.3 3.3 -3.3 -3.3zM812.6 158.9l3.3 3.3 -3.3 3.3 -3.3 -3.3zM816.3 163.7l3.3 3.3 -3.3 3.3 -3.3 -3.3zM820 166l3.3 3.3 -3.3 3.3 -3.3 -3.3zM823.7 165l3.3 3.3 -3.3 3.3 -3.3 -3.3zM827.4 167.7l3.3 3.3 -3.3 3.3 -3.3 -3.3zM831.1 154.4l3.3 3.3 -3.3 3.3 -3.3 -3.3zM834.8 188.3l3.3 3.3 -3.3 3.3 -3.3 -3.3zM838.5 170.6l3.3 3.3 -3.3 3.3 -3.3 -3.3zM842.2 157.9l3.3 3.3 -3.3 3.3 -3.3 -3.3zM845.9 175.4l3.3 3.3 -3.3 3.3 -3.3 -3.3zM849.6 164.3l3.3 3.3 -3.3 3.3 -3.3 -3.3zM853.3 170.1l3.3 3.3 -3.3 3.3 -3.3 -3.3zM857 153.9l3.3 3.3 -3.3 3.3 -3.3 -3.3zM860.7 146.8l3.3 3.3 -3.3 3.3 -3.3 -3.3zM864.4 137.5l3.3 3.3 -3.3 3.3 -3.3 -3.3zM868.1 149.1l3.3 3.3 -3.3 3.3 -3.3 -3.3zM871.8 164.1l3.3 3.3 -3.3 3.3 -3.3 -3.3zM875.6 151.1l3.3 3.3 -3.3 3.3 -3.3 -3.3zM879.3 146.5l3.3 3.3 -3.3 3.3 -3.3 -3.3zM883 131.1l3.3 3.3 -3.3 3.3 -3.3 -3.3zM886.7 170.9l3.3 3.3 -3.3 3.3 -3.3 -3.3zM890.4 133.6l3.3 3.3 -3.3 3.3 -3.3 -3.3zM894.1 157.1l3.3 3.3 -3.3 3.3 -3.3 -3.3zM897.8 120.4l3.3 3.3 -3.3 3.3 -3.3 -3.3zM901.5 128.5l3.3 3.3 -3.3 3.3 -3.3 -3.3zM905.2 132l3.3 3.3 -3.3 3.3 -3.3 -3.3zM908.9 131.2l3.3 3.3 -3.3 3.3 -3.3 -3.3zM912.6 141.8l3.3 3.3 -3.3 3.3 -3.3 -3.3zM916.3 158l3.3 3.3 -3.3 3.3 -3.3 -3.3zM920 148.3l3.3 3.3 -3.3 3.3 -3.3 -3.3zM923.7 140.4l3.3 3.3 -3.3 3.3 -3.3 -3.3zM927.4 159.1l3.3 3.3 -3.3 3.3 -3.3 -3.3zM931.1 159l3.3 3.3 -3.3 3.3 -3.3 -3.3zM934.8 174.4l3.3 3.3 -3.3 3.3 -3.3 -3.3zM938.5 141.7l3.3 3.3 -3.3 3.3 -3.3 -3.3zM942.2 160.4l3.3 3.3 -3.3 3.3 -3.3 -3.3zM945.9 161l3.3 3.3 -3.3 3.3 -3.3 -3.3zM949.7 157.7l3.3 3.3 -3.3 3.3 -3.3 -3.3zM953.4 163.8l3.3 3.3 -3.3 3.3 -3.3 -3.3zM957.1 156.8l3.3 3.3 -3.3 3.3 -3.3 -3.3zM960.8 135.9l3.3 3.3 -3.3 3.3 -3.3 -3.3zM964.5 140.6l3.3 3.3 -3.3 3.3 -3.3 -3.3zM968.2 131.2l3.3 3.3 -3.3 3.3 -3.3 -3.3zM971.9 129.6l3.3 3.3 -3.3 3.3 -3.3 -3.3zM975.6 159.3l3.3 3.3 -3.3 3.3 -3.3 -3.3zM979.3 141l3.3 3.3 -3.3 3.3 -3.3 -3.3zM983 127.3l3.3 3.3 -3.3 3.3 -3.3 -3.3zM986.7 116.4l3.3 3.3 -3.3 3.3 -3.3 -3.3zM990.4 162.9l3.3 3.3 -3.3 3.3 -3.3 -3.3zM994.1 163.8l3.3 3.3 -3.3 3.3 -3.3 -3.3zM997.8 140.4l3.3 3.3 -3.3 3.3 -3.3 -3.3zM1001.5 151.4l3.3 3.3 -3.3 3.3 -3.3 -3.3zM1005.2 160.5l3.3 3.3 -3.3 3.3 -3.3 -3.3zM1008.9 143.8l3.3 3.3 -3.3 3.3 -3.3 -3.3zM1012.6 159.4l3.3 3.3 -3.3 3.3 -3.3 -3.3zM1016.3 177.5l3.3 3.3 -3.3 3.3 -3.3 -3.3zM1020 148.1l3.3 3.3 -3.3 3.3 -3.3 -3.3zM1023.7 145.5l3.3 3.3 -3.3 3.3 -3.3 -3.3zM1027.5 138.2l3.3 3.3 -3.3 3.3 -3.3 -3.3zM1031.2 133.6l3.3 3.3 -3.3 3.3 -3.3 -3.3zM1034.9 142.5l3.3 3.3 -3.3 3.3 -3.3 -3.3zM1038.6 147.1l3.3 3.3 -3.3 3.3 -3.3 -3.3zM1042.3 151.8l3.3 3.3 -3.3 3.3 -3.3 -3.3zM1046 163.5l3.3 3.3 -3.3 3.3 -3.3 -3.3zM1049.7 147.3l3.3 3.3 -3.3 3.3 -3.3 -3.3zM1053.4 128.3l3.3 3.3 -3.3 3.3 -3.3 -3.3zM1057.1 132.1l3.3 3.3 -3.3 3.3 -3.3 -3.3zM1060.8 115l3.3 3.3 -3.3 3.3 -3.3 -3.3zM1064.5 143.9l3.3 3.3 -3.3 3.3 -3.3 -3.3zM1068.2 165.6l3.3 3.3 -3.3 3.3 -3.3 -3.3zM1071.9 134.6l3.3 3.3 -3.3 3.3 -3.3 -3.3zM1075.6 134.2l3.3 3.3 -3.3 3.3 -3.3 -3.3zM1079.3 164.2l3.3 3.3 -3.3 3.3 -3.3 -3.3zM1083 169.1l3.3 3.3 -3.3 3.3 -3.3 -3.3zM1086.7 145.9l3.3 3.3 -3.3 3.3 -3.3 -3.3zM1090.4 137.8l3.3 3.3 -3.3 3.3 -3.3 -3.3zM1094.1 158.1l3.3 3.3 -3.3 3.3 -3.3 -3.3zM1097.8 145l3.3 3.3 -3.3 3.3 -3.3 -3.3zM1101.5 148.1l3.3 3.3 -3.3 3.3 -3.3 -3.3zM1105.3 152.7l3.3 3.3 -3.3 3.3 -3.3 -3.3zM1109 153.8l3.3 3.3 -3.3 3.3 -3.3 -3.3zM1112.7 134.4l3.3 3.3 -3.3 3.3 -3.3 -3.3zM1116.4 139.3l3.3 3.3 -3.3 3.3 -3.3 -3.3zM1120.1 141.4l3.3 3.3 -3.3 3.3 -3.3 -3.3zM1123.8 165.3l3.3 3.3 -3.3 3.3 -3.3 -3.3zM1127.5 111.5l3.3 3.3 -3.3 3.3 -3.3 -3.3zM1131.2 147.4l3.3 3.3 -3.3 3.3 -3.3 -3.3zM1134.9 137.8l3.3 3.3 -3.3 3.3 -3.3 -3.3zM1138.6 148.4l3.3 3.3 -3.3 3.3 -3.3 -3.3zM1142.3 126.8l3.3 3.3 -3.3 3.3 -3.3 -3.3z" fill="#000"/>
<path d="M679.2 382.1 680.6 323.4 682.9 314.5 685.7 299.5 688.5 292.9 691.2 290.7 694 286.9 696.8 282.9 699.6 270.7 702.4 269.3 705.1 265.8 707.9 259.5 710.7 252.7 713.5 251.1 716.2 252.7 719 245.7 721.8 242.5 724.6 241.6 727.4 242.6 730.1 241.1 732.9 242.9 735.7 239.8 738.5 240 741.3 241.3 744 238.2 746.8 231.9 749.6 225.9 752.4 222.7 755.1 220.7 757.9 224.4 760.7 215.1 763.5 213.2 766.3 210.2 769 209.9 771.8 205.9 774.6 204 777.4 194.3 780.2 196.5 782.9 197.8 785.7 196.9 788.5 196.4 791.3 195.2 794 194.8 796.8 192 799.6 187.8 802.4 185.3 805.2 182.2 807.9 175.8 810.7 174.5 813.5 176.5 816.3 177.5 819.1 174.6 821.8 172.6 824.6 171.4 827.4 170 830.2 173.3 832.9 173.4 835.7 169.6 838.5 168.4 841.3 171.5 844.1 168.5 846.8 165 849.6 166 852.4 165.5 855.2 168.6 858 160 860.7 160.2 863.5 160 866.3 160.5 869.1 161.8 871.8 158.9 874.6 158.4 877.4 155.4 880.2 159.7 883 149.8 885.7 148.6 888.5 141.9 891.3 143.1 894.1 136.8 896.9 131.6 899.6 135.3 902.4 142.1 905.2 142.8 908 144.1 910.8 151.3 913.5 154.4 916.3 153 919.1 157.8 921.9 156.5 924.6 162.6 927.4 165.3 930.2 164.3 933 160.7 935.8 163.9 938.5 160.2 941.3 157.8 944.1 158.5 946.9 152.8 949.7 155.4 952.4 155.4 955.2 160.5 958 160.7 960.8 161.8 963.5 155.3 966.3 154.3 969.1 151.3 971.9 149.1 974.7 152.3 977.4 151.8 980.2 149.7 983 146.8 985.8 151.3 988.6 147.7 991.3 149.3 994.1 150.1 996.9 148.2 999.7 152.2 1002.4 153.3 1005.2 150.2 1008 152.2 1010.8 153.3 1013.6 153.2 1016.3 151.2 1019.1 152.5 1021.9 149.5 1024.7 149.7 1027.5 146.9 1030.2 146.8 1033 147.1 1035.8 148.8 1038.6 147.5 1041.3 148.4 1044.1 140.5 1046.9 146.5 1049.7 144.2 1052.5 142 1055.2 147.2 1058 146 1060.8 145.7 1063.6 147.6 1066.4 148.7 1069.1 148.2 1071.9 146.1 1074.7 149 1077.5 152.1 1080.2 152.7 1083 155.8 1085.8 150.2 1088.6 150.3 1091.4 152.1 1094.1 147 1096.9 145.5 1099.7 143.9 1102.5 143.8 1105.3 142.7 1108 142.8 1110.8 139.4 1113.6 138.6 1116.4 137.5 1119.1 137.3 1121.9 136.5 1124.7 131.7 1127.5 141.3 1130.3 136 1133 139.1 1135.8 139 1138.6 138.6 1141.4 136.3" stroke="#000" stroke-width="2.4" fill="none" stroke-linejoin="round"/>
<path d="M679.2 417.7v-4.2M679.2 61.9v4.2M771.8 417.7v-4.2M771.8 61.9v4.2M864.4 417.7v-4.2M864.4 61.9v4.2M957.1 417.7v-4.2M957.1 61.9v4.2M1049.7 417.7v-4.2M1049.7 61.9v4.2M1142.3 417.7v-4.2M1142.3 61.9v4.2M697.7 417.7v-2.4M697.7 61.9v2.4M716.2 417.7v-2.4M716.2 61.9v2.4M734.8 417.7v-2.4M734.8 61.9v2.4M753.3 417.7v-2.4M753.3 61.9v2.4M790.3 417.7v-2.4M790.3 61.9v2.4M808.9 417.7v-2.4M808.9 61.9v2.4M827.4 417.7v-2.4M827.4 61.9v2.4M845.9 417.7v-2.4M845.9 61.9v2.4M883 417.7v-2.4M883 61.9v2.4M901.5 417.7v-2.4M901.5 61.9v2.4M920 417.7v-2.4M920 61.9v2.4M938.5 417.7v-2.4M938.5 61.9v2.4M975.6 417.7v-2.4M975.6 61.9v2.4M994.1 417.7v-2.4M994.1 61.9v2.4M1012.6 417.7v-2.4M1012.6 61.9v2.4M1031.2 417.7v-2.4M1031.2 61.9v2.4M1068.2 417.7v-2.4M1068.2 61.9v2.4M1086.7 417.7v-2.4M1086.7 61.9v2.4M1105.3 417.7v-2.4M1105.3 61.9v2.4M1123.8 417.7v-2.4M1123.8 61.9v2.4M679.2 417.7h4.2M1142.3 417.7h-4.2M679.2 328.8h4.2M1142.3 328.8h-4.2M679.2 239.8h4.2M1142.3 239.8h-4.2M679.2 150.8h4.2M1142.3 150.8h-4.2M679.2 61.9h4.2M1142.3 61.9h-4.2M679.2 399.9h2.4M1142.3 399.9h-2.4M679.2 382.1h2.4M1142.3 382.1h-2.4M679.2 364.3h2.4M1142.3 364.3h-2.4M679.2 346.5h2.4M1142.3 346.5h-2.4M679.2 311h2.4M1142.3 311h-2.4M679.2 293.2h2.4M1142.3 293.2h-2.4M679.2 275.4h2.4M1142.3 275.4h-2.4M679.2 257.6h2.4M1142.3 257.6h-2.4M679.2 222h2.4M1142.3 222h-2.4M679.2 204.2h2.4M1142.3 204.2h-2.4M679.2 186.4h2.4M1142.3 186.4h-2.4M679.2 168.6h2.4M1142.3 168.6h-2.4M679.2 133.1h2.4M1142.3 133.1h-2.4M679.2 115.3h2.4M1142.3 115.3h-2.4M679.2 97.5h2.4M1142.3 97.5h-2.4M679.2 79.7h2.4M1142.3 79.7h-2.4" stroke="#000" stroke-width="1.3" fill="none"/>
<rect x="679.2" y="61.9" width="463.1" height="355.8" stroke="#000" stroke-width="1.6" fill="none"/>
<rect x="912.4" y="272" width="208.6" height="108" fill="#fff" stroke="#000" stroke-width="1.5"/>
<path d="M928 292.6H1007.6" stroke="#0505d8" stroke-width="2.4"/>
<text x="1014.7" y="300.6" font-size="21.2">PEG 1734</text>
<path d="M928 325.6H1007.6" stroke="#dd0c0c" stroke-width="2.4"/>
<text x="1014.7" y="333.6" font-size="21.2">PEG 2526</text>
<path d="M928 358.6H1007.6" stroke="#000" stroke-width="2.4"/>
<text x="1014.7" y="366.6" font-size="21.2">PEG 3582</text>
<text x="679.2" y="444.9" font-size="21.2" text-anchor="middle">0</text>
<text x="771.8" y="444.9" font-size="21.2" text-anchor="middle">200</text>
<text x="864.4" y="444.9" font-size="21.2" text-anchor="middle">400</text>
<text x="957.1" y="444.9" font-size="21.2" text-anchor="middle">600</text>
<text x="1049.7" y="444.9" font-size="21.2" text-anchor="middle">800</text>
<text x="1142.3" y="444.9" font-size="21.2" text-anchor="middle">1000</text>
<text x="671.6" y="425.3" font-size="21.2" text-anchor="end">85</text>
<text x="671.6" y="336.4" font-size="21.2" text-anchor="end">90</text>
<text x="671.6" y="247.4" font-size="21.2" text-anchor="end">95</text>
<text x="671.6" y="158.4" font-size="21.2" text-anchor="end">100</text>
<text x="671.6" y="69.5" font-size="21.2" text-anchor="end">105</text>
<text x="910.8" y="472.3" font-size="21.2" text-anchor="middle" textLength="186.6" lengthAdjust="spacingAndGlyphs">Simulation time [ps]</text>
<text x="620.6" y="240.2" font-size="21.2" text-anchor="middle" textLength="346.8" lengthAdjust="spacingAndGlyphs" transform="rotate(-90 620.6 240.2)">Normalized PEG dihedral energy [%]</text>
<text transform="translate(640.5 36.7) scale(1.004 1.036)" font-size="48" fill="#282828">B</text>
<path d="M176.5 911.8V555.9M269 911.8V555.9M361.6 911.8V555.9M454.1 911.8V555.9" stroke="#3a3a3a" stroke-width="1.3" fill="none" stroke-dasharray="1.3 10.7" stroke-dashoffset="0"/>
<path d="M83.9 867.3H546.7M83.9 822.8H546.7M83.9 778.3H546.7M83.9 733.8H546.7M83.9 689.4H546.7M83.9 644.9H546.7M83.9 600.4H546.7" stroke="#3a3a3a" stroke-width="1.3" fill="none" stroke-dasharray="1.3 10.7" stroke-dashoffset="0"/>
<path d="M83.9 694.3h0M88.1 702.1h0M92.2 682.3h0M96.4 715.4h0M100.6 672.9h0M104.7 671.9h0M108.9 761.2h0M113.1 730.2h0M117.2 701.1h0M121.4 707.3h0M125.6 714.2h0M129.7 713.5h0M133.9 712.5h0M138 715.3h0M142.2 703h0M146.4 740.9h0M150.5 730.3h0M154.7 781.7h0M158.9 758.8h0M163 784.1h0M167.2 740.3h0M171.4 726.1h0M175.5 761.3h0M179.7 797.3h0M183.9 776.7h0M188 775.7h0M192.2 774.1h0M196.4 759.1h0M200.5 763.7h0M204.7 833.6h0M208.9 761.1h0M213 798.5h0M217.2 802.2h0M221.4 767.9h0M225.5 801.9h0M229.7 824h0M233.8 824.4h0M238 799.8h0M242.2 785.2h0M246.3 775.3h0M250.5 807.7h0M254.7 814.5h0M258.8 778.6h0M263 820.8h0M267.2 788.4h0M271.3 812.7h0M275.5 811.7h0M279.7 819.7h0M283.8 808.8h0M288 827.3h0M292.2 835.5h0M296.3 829.5h0M300.5 843.4h0M304.7 828.5h0M308.8 835.3h0M313 844.5h0M317.2 845.4h0M321.3 847.2h0M325.5 811.8h0M329.6 845.7h0M333.8 856.6h0M338 851h0M342.1 833.1h0M346.3 848.1h0M350.5 845.6h0M354.6 846.1h0M358.8 836.8h0M363 830.9h0M367.1 827.9h0M371.3 864.7h0M375.5 852.1h0M379.6 879.3h0M383.8 813.2h0M388 806.4h0M392.1 802h0M396.3 822.8h0M400.5 803.2h0M404.6 824.6h0M408.8 825.5h0M413 852h0M417.1 837.9h0M421.3 834.3h0M425.4 806.1h0M429.6 792.3h0M433.8 832h0M437.9 816.3h0M442.1 818.1h0M446.3 837.7h0M450.4 855.4h0M454.6 837.3h0M458.8 850.1h0M462.9 829.2h0M467.1 825.9h0M471.3 826.7h0M475.4 826.4h0M479.6 814.3h0M483.8 840.7h0M487.9 806.7h0M492.1 854.5h0M496.3 822.1h0M500.4 816.1h0M504.6 837.6h0M508.8 852.1h0M512.9 809.9h0M517.1 833.9h0M521.2 806.2h0M525.4 806h0M529.6 819.9h0M533.7 819.4h0M537.9 801.6h0M542.1 823h0M546.2 857.4h0" stroke="#0505ee" stroke-width="5.4" stroke-linecap="round" fill="none"/>
<path d="M83.9 669.6 87.6 675.1 91.3 677.7 95 683.9 98.7 683.2 102.4 691.5 106.1 687.6 109.8 697.2 113.5 700 117.2 708.2 120.9 711.2 124.6 713.9 128.3 718.9 132 725.6 135.7 732 139.4 732.3 143.1 736.3 146.8 739.3 150.5 741.3 154.2 751.2 157.9 761.6 161.7 759.5 165.4 769.9 169.1 772.4 172.8 766 176.5 769 180.2 774.8 183.9 776.2 187.6 775.7 191.3 783 195 776.5 198.7 781 202.4 775.5 206.1 788.1 209.8 783 213.5 791.3 217.2 787.5 220.9 796.9 224.6 793.1 228.3 798.9 232 801.4 235.7 800.1 239.4 799 243.1 800.3 246.8 797.2 250.5 801 254.2 814.3 257.9 808.9 261.6 817.6 265.3 814.8 269 814.3 272.7 820.9 276.4 819.5 280.1 814 283.8 814.7 287.5 811.9 291.2 820.1 294.9 823.1 298.6 822.5 302.3 833.9 306 834.5 309.7 840.4 313.4 838.3 317.2 837.3 320.9 837.3 324.6 843.5 328.3 847.1 332 847.6 335.7 849.8 339.4 844.4 343.1 840 346.8 851.9 350.5 849.9 354.2 835.9 357.9 845.2 361.6 837 365.3 840.9 369 831.8 372.7 830.1 376.4 830.5 380.1 826.3 383.8 827.3 387.5 824.5 391.2 819.3 394.9 821.2 398.6 826.7 402.3 826.5 406 823.8 409.7 823.4 413.4 822.3 417.1 824.7 420.8 820.3 424.5 822.5 428.2 821.3 431.9 822.6 435.6 820.4 439.3 826.8 443 817 446.7 821.4 450.4 821 454.1 820.4 457.8 818.7 461.5 820 465.2 821.7 468.9 823.2 472.7 828.4 476.4 821.8 480.1 823.7 483.8 823.7 487.5 814 491.2 829.2 494.9 822.4 498.6 818.2 502.3 818.9 506 817.5 509.7 826 513.4 824.4 517.1 818.4 520.8 821.2 524.5 813.6 528.2 818.4 531.9 818.1 535.6 816.8 539.3 823.5 543 831 546.7 842.7" stroke="#0505d8" stroke-width="2.4" fill="none" stroke-linejoin="round" stroke-dasharray="1 11 16 11"/>
<path d="M83.9 638.8h0M86.7 638.6h0M89.5 647h0M92.2 651.4h0M95 659.3h0M97.8 663h0M100.6 676.4h0M103.3 686.1h0M106.1 660.6h0M108.9 684.7h0M111.7 678.6h0M114.4 702.3h0M117.2 687h0M120 702.1h0M122.8 662.3h0M125.6 712.3h0M128.3 715.7h0M131.1 697.7h0M133.9 699.5h0M136.7 740.8h0M139.4 717.5h0M142.2 714.2h0M145 742.2h0M147.8 724.2h0M150.5 742h0M153.3 751.2h0M156.1 747.6h0M158.9 752.7h0M161.7 767.2h0M164.4 729.2h0M167.2 763.8h0M170 770.7h0M172.8 755.8h0M175.5 769.9h0M178.3 755.6h0M181.1 775.8h0M183.9 770.5h0M186.6 775.3h0M189.4 776.3h0M192.2 782.4h0M195 781.7h0M197.7 761.7h0M200.5 789.3h0M203.3 788.3h0M206.1 786.5h0M208.9 776.5h0M211.6 779.6h0M214.4 774.8h0M217.2 802.3h0M220 785.3h0M222.7 791.7h0M225.5 794.3h0M228.3 790.2h0M231.1 815.5h0M233.8 790.6h0M236.6 792.9h0M239.4 811.8h0M242.2 797.3h0M245 779.2h0M247.7 802.3h0M250.5 791.9h0M253.3 802.1h0M256.1 809.5h0M258.8 811.3h0M261.6 805.9h0M264.4 787h0M267.2 793.1h0M269.9 811.1h0M272.7 792.1h0M275.5 805.6h0M278.3 812.6h0M281.1 800.3h0M283.8 816.3h0M286.6 823.8h0M289.4 791h0M292.2 826.7h0M294.9 799.6h0M297.7 823.3h0M300.5 806.1h0M303.3 808.1h0M306 810.8h0M308.8 830.8h0M311.6 807h0M314.4 806.4h0M317.2 816.5h0M319.9 807.2h0M322.7 795.3h0M325.5 815.1h0M328.3 804.1h0M331 820.5h0M333.8 803.2h0M336.6 800.4h0M339.4 779.6h0M342.1 797.9h0M344.9 803.5h0M347.7 792.6h0M350.5 820.2h0M353.2 796.9h0M356 815.5h0M358.8 816.6h0M361.6 797.3h0M364.4 807.4h0M367.1 795.2h0M369.9 827.1h0M372.7 807.7h0M375.5 817.1h0M378.2 814.4h0M381 833.4h0M383.8 801.2h0M386.6 809.7h0M389.3 823.6h0M392.1 828h0M394.9 822.8h0M397.7 797.3h0M400.5 814.6h0M403.2 817.5h0M406 808.4h0M408.8 814.1h0M411.6 811.9h0M414.3 806.3h0M417.1 811.2h0M419.9 805.3h0M422.7 829.1h0M425.4 815.1h0M428.2 820.1h0M431 815.1h0M433.8 817h0M436.6 824.1h0M439.3 821.1h0M442.1 806.6h0M444.9 823.9h0M447.7 832h0M450.4 811.4h0M453.2 807.4h0M456 821.9h0M458.8 817.9h0M461.5 829.4h0M464.3 822.7h0M467.1 808.4h0M469.9 812.4h0M472.7 820.3h0M475.4 825.7h0M478.2 841.5h0M481 820h0M483.8 818.9h0M486.5 812.7h0M489.3 802.3h0M492.1 821.4h0M494.9 815.4h0M497.6 839.4h0M500.4 813.6h0M503.2 816.9h0M506 810.8h0M508.8 818h0M511.5 820h0M514.3 807.9h0M517.1 831.6h0M519.9 816.2h0M522.6 810.7h0M525.4 831.2h0M528.2 834.5h0M531 815.8h0M533.7 818.4h0M536.5 812.2h0M539.3 810.9h0M542.1 826.1h0M544.8 812.8h0" stroke="#ee0505" stroke-width="5.0" stroke-linecap="round" fill="none"/>
<path d="M83.9 640.3 87.6 647.2 91.3 650.9 95 660.9 98.7 666.4 102.4 666.5 106.1 672.4 109.8 680.7 113.5 683.8 117.2 691.1 120.9 687.9 124.6 702.8 128.3 699.4 132 711.6 135.7 713.6 139.4 720.6 143.1 726 146.8 727.7 150.5 733.2 154.2 741.2 157.9 748 161.7 745.1 165.4 751.9 169.1 760 172.8 765.9 176.5 768.3 180.2 771.3 183.9 770.8 187.6 779 191.3 778.8 195 782 198.7 777.1 202.4 776.5 206.1 782.2 209.8 781.2 213.5 780.8 217.2 787.1 220.9 790.7 224.6 787.2 228.3 790.1 232 793.1 235.7 789.8 239.4 794.2 243.1 800.6 246.8 796.1 250.5 798.2 254.2 794.2 257.9 800.1 261.6 801.3 265.3 800.3 269 801.6 272.7 806.8 276.4 803.4 280.1 805.4 283.8 801.5 287.5 798.8 291.2 808.2 294.9 807.8 298.6 807.5 302.3 807 306 807.1 309.7 805.1 313.4 802.4 317.2 809.1 320.9 810 324.6 811.1 328.3 803.6 332 803.3 335.7 811.2 339.4 811.8 343.1 807.4 346.8 805.1 350.5 805.6 354.2 808.1 357.9 807.1 361.6 808.4 365.3 811.1 369 804.8 372.7 810.3 376.4 813.6 380.1 812.3 383.8 815.5 387.5 811.7 391.2 809.1 394.9 815.8 398.6 809.8 402.3 807.6 406 812.5 409.7 816.9 413.4 816.5 417.1 815.5 420.8 818.3 424.5 818.6 428.2 816.3 431.9 816.5 435.6 814.7 439.3 819.9 443 812.1 446.7 814.6 450.4 815.4 454.1 819.9 457.8 814.2 461.5 820.5 465.2 815.4 468.9 818.1 472.7 824.1 476.4 823.6 480.1 818.1 483.8 821.1 487.5 824.9 491.2 824.7 494.9 825.4 498.6 828.7 502.3 827.2 506 827.7 509.7 826.4 513.4 823.3 517.1 826.4 520.8 821.2 524.5 822 528.2 819.2 531.9 817.8 535.6 815.8 539.3 816.4 543 815.1 546.7 816.4" stroke="#dd0c0c" stroke-width="2.4" fill="none" stroke-linejoin="round" stroke-dasharray="16 15.6"/>
<path d="M83.9 657.9l3.3 3.3 -3.3 3.3 -3.3 -3.3zM86.2 667.4l3.3 3.3 -3.3 3.3 -3.3 -3.3zM88.5 668.8l3.3 3.3 -3.3 3.3 -3.3 -3.3zM90.8 675l3.3 3.3 -3.3 3.3 -3.3 -3.3zM93.2 666.6l3.3 3.3 -3.3 3.3 -3.3 -3.3zM95.5 662.5l3.3 3.3 -3.3 3.3 -3.3 -3.3zM97.8 682.5l3.3 3.3 -3.3 3.3 -3.3 -3.3zM100.1 674l3.3 3.3 -3.3 3.3 -3.3 -3.3zM102.4 676l3.3 3.3 -3.3 3.3 -3.3 -3.3zM104.7 686.2l3.3 3.3 -3.3 3.3 -3.3 -3.3zM107 687.9l3.3 3.3 -3.3 3.3 -3.3 -3.3zM109.4 695l3.3 3.3 -3.3 3.3 -3.3 -3.3zM111.7 697.2l3.3 3.3 -3.3 3.3 -3.3 -3.3zM114 695.8l3.3 3.3 -3.3 3.3 -3.3 -3.3zM116.3 696.8l3.3 3.3 -3.3 3.3 -3.3 -3.3zM118.6 703.2l3.3 3.3 -3.3 3.3 -3.3 -3.3zM120.9 702.9l3.3 3.3 -3.3 3.3 -3.3 -3.3zM123.2 709.8l3.3 3.3 -3.3 3.3 -3.3 -3.3zM125.6 720.5l3.3 3.3 -3.3 3.3 -3.3 -3.3zM127.9 710.5l3.3 3.3 -3.3 3.3 -3.3 -3.3zM130.2 715.4l3.3 3.3 -3.3 3.3 -3.3 -3.3zM132.5 728.8l3.3 3.3 -3.3 3.3 -3.3 -3.3zM134.8 719.5l3.3 3.3 -3.3 3.3 -3.3 -3.3zM137.1 729.8l3.3 3.3 -3.3 3.3 -3.3 -3.3zM139.4 735.1l3.3 3.3 -3.3 3.3 -3.3 -3.3zM141.8 729.4l3.3 3.3 -3.3 3.3 -3.3 -3.3zM144.1 755l3.3 3.3 -3.3 3.3 -3.3 -3.3zM146.4 753l3.3 3.3 -3.3 3.3 -3.3 -3.3zM148.7 743.7l3.3 3.3 -3.3 3.3 -3.3 -3.3zM151 751.3l3.3 3.3 -3.3 3.3 -3.3 -3.3zM153.3 757.6l3.3 3.3 -3.3 3.3 -3.3 -3.3zM155.6 747.5l3.3 3.3 -3.3 3.3 -3.3 -3.3zM157.9 755.5l3.3 3.3 -3.3 3.3 -3.3 -3.3zM160.3 767.3l3.3 3.3 -3.3 3.3 -3.3 -3.3zM162.6 766.8l3.3 3.3 -3.3 3.3 -3.3 -3.3zM164.9 761.6l3.3 3.3 -3.3 3.3 -3.3 -3.3zM167.2 758.5l3.3 3.3 -3.3 3.3 -3.3 -3.3zM169.5 780l3.3 3.3 -3.3 3.3 -3.3 -3.3zM171.8 770l3.3 3.3 -3.3 3.3 -3.3 -3.3zM174.1 775.1l3.3 3.3 -3.3 3.3 -3.3 -3.3zM176.5 784l3.3 3.3 -3.3 3.3 -3.3 -3.3zM178.8 776.9l3.3 3.3 -3.3 3.3 -3.3 -3.3zM181.1 785.5l3.3 3.3 -3.3 3.3 -3.3 -3.3zM183.4 781l3.3 3.3 -3.3 3.3 -3.3 -3.3zM185.7 770.9l3.3 3.3 -3.3 3.3 -3.3 -3.3zM188 777.8l3.3 3.3 -3.3 3.3 -3.3 -3.3zM190.3 777.5l3.3 3.3 -3.3 3.3 -3.3 -3.3zM192.7 779.6l3.3 3.3 -3.3 3.3 -3.3 -3.3zM195 781.9l3.3 3.3 -3.3 3.3 -3.3 -3.3zM197.3 779.8l3.3 3.3 -3.3 3.3 -3.3 -3.3zM199.6 792.1l3.3 3.3 -3.3 3.3 -3.3 -3.3zM201.9 788.8l3.3 3.3 -3.3 3.3 -3.3 -3.3zM204.2 783.3l3.3 3.3 -3.3 3.3 -3.3 -3.3zM206.5 792.5l3.3 3.3 -3.3 3.3 -3.3 -3.3zM208.9 791.8l3.3 3.3 -3.3 3.3 -3.3 -3.3zM211.2 784.2l3.3 3.3 -3.3 3.3 -3.3 -3.3zM213.5 783.3l3.3 3.3 -3.3 3.3 -3.3 -3.3zM215.8 795.4l3.3 3.3 -3.3 3.3 -3.3 -3.3zM218.1 797.3l3.3 3.3 -3.3 3.3 -3.3 -3.3zM220.4 790.9l3.3 3.3 -3.3 3.3 -3.3 -3.3zM222.7 793.5l3.3 3.3 -3.3 3.3 -3.3 -3.3zM225.1 798.8l3.3 3.3 -3.3 3.3 -3.3 -3.3zM227.4 792.6l3.3 3.3 -3.3 3.3 -3.3 -3.3zM229.7 793.3l3.3 3.3 -3.3 3.3 -3.3 -3.3zM232 796.2l3.3 3.3 -3.3 3.3 -3.3 -3.3zM234.3 781.8l3.3 3.3 -3.3 3.3 -3.3 -3.3zM236.6 790.4l3.3 3.3 -3.3 3.3 -3.3 -3.3zM238.9 793.7l3.3 3.3 -3.3 3.3 -3.3 -3.3zM241.3 793.1l3.3 3.3 -3.3 3.3 -3.3 -3.3zM243.6 783.4l3.3 3.3 -3.3 3.3 -3.3 -3.3zM245.9 793.6l3.3 3.3 -3.3 3.3 -3.3 -3.3zM248.2 803.7l3.3 3.3 -3.3 3.3 -3.3 -3.3zM250.5 799l3.3 3.3 -3.3 3.3 -3.3 -3.3zM252.8 800.9l3.3 3.3 -3.3 3.3 -3.3 -3.3zM255.1 804.9l3.3 3.3 -3.3 3.3 -3.3 -3.3zM257.5 801.3l3.3 3.3 -3.3 3.3 -3.3 -3.3zM259.8 802l3.3 3.3 -3.3 3.3 -3.3 -3.3zM262.1 804.3l3.3 3.3 -3.3 3.3 -3.3 -3.3zM264.4 807.2l3.3 3.3 -3.3 3.3 -3.3 -3.3zM266.7 801l3.3 3.3 -3.3 3.3 -3.3 -3.3zM269 814.3l3.3 3.3 -3.3 3.3 -3.3 -3.3zM271.3 802.1l3.3 3.3 -3.3 3.3 -3.3 -3.3zM273.6 806.9l3.3 3.3 -3.3 3.3 -3.3 -3.3zM276 806l3.3 3.3 -3.3 3.3 -3.3 -3.3zM278.3 820.3l3.3 3.3 -3.3 3.3 -3.3 -3.3zM280.6 799.6l3.3 3.3 -3.3 3.3 -3.3 -3.3zM282.9 817.8l3.3 3.3 -3.3 3.3 -3.3 -3.3zM285.2 813.8l3.3 3.3 -3.3 3.3 -3.3 -3.3zM287.5 806.4l3.3 3.3 -3.3 3.3 -3.3 -3.3zM289.8 813.4l3.3 3.3 -3.3 3.3 -3.3 -3.3zM292.2 812.8l3.3 3.3 -3.3 3.3 -3.3 -3.3zM294.5 822.9l3.3 3.3 -3.3 3.3 -3.3 -3.3zM296.8 814l3.3 3.3 -3.3 3.3 -3.3 -3.3zM299.1 811l3.3 3.3 -3.3 3.3 -3.3 -3.3zM301.4 809.1l3.3 3.3 -3.3 3.3 -3.3 -3.3zM303.7 814.1l3.3 3.3 -3.3 3.3 -3.3 -3.3zM306 811.5l3.3 3.3 -3.3 3.3 -3.3 -3.3zM308.4 810.3l3.3 3.3 -3.3 3.3 -3.3 -3.3zM310.7 816.1l3.3 3.3 -3.3 3.3 -3.3 -3.3zM313 816.5l3.3 3.3 -3.3 3.3 -3.3 -3.3zM315.3 802.4l3.3 3.3 -3.3 3.3 -3.3 -3.3zM317.6 817.3l3.3 3.3 -3.3 3.3 -3.3 -3.3zM319.9 806.6l3.3 3.3 -3.3 3.3 -3.3 -3.3zM322.2 812.9l3.3 3.3 -3.3 3.3 -3.3 -3.3zM324.6 805.8l3.3 3.3 -3.3 3.3 -3.3 -3.3zM326.9 817.1l3.3 3.3 -3.3 3.3 -3.3 -3.3zM329.2 811.2l3.3 3.3 -3.3 3.3 -3.3 -3.3zM331.5 812.4l3.3 3.3 -3.3 3.3 -3.3 -3.3zM333.8 815.6l3.3 3.3 -3.3 3.3 -3.3 -3.3zM336.1 813l3.3 3.3 -3.3 3.3 -3.3 -3.3zM338.4 818.9l3.3 3.3 -3.3 3.3 -3.3 -3.3zM340.8 815.5l3.3 3.3 -3.3 3.3 -3.3 -3.3zM343.1 817.4l3.3 3.3 -3.3 3.3 -3.3 -3.3zM345.4 811.5l3.3 3.3 -3.3 3.3 -3.3 -3.3zM347.7 816.2l3.3 3.3 -3.3 3.3 -3.3 -3.3zM350 823.2l3.3 3.3 -3.3 3.3 -3.3 -3.3zM352.3 818.1l3.3 3.3 -3.3 3.3 -3.3 -3.3zM354.6 816.9l3.3 3.3 -3.3 3.3 -3.3 -3.3zM357 821.3l3.3 3.3 -3.3 3.3 -3.3 -3.3zM359.3 809.9l3.3 3.3 -3.3 3.3 -3.3 -3.3zM361.6 814.9l3.3 3.3 -3.3 3.3 -3.3 -3.3zM363.9 812.7l3.3 3.3 -3.3 3.3 -3.3 -3.3zM366.2 821.1l3.3 3.3 -3.3 3.3 -3.3 -3.3zM368.5 819.1l3.3 3.3 -3.3 3.3 -3.3 -3.3zM370.8 811.8l3.3 3.3 -3.3 3.3 -3.3 -3.3zM373.2 824.6l3.3 3.3 -3.3 3.3 -3.3 -3.3zM375.5 815.1l3.3 3.3 -3.3 3.3 -3.3 -3.3zM377.8 816.6l3.3 3.3 -3.3 3.3 -3.3 -3.3zM380.1 819.7l3.3 3.3 -3.3 3.3 -3.3 -3.3zM382.4 816.6l3.3 3.3 -3.3 3.3 -3.3 -3.3zM384.7 822.7l3.3 3.3 -3.3 3.3 -3.3 -3.3zM387 815.9l3.3 3.3 -3.3 3.3 -3.3 -3.3zM389.3 823.4l3.3 3.3 -3.3 3.3 -3.3 -3.3zM391.7 823.7l3.3 3.3 -3.3 3.3 -3.3 -3.3zM394 809.7l3.3 3.3 -3.3 3.3 -3.3 -3.3zM396.3 820.7l3.3 3.3 -3.3 3.3 -3.3 -3.3zM398.6 828.1l3.3 3.3 -3.3 3.3 -3.3 -3.3zM400.9 812l3.3 3.3 -3.3 3.3 -3.3 -3.3zM403.2 821.1l3.3 3.3 -3.3 3.3 -3.3 -3.3zM405.5 835.5l3.3 3.3 -3.3 3.3 -3.3 -3.3zM407.9 817.4l3.3 3.3 -3.3 3.3 -3.3 -3.3zM410.2 812.3l3.3 3.3 -3.3 3.3 -3.3 -3.3zM412.5 815.4l3.3 3.3 -3.3 3.3 -3.3 -3.3zM414.8 808.4l3.3 3.3 -3.3 3.3 -3.3 -3.3zM417.1 818.2l3.3 3.3 -3.3 3.3 -3.3 -3.3zM419.4 814.5l3.3 3.3 -3.3 3.3 -3.3 -3.3zM421.7 823l3.3 3.3 -3.3 3.3 -3.3 -3.3zM424.1 817l3.3 3.3 -3.3 3.3 -3.3 -3.3zM426.4 809.9l3.3 3.3 -3.3 3.3 -3.3 -3.3zM428.7 815.4l3.3 3.3 -3.3 3.3 -3.3 -3.3zM431 817.3l3.3 3.3 -3.3 3.3 -3.3 -3.3zM433.3 828.6l3.3 3.3 -3.3 3.3 -3.3 -3.3zM435.6 820.4l3.3 3.3 -3.3 3.3 -3.3 -3.3zM437.9 825.3l3.3 3.3 -3.3 3.3 -3.3 -3.3zM440.3 814.5l3.3 3.3 -3.3 3.3 -3.3 -3.3zM442.6 822.6l3.3 3.3 -3.3 3.3 -3.3 -3.3zM444.9 816.9l3.3 3.3 -3.3 3.3 -3.3 -3.3zM447.2 824.2l3.3 3.3 -3.3 3.3 -3.3 -3.3zM449.5 809.2l3.3 3.3 -3.3 3.3 -3.3 -3.3zM451.8 825.3l3.3 3.3 -3.3 3.3 -3.3 -3.3zM454.1 818.6l3.3 3.3 -3.3 3.3 -3.3 -3.3zM456.5 805.6l3.3 3.3 -3.3 3.3 -3.3 -3.3zM458.8 818.4l3.3 3.3 -3.3 3.3 -3.3 -3.3zM461.1 824.2l3.3 3.3 -3.3 3.3 -3.3 -3.3zM463.4 816.5l3.3 3.3 -3.3 3.3 -3.3 -3.3zM465.7 814.6l3.3 3.3 -3.3 3.3 -3.3 -3.3zM468 815.4l3.3 3.3 -3.3 3.3 -3.3 -3.3zM470.3 830.4l3.3 3.3 -3.3 3.3 -3.3 -3.3zM472.7 819l3.3 3.3 -3.3 3.3 -3.3 -3.3zM475 831.5l3.3 3.3 -3.3 3.3 -3.3 -3.3zM477.3 810.4l3.3 3.3 -3.3 3.3 -3.3 -3.3zM479.6 820.1l3.3 3.3 -3.3 3.3 -3.3 -3.3zM481.9 823l3.3 3.3 -3.3 3.3 -3.3 -3.3zM484.2 817.2l3.3 3.3 -3.3 3.3 -3.3 -3.3zM486.5 818.3l3.3 3.3 -3.3 3.3 -3.3 -3.3zM488.9 827.2l3.3 3.3 -3.3 3.3 -3.3 -3.3zM491.2 812.5l3.3 3.3 -3.3 3.3 -3.3 -3.3zM493.5 822.4l3.3 3.3 -3.3 3.3 -3.3 -3.3zM495.8 830.5l3.3 3.3 -3.3 3.3 -3.3 -3.3zM498.1 814l3.3 3.3 -3.3 3.3 -3.3 -3.3zM500.4 813.4l3.3 3.3 -3.3 3.3 -3.3 -3.3zM502.7 814.7l3.3 3.3 -3.3 3.3 -3.3 -3.3zM505 818.2l3.3 3.3 -3.3 3.3 -3.3 -3.3zM507.4 825.5l3.3 3.3 -3.3 3.3 -3.3 -3.3zM509.7 815.7l3.3 3.3 -3.3 3.3 -3.3 -3.3zM512 810.6l3.3 3.3 -3.3 3.3 -3.3 -3.3zM514.3 815.9l3.3 3.3 -3.3 3.3 -3.3 -3.3zM516.6 811.5l3.3 3.3 -3.3 3.3 -3.3 -3.3zM518.9 823.8l3.3 3.3 -3.3 3.3 -3.3 -3.3zM521.2 814.1l3.3 3.3 -3.3 3.3 -3.3 -3.3zM523.6 814.3l3.3 3.3 -3.3 3.3 -3.3 -3.3zM525.9 826.9l3.3 3.3 -3.3 3.3 -3.3 -3.3zM528.2 827.4l3.3 3.3 -3.3 3.3 -3.3 -3.3zM530.5 822.4l3.3 3.3 -3.3 3.3 -3.3 -3.3zM532.8 817.9l3.3 3.3 -3.3 3.3 -3.3 -3.3zM535.1 815.7l3.3 3.3 -3.3 3.3 -3.3 -3.3zM537.4 819.1l3.3 3.3 -3.3 3.3 -3.3 -3.3zM539.8 818l3.3 3.3 -3.3 3.3 -3.3 -3.3zM542.1 818.1l3.3 3.3 -3.3 3.3 -3.3 -3.3zM544.4 816.8l3.3 3.3 -3.3 3.3 -3.3 -3.3zM546.7 813.9l3.3 3.3 -3.3 3.3 -3.3 -3.3z" fill="#000"/>
<path d="M83.9 665.9 87.6 671.4 91.3 673.1 95 674.2 98.7 679.7 102.4 683.1 106.1 690 109.8 691 113.5 700.2 117.2 704.1 120.9 710.6 124.6 714.6 128.3 722.6 132 729.4 135.7 736.7 139.4 739.6 143.1 746.3 146.8 747.5 150.5 750.2 154.2 761 157.9 763.6 161.7 765 165.4 767.4 169.1 771.9 172.8 774.7 176.5 777.3 180.2 778.9 183.9 778.8 187.6 782.4 191.3 787.5 195 787.9 198.7 788.5 202.4 791.8 206.1 792.2 209.8 794.1 213.5 795.9 217.2 794.8 220.9 798.2 224.6 800.5 228.3 800.5 232 799.9 235.7 796.9 239.4 800.9 243.1 799.5 246.8 802 250.5 807.8 254.2 804.4 257.9 807.6 261.6 809.6 265.3 810.2 269 806.1 272.7 812.9 276.4 811.9 280.1 809.5 283.8 811.2 287.5 816.2 291.2 814.1 294.9 815.6 298.6 815.8 302.3 814.6 306 817 309.7 816.6 313.4 813.4 317.2 819.5 320.9 817.2 324.6 816 328.3 819.5 332 818.7 335.7 820.3 339.4 818 343.1 819.8 346.8 817.6 350.5 817.5 354.2 819.6 357.9 820.8 361.6 820 365.3 820.3 369 822.6 372.7 818.5 376.4 820 380.1 819 383.8 822.9 387.5 818.9 391.2 816.7 394.9 819.3 398.6 823 402.3 820.4 406 820.5 409.7 820.1 413.4 821.1 417.1 820 420.8 821.9 424.5 820.8 428.2 822.7 431.9 821.4 435.6 820 439.3 822.8 443 820.9 446.7 823.9 450.4 823.2 454.1 823.1 457.8 820.6 461.5 824.4 465.2 821 468.9 826 472.7 823.8 476.4 822.1 480.1 822.7 483.8 825.9 487.5 826.5 491.2 822.9 494.9 826.9 498.6 823.8 502.3 825.7 506 824.4 509.7 819.8 513.4 820.9 517.1 821.8 520.8 825.4 524.5 822 528.2 822.1 531.9 822.1 535.6 819.1 539.3 824.3 543 820.2 546.7 820.2" stroke="#000" stroke-width="2.4" fill="none" stroke-linejoin="round"/>
<path d="M83.9 911.8v-4.2M83.9 555.9v4.2M176.5 911.8v-4.2M176.5 555.9v4.2M269 911.8v-4.2M269 555.9v4.2M361.6 911.8v-4.2M361.6 555.9v4.2M454.1 911.8v-4.2M454.1 555.9v4.2M546.7 911.8v-4.2M546.7 555.9v4.2M102.4 911.8v-2.4M102.4 555.9v2.4M120.9 911.8v-2.4M120.9 555.9v2.4M139.4 911.8v-2.4M139.4 555.9v2.4M157.9 911.8v-2.4M157.9 555.9v2.4M195 911.8v-2.4M195 555.9v2.4M213.5 911.8v-2.4M213.5 555.9v2.4M232 911.8v-2.4M232 555.9v2.4M250.5 911.8v-2.4M250.5 555.9v2.4M287.5 911.8v-2.4M287.5 555.9v2.4M306 911.8v-2.4M306 555.9v2.4M324.6 911.8v-2.4M324.6 555.9v2.4M343.1 911.8v-2.4M343.1 555.9v2.4M380.1 911.8v-2.4M380.1 555.9v2.4M398.6 911.8v-2.4M398.6 555.9v2.4M417.1 911.8v-2.4M417.1 555.9v2.4M435.6 911.8v-2.4M435.6 555.9v2.4M472.7 911.8v-2.4M472.7 555.9v2.4M491.2 911.8v-2.4M491.2 555.9v2.4M509.7 911.8v-2.4M509.7 555.9v2.4M528.2 911.8v-2.4M528.2 555.9v2.4M83.9 911.8h4.2M546.7 911.8h-4.2M83.9 867.3h4.2M546.7 867.3h-4.2M83.9 822.8h4.2M546.7 822.8h-4.2M83.9 778.3h4.2M546.7 778.3h-4.2M83.9 733.8h4.2M546.7 733.8h-4.2M83.9 689.4h4.2M546.7 689.4h-4.2M83.9 644.9h4.2M546.7 644.9h-4.2M83.9 600.4h4.2M546.7 600.4h-4.2M83.9 555.9h4.2M546.7 555.9h-4.2M83.9 889.6h2.4M546.7 889.6h-2.4M83.9 845.1h2.4M546.7 845.1h-2.4M83.9 800.6h2.4M546.7 800.6h-2.4M83.9 756.1h2.4M546.7 756.1h-2.4M83.9 711.6h2.4M546.7 711.6h-2.4M83.9 667.1h2.4M546.7 667.1h-2.4M83.9 622.6h2.4M546.7 622.6h-2.4M83.9 578.1h2.4M546.7 578.1h-2.4" stroke="#000" stroke-width="1.3" fill="none"/>
<rect x="83.9" y="555.9" width="462.8" height="355.9" stroke="#000" stroke-width="1.6" fill="none"/>
<rect x="312.5" y="583" width="209.3" height="107.8" fill="#fff" stroke="#000" stroke-width="1.5"/>
<path d="M328.4 604.1H407.3" stroke="#0505d8" stroke-width="2.4" stroke-dasharray="1.6 10.6 16 11"/>
<path d="M328.4 637.1H407.3" stroke="#dd0c0c" stroke-width="2.4" stroke-dasharray="16.2 15.6"/>
<path d="M328.4 669.7H407.3" stroke="#000" stroke-width="2.4"/>
<text x="415.6" y="611.6" font-size="21.2">PEG 458</text>
<text x="415.6" y="644.4" font-size="21.2">PEG 898</text>
<text x="415.6" y="677.2" font-size="21.2">PEG 2526</text>
<text x="83.9" y="939.2" font-size="21.2" text-anchor="middle">0</text>
<text x="176.5" y="939.2" font-size="21.2" text-anchor="middle">200</text>
<text x="269" y="939.2" font-size="21.2" text-anchor="middle">400</text>
<text x="361.6" y="939.2" font-size="21.2" text-anchor="middle">600</text>
<text x="454.1" y="939.2" font-size="21.2" text-anchor="middle">800</text>
<text x="546.7" y="939.2" font-size="21.2" text-anchor="middle">1000</text>
<text x="75.9" y="919.6" font-size="21.2" text-anchor="end">98</text>
<text x="75.9" y="875.1" font-size="21.2" text-anchor="end">99</text>
<text x="75.9" y="830.6" font-size="21.2" text-anchor="end">100</text>
<text x="75.9" y="786.1" font-size="21.2" text-anchor="end">101</text>
<text x="75.9" y="741.6" font-size="21.2" text-anchor="end">102</text>
<text x="75.9" y="697.2" font-size="21.2" text-anchor="end">103</text>
<text x="75.9" y="652.7" font-size="21.2" text-anchor="end">104</text>
<text x="75.9" y="608.2" font-size="21.2" text-anchor="end">105</text>
<text x="75.9" y="563.7" font-size="21.2" text-anchor="end">106</text>
<text x="315.3" y="966.6" font-size="21.2" text-anchor="middle" textLength="185.6" lengthAdjust="spacingAndGlyphs">Simulation time [ps]</text>
<text x="22.6" y="733.1" font-size="21.2" text-anchor="middle" textLength="334.8" lengthAdjust="spacingAndGlyphs" transform="rotate(-90 22.6 733.1)">Normalized total system energy [%]</text>
<text transform="translate(42.33 540.1) scale(0.988 1.035)" font-size="48" fill="#282828">C</text>
<path d="M794.8 910.8V556.7M910.6 910.8V556.7M1026.4 910.8V556.7" stroke="#3a3a3a" stroke-width="1.3" fill="none" stroke-dasharray="1.3 11" stroke-dashoffset="-0.35"/>
<path d="M678.9 822.3H1142.3M678.9 733.8H1142.3M678.9 645.2H1142.3" stroke="#3a3a3a" stroke-width="1.3" fill="none" stroke-dasharray="1.3 10.7" stroke-dashoffset="-1.05"/>
<path d="M678.9 618.3 679.4 630.4 679.8 643.4 680.3 653.5 680.8 660.3 681.2 673.9 681.7 679.9 682.1 682.4 682.6 683.8 683.1 686 683.5 686.2 684 691 684.5 696.7 684.9 699.5 685.4 699.9 685.9 701.3 686.3 702.5 686.8 704.4 687.2 704.8 687.7 707.8 688.2 710.7 688.6 712 689.1 717 689.6 716.5 690 719 690.5 721.4 690.9 724.2 691.4 726.7 691.9 726.9 692.3 729.5 692.8 728.2 693.3 731.3 693.7 731.8 694.2 732.7 694.7 733.8 695.1 734.1 695.6 734.2 696 736.6 696.5 741.1 697 740.6 697.4 742.3 697.9 743.7 698.4 746.5 698.8 746.7 699.3 749.6 699.8 750.5 700.2 755.3 700.7 759.1 701.1 758.3 701.6 758.8 702.1 763.2 702.5 758.2 703 760.6 703.5 758.5 703.9 759.6 704.4 759.6 704.9 760 705.3 761.9 705.8 763.9 706.2 763.7 706.7 762.4 707.2 762.2 707.6 763.9 708.1 763.4 708.6 765.5 709 764.9 709.5 765.7 709.9 766.2 710.4 765.4 710.9 765.7 711.3 764.2 711.8 764.9 712.3 766.4 712.7 768.1 713.2 769.2 713.7 767.4 714.1 769.9 714.6 769.2 715 771.6 715.5 772.2 716 776.7 716.4 772.9 716.9 775.6 717.4 772.6 717.8 770.1 718.3 771.4 718.8 769.5 719.2 768.9 719.7 771.1 720.1 772.1 720.6 772.5 721.1 771.8 721.5 771.3 722 774.7 722.5 774.8 722.9 771.6 723.4 775.7 723.8 770 724.3 771.4 724.8 774.1 725.2 775.6 725.7 776.4 726.2 780.7 726.6 784.6 727.1 788.2 727.6 785.6 728 787 728.5 790.1 728.9 789.5 729.4 792.1 729.9 791.7 730.3 790.7 730.8 791.1 731.3 791.1 731.7 787.8 732.2 790.7 732.7 791.6 733.1 790.5 733.6 790.4 734 788 734.5 784.7 735 786.2 735.4 783.3 735.9 783 736.4 782.2 736.8 783.2 737.3 782.8 737.8 785.1 738.2 783.6 738.7 780.9 739.1 782.2 739.6 782.9 740.1 784.1 740.5 783.1 741 780.1 741.5 780.7 741.9 783.3 742.4 783.1 742.8 783.3 743.3 785.8 743.8 786.8 744.2 787 744.7 792.1 745.2 790.6 745.6 789.9 746.1 788.4 746.6 790.8 747 791.8 747.5 791.8 747.9 793.4 748.4 792.9 748.9 792.1 749.3 793.2 749.8 794.4 750.3 795.2 750.7 795.3 751.2 795.8 751.7 795.6 752.1 798.9 752.6 800.6 753 802.2 753.5 802.9 754 798.3 754.4 798 754.9 800.2 755.4 803 755.8 800.5 756.3 802.3 756.8 801.1 757.2 800.5 757.7 803.1 758.1 801.7 758.6 805.4 759.1 803.7 759.5 804 760 805.6 760.5 807.2 760.9 806.5 761.4 804.8 761.8 804.4 762.3 804 762.8 803.5 763.2 805.3 763.7 809.9 764.2 809.9 764.6 813.3 765.1 812.9 765.6 812.2 766 814.7 766.5 813.1 766.9 813.5 767.4 813.1 767.9 817.1 768.3 818.1 768.8 813.9 769.3 813.2 769.7 815.8 770.2 813.6 770.7 815.9 771.1 812.1 771.6 813.9 772 813.2 772.5 812.7 773 816 773.4 815.9 773.9 817.3 774.4 816.4 774.8 813.7 775.3 811 775.8 811.7 776.2 812.8 776.7 810 777.1 807.9 777.6 811.4 778.1 809.3 778.5 809.9 779 811 779.5 808.4 779.9 805 780.4 805.3 780.8 803.7 781.3 803.2 781.8 807.6 782.2 807.2 782.7 809.4 783.2 810.7 783.6 811.4 784.1 808.8 784.6 809.8 785 813.6 785.5 812.6 785.9 814.5 786.4 814.6 786.9 815.2 787.3 818 787.8 819.4 788.3 822.6 788.7 821.8 789.2 821.6 789.7 821 790.1 821.8 790.6 819.4 791 819.2 791.5 818.9 792 822.2 792.4 821.8 792.9 823.8 793.4 823.2 793.8 825.2 794.3 825.3 794.8 823.5 795.2 826.1 795.7 824.9 796.1 824.3 796.6 823.6 797.1 823.8 797.5 826.3 798 823.1 798.5 821.3 798.9 820.7 799.4 820.5 799.8 819.9 800.3 820.1 800.8 823.4 801.2 825.9 801.7 827.4 802.2 827.8 802.6 826.9 803.1 828.8 803.6 832.9 804 835.4 804.5 837.5 804.9 840.5 805.4 843.1 805.9 838.1 806.3 836 806.8 834.1 807.3 831.4 807.7 830.7 808.2 829.8 808.7 828.6 809.1 829.5 809.6 826.2 810 824.7 810.5 824.3 811 824.7 811.4 823.8 811.9 822.6 812.4 823.9 812.8 820.1 813.3 822.4 813.7 818.7 814.2 820.5 814.7 819.7 815.1 821.6 815.6 819.9 816.1 818.9 816.5 818.1 817 817.7 817.5 816.6 817.9 819.3 818.4 818.9 818.8 819.1 819.3 819.9 819.8 819.7 820.2 820 820.7 819.1 821.2 820 821.6 822.7 822.1 819.9 822.6 818.6 823 818.6 823.5 815.6 823.9 814.8 824.4 815.4 824.9 813 825.3 814.6 825.8 815.6 826.3 815.5 826.7 817.2 827.2 816 827.7 816.8 828.1 814.9 828.6 815.9 829 813.5 829.5 813.7 830 811.8 830.4 812.9 830.9 812.8 831.4 816.2 831.8 813.3 832.3 812.4 832.7 810.8 833.2 814.5 833.7 814.7 834.1 813.3 834.6 811.6 835.1 813.2 835.5 813.7 836 811.9 836.5 814 836.9 818.2 837.4 820.2 837.8 821.9 838.3 822 838.8 822.3 839.2 827 839.7 825.9 840.2 831.5 840.6 833.6 841.1 835.6 841.6 836 842 835.6 842.5 835.4 842.9 834.2 843.4 832.2 843.9 833.3 844.3 835.5 844.8 834.2 845.3 832.8 845.7 832.5 846.2 832.3 846.7 834.8 847.1 832.8 847.6 835.1 848 833.7 848.5 835.4 849 833.8 849.4 836.1 849.9 833.8 850.4 834.7 850.8 835.9 851.3 837.8 851.7 838.9 852.2 838.8 852.7 838.5 853.1 834.5 853.6 837.5 854.1 836.1 854.5 838.3 855 837.6 855.5 838.1 855.9 837.5 856.4 838.3 856.8 839.2 857.3 840.8 857.8 842.5 858.2 841.8 858.7 841 859.2 843.4 859.6 845 860.1 846.6 860.6 847.5 861 842.5 861.5 843.8 861.9 841.7 862.4 843.9 862.9 845.3 863.3 847.3 863.8 846.3 864.3 844.6 864.7 844.5 865.2 842.8 865.7 845.7 866.1 847.2 866.6 848.7 867 848.9 867.5 849.9 868 849.8 868.4 846.5 868.9 846.5 869.4 847.1 869.8 843.9 870.3 845.8 870.7 846.7 871.2 846.2 871.7 844.4 872.1 844.8 872.6 846.5 873.1 844.8 873.5 847.5 874 851 874.5 848.1 874.9 847.6 875.4 847.6 875.8 844.8 876.3 844.3 876.8 842.2 877.2 842.8 877.7 841.2 878.2 843.7 878.6 840.6 879.1 843.2 879.6 842.8 880 839 880.5 840.5 880.9 841.8 881.4 842.2 881.9 842.1 882.3 838.6 882.8 839.4 883.3 840.1 883.7 839.6 884.2 837 884.6 837.8 885.1 834.9 885.6 837 886 835.1 886.5 836.3 887 833.5 887.4 832.9 887.9 832 888.4 831.5 888.8 830.9 889.3 830 889.7 827.6 890.2 828 890.7 828.2 891.1 823.3 891.6 825.5 892.1 825.7 892.5 826.6 893 830.4 893.5 832.2 893.9 832.1 894.4 832.3 894.8 832.7 895.3 834.1 895.8 833.8 896.2 838.5 896.7 838 897.2 840.6 897.6 839.4 898.1 839.3 898.6 838.2 899 842.2 899.5 843.4 899.9 843.2 900.4 843.8 900.9 845.4 901.3 846.8 901.8 846.6 902.3 849.8 902.7 849.2 903.2 849.9 903.6 848.6 904.1 851.3 904.6 850.9 905 852.7 905.5 851.7 906 853 906.4 854.6 906.9 851.8 907.4 849 907.8 853.2 908.3 853.1 908.7 853 909.2 853.8 909.7 853.3 910.1 853.4 910.6 851.2 911.1 853.9 911.5 854.5 912 856.4 912.5 856.6 912.9 858.3 913.4 854 913.8 857 914.3 854.6 914.8 854.5 915.2 856.3 915.7 857.6 916.2 857 916.6 858.4 917.1 858.9 917.6 861.7 918 860 918.5 860.9 918.9 861.9 919.4 863 919.9 863.3 920.3 861.2 920.8 862.3 921.3 861.8 921.7 861.1 922.2 860.9 922.6 861.1 923.1 863.7 923.6 860.7 924 862 924.5 863.4 925 858.1 925.4 860.2 925.9 858.2 926.4 860.1 926.8 858.5 927.3 860.7 927.7 858.1 928.2 857.3 928.7 860.5 929.1 859.1 929.6 859.4 930.1 859.5 930.5 859.6 931 861.4 931.5 859.9 931.9 861.6 932.4 862.5 932.8 861.8 933.3 863.1 933.8 861.5 934.2 864.3 934.7 861.8 935.2 859.9 935.6 858.7 936.1 861 936.6 863 937 866.4 937.5 864.9 937.9 861.3 938.4 861.3 938.9 861.4 939.3 861 939.8 860.9 940.3 859.6 940.7 861.3 941.2 859.6 941.6 862.6 942.1 865.2 942.6 865.5 943 864.3 943.5 866.5 944 867.5 944.4 868.6 944.9 868.9 945.4 866.1 945.8 865.8 946.3 866.8 946.7 865.7 947.2 866.2 947.7 866.9 948.1 863.4 948.6 864.8 949.1 864.7 949.5 864.3 950 864.7 950.5 860.2 950.9 863.4 951.4 863 951.8 862.5 952.3 864.2 952.8 862.1 953.2 860.7 953.7 860.5 954.2 860.7 954.6 860.9 955.1 858.9 955.5 857.3 956 858.5 956.5 860.1 956.9 859.9 957.4 860.6 957.9 859.8 958.3 861.6 958.8 861.9 959.3 861 959.7 859.9 960.2 858.9 960.6 861.1 961.1 861 961.6 861.5 962 860.5 962.5 856.7 963 855.7 963.4 857.9 963.9 857.2 964.4 860.7 964.8 861.4 965.3 861.9 965.7 859.9 966.2 857.6 966.7 861 967.1 859.7 967.6 857.6 968.1 861.4 968.5 860 969 862 969.5 859.5 969.9 857.1 970.4 859.3 970.8 859.2 971.3 860 971.8 860.6 972.2 859.3 972.7 859 973.2 860.3 973.6 860.5 974.1 860.5 974.5 861.1 975 863.2 975.5 863.5 975.9 863.6 976.4 861.5 976.9 860.4 977.3 859.2 977.8 859.7 978.3 860.5 978.7 862.9 979.2 863.2 979.6 859.4 980.1 860.8 980.6 859.8 981 860.6 981.5 861.3 982 858.6 982.4 859.3 982.9 857.1 983.4 857.5 983.8 858.1 984.3 857.3 984.7 860.1 985.2 856.6 985.7 857.4 986.1 857.4 986.6 859.3 987.1 862.1 987.5 861.3 988 862.5 988.5 862.9 988.9 867.5 989.4 865.2 989.8 864.4 990.3 863.8 990.8 861.7 991.2 862.3 991.7 862.6 992.2 863.9 992.6 862.8 993.1 863.9 993.5 863.7 994 862.6 994.5 863.7 994.9 864.6 995.4 859.4 995.9 860.3 996.3 860.3 996.8 861.1 997.3 860.4 997.7 860.5 998.2 862.5 998.6 864.3 999.1 864.7 999.6 865.1 1000 866.6 1000.5 866.5 1001 867.5 1001.4 864.7 1001.9 867.1 1002.4 865.5 1002.8 867.3 1003.3 867.4 1003.7 868.8 1004.2 865.9 1004.7 865.4 1005.1 863 1005.6 863.7 1006.1 863.7 1006.5 864 1007 865.6 1007.5 866.7 1007.9 866.5 1008.4 867.4 1008.8 870.2 1009.3 868.5 1009.8 868.9 1010.2 869.5 1010.7 868.8 1011.2 867 1011.6 869.3 1012.1 868.8 1012.5 870.3 1013 870.4 1013.5 869.2 1013.9 867.2 1014.4 868.9 1014.9 872.1 1015.3 869.8 1015.8 870.6 1016.3 869.3 1016.7 865.3 1017.2 862.4 1017.6 862.2 1018.1 862.3 1018.6 862.6 1019 862.6 1019.5 861.5 1020 863.9 1020.4 863.4 1020.9 863.6 1021.4 862 1021.8 862.7 1022.3 862.4 1022.7 863 1023.2 863.3 1023.7 862.3 1024.1 862.2 1024.6 862.2 1025.1 863.9 1025.5 865.6 1026 863.3 1026.4 863.4 1026.9 867.4 1027.4 864.6 1027.8 864.5 1028.3 866.6 1028.8 870.2 1029.2 869.3 1029.7 869.3 1030.2 867.8 1030.6 870.2 1031.1 867.1 1031.5 866.5 1032 864.7 1032.5 862.8 1032.9 863.6 1033.4 860 1033.9 859.4 1034.3 854.7 1034.8 857 1035.3 861.2 1035.7 861.7 1036.2 860.9 1036.6 857.9 1037.1 858.3 1037.6 857 1038 855.3 1038.5 854.4 1039 857.7 1039.4 854.8 1039.9 856 1040.4 856.1 1040.8 857.7 1041.3 856.8 1041.7 858.6 1042.2 858 1042.7 858.2 1043.1 856.6 1043.6 855.8 1044.1 856.2 1044.5 856.6 1045 855.3 1045.4 856.2 1045.9 855.3 1046.4 856.3 1046.8 854.2 1047.3 857.2 1047.8 854.7 1048.2 857.6 1048.7 855 1049.2 856.2 1049.6 856.8 1050.1 856.1 1050.5 856.4 1051 856.2 1051.5 856.5 1051.9 857.9 1052.4 855.7 1052.9 852 1053.3 856.3 1053.8 854.5 1054.3 853.2 1054.7 850.8 1055.2 856.2 1055.6 854.5 1056.1 853.7 1056.6 856.8 1057 857.7 1057.5 858.8 1058 859.5 1058.4 858.1 1058.9 861.3 1059.4 859.4 1059.8 860.4 1060.3 860.5 1060.7 858.1 1061.2 859.1 1061.7 859.6 1062.1 861.9 1062.6 861.4 1063.1 858.8 1063.5 860.3 1064 862 1064.4 859.2 1064.9 859.2 1065.4 859.8 1065.8 858 1066.3 858.4 1066.8 856.8 1067.2 862.4 1067.7 863.1 1068.2 861.4 1068.6 860.1 1069.1 862.2 1069.5 860.9 1070 858.1 1070.5 858.6 1070.9 855.1 1071.4 856.6 1071.9 859.6 1072.3 857.8 1072.8 862.1 1073.3 859.8 1073.7 859.7 1074.2 858.4 1074.6 858.2 1075.1 859.5 1075.6 857.5 1076 858.9 1076.5 860.9 1077 863 1077.4 863.8 1077.9 865.1 1078.4 866.6 1078.8 864.5 1079.3 866.2 1079.7 863.6 1080.2 862.1 1080.7 862.9 1081.1 862.2 1081.6 860.2 1082.1 863.2 1082.5 866.7 1083 862.1 1083.4 864.8 1083.9 864.9 1084.4 865.5 1084.8 864.9 1085.3 865.8 1085.8 867.1 1086.2 866 1086.7 865 1087.2 864.5 1087.6 866.5 1088.1 870 1088.5 866.3 1089 865.2 1089.5 863.8 1089.9 865 1090.4 865.6 1090.9 864.1 1091.3 866.4 1091.8 864.1 1092.3 863.8 1092.7 860.9 1093.2 861.4 1093.6 858.7 1094.1 861.2 1094.6 860.5 1095 862.4 1095.5 863.3 1096 861.5 1096.4 862.7 1096.9 860.6 1097.4 859.1 1097.8 858.5 1098.3 855.6 1098.7 857.2 1099.2 857.3 1099.7 858.2 1100.1 857 1100.6 854.3 1101.1 856.3 1101.5 855.7 1102 856.3 1102.4 856.3 1102.9 857 1103.4 855.5 1103.8 855.6 1104.3 854.1 1104.8 854.4 1105.2 856.3 1105.7 856.4 1106.2 854.9 1106.6 853 1107.1 854.9 1107.5 853.4 1108 851.8 1108.5 852.7 1108.9 849.5 1109.4 850.1 1109.9 850.7 1110.3 851.5 1110.8 852.1 1111.3 853.5 1111.7 849.1 1112.2 851.1 1112.6 851.8 1113.1 849.9 1113.6 849.5 1114 850.2 1114.5 848.4 1115 851.5 1115.4 850.8 1115.9 852.6 1116.3 847.9 1116.8 851.6 1117.3 850.9 1117.7 849.7 1118.2 852.2 1118.7 852 1119.1 853.6 1119.6 855.4 1120.1 854.5 1120.5 855.4 1121 852.1 1121.4 852.6 1121.9 852.5 1122.4 854.9 1122.8 853.3 1123.3 855.7 1123.8 853.3 1124.2 850.3 1124.7 850.7 1125.2 851.2 1125.6 849.3 1126.1 848.5 1126.5 846.8 1127 847.8 1127.5 846.6 1127.9 846.6 1128.4 845.9 1128.9 844.7 1129.3 846 1129.8 847.9 1130.3 846.7 1130.7 844.6 1131.2 841.9 1131.6 846.8 1132.1 848 1132.6 849.5 1133 848.2 1133.5 849.5 1134 850.2 1134.4 852.4 1134.9 854.9 1135.3 857.7 1135.8 858.8 1136.3 861.5 1136.7 861.8 1137.2 857.9 1137.7 855.8 1138.1 852.9 1138.6 851.9 1139.1 852.5 1139.5 850.8 1140 853.2 1140.4 850.1 1140.9 851.4 1141.4 854.2 1141.8 852.7 1142.3 852.2" stroke="#0808e8" stroke-width="1.9" fill="none" stroke-linejoin="round"/>
<path d="M678.9 765.7 679.4 778.1 679.8 790.9 680.3 799.9 680.8 805.7 681.2 807.6 681.7 810.7 682.1 812.1 682.6 814.9 683.1 818.3 683.5 814.8 684 819.5 684.5 818.2 684.9 821.4 685.4 818.1 685.9 819.1 686.3 820.3 686.8 820.2 687.2 822.7 687.7 819.6 688.2 822.5 688.6 822.8 689.1 818.9 689.6 819.9 690 824.7 690.5 826.1 690.9 824.9 691.4 819.2 691.9 820.5 692.3 820.2 692.8 818.3 693.3 816.7 693.7 820.9 694.2 818.6 694.7 820 695.1 818.8 695.6 822.8 696 824 696.5 817.8 697 818.8 697.4 817.1 697.9 816.1 698.4 821.7 698.8 819.7 699.3 818.1 699.8 815.9 700.2 816.8 700.7 815.1 701.1 812.8 701.6 814.6 702.1 816.8 702.5 818.1 703 819.8 703.5 823.4 703.9 826.2 704.4 829.5 704.9 826.3 705.3 830 705.8 832 706.2 831.6 706.7 835.5 707.2 834.4 707.6 840.7 708.1 839.9 708.6 841.3 709 845.8 709.5 841.6 709.9 847.3 710.4 845.3 710.9 845 711.3 845.1 711.8 841.6 712.3 840.9 712.7 844.7 713.2 843.5 713.7 848.9 714.1 849.2 714.6 850.8 715 852.7 715.5 853.7 716 850.4 716.4 852.7 716.9 855.4 717.4 847.6 717.8 853.5 718.3 851.9 718.8 848.8 719.2 849.6 719.7 851.8 720.1 855.5 720.6 856.9 721.1 851 721.5 850.9 722 858.1 722.5 861.7 722.9 861.9 723.4 860.1 723.8 859.9 724.3 857.2 724.8 854.8 725.2 855.3 725.7 852.6 726.2 853.1 726.6 856.9 727.1 859.6 727.6 858.6 728 856.1 728.5 860.5 728.9 854.1 729.4 853.3 729.9 853.8 730.3 855.1 730.8 854.6 731.3 854.4 731.7 851.2 732.2 853.5 732.7 851.7 733.1 852.5 733.6 853.3 734 858.6 734.5 862.5 735 860.6 735.4 863.1 735.9 860.8 736.4 864.2 736.8 869.7 737.3 868.4 737.8 869.8 738.2 868.6 738.7 866.2 739.1 871.6 739.6 866.7 740.1 872.5 740.5 864.9 741 868.2 741.5 868.5 741.9 866.7 742.4 868.7 742.8 868.6 743.3 871.1 743.8 873.4 744.2 873 744.7 871.4 745.2 873 745.6 876.9 746.1 878.4 746.6 876.3 747 873.1 747.5 872.9 747.9 870.3 748.4 873.7 748.9 878.8 749.3 872.1 749.8 872.2 750.3 873.3 750.7 873.4 751.2 874 751.7 874.1 752.1 873 752.6 871 753 873.5 753.5 868.9 754 871.4 754.4 870.1 754.9 875.8 755.4 873.2 755.8 874.4 756.3 870.8 756.8 873.1 757.2 876.9 757.7 868.5 758.1 871 758.6 875.3 759.1 877.8 759.5 876.4 760 880.5 760.5 879.5 760.9 879.3 761.4 872.5 761.8 874.6 762.3 871.4 762.8 870.3 763.2 868.6 763.7 868.4 764.2 870.7 764.6 873.7 765.1 877.2 765.6 876.5 766 875.9 766.5 878.3 766.9 876.8 767.4 873 767.9 872.8 768.3 873.2 768.8 876.6 769.3 870.8 769.7 868.9 770.2 867.8 770.7 873 771.1 866.6 771.6 869.8 772 870 772.5 875.2 773 874 773.4 870.6 773.9 874.7 774.4 868 774.8 868.9 775.3 870.2 775.8 871.4 776.2 871.7 776.7 871.1 777.1 873.1 777.6 874.8 778.1 876.9 778.5 876.3 779 874.6 779.5 878.4 779.9 874.1 780.4 875.4 780.8 873.6 781.3 876.1 781.8 878.1 782.2 873.3 782.7 873.3 783.2 873.5 783.6 869.6 784.1 869 784.6 868.8 785 868.6 785.5 865.5 785.9 868.2 786.4 867.1 786.9 869.7 787.3 867.8 787.8 868.5 788.3 866.9 788.7 868.2 789.2 863.4 789.7 865.6 790.1 868.9 790.6 867.3 791 869.5 791.5 874.6 792 872.7 792.4 870.7 792.9 868.6 793.4 868.3 793.8 872.3 794.3 870 794.8 867.2 795.2 868.1 795.7 870.4 796.1 868.6 796.6 872.2 797.1 869.4 797.5 870.1 798 868.1 798.5 873.3 798.9 868.2 799.4 867.6 799.8 870.6 800.3 871.4 800.8 868.1 801.2 864.9 801.7 866.4 802.2 867.9 802.6 870 803.1 865.6 803.6 865.9 804 867.6 804.5 865.6 804.9 870.1 805.4 874 805.9 870.5 806.3 868.5 806.8 873.3 807.3 870.1 807.7 868.8 808.2 870.5 808.7 871 809.1 872.8 809.6 872.9 810 869.8 810.5 871.7 811 869.4 811.4 867 811.9 871 812.4 868.6 812.8 869.2 813.3 868.8 813.7 866.3 814.2 869.5 814.7 865.4 815.1 872.3 815.6 869.3 816.1 873.4 816.5 869.4 817 870.9 817.5 874.7 817.9 871.6 818.4 871.6 818.8 874.2 819.3 869.8 819.8 872.7 820.2 872.6 820.7 871.6 821.2 870.8 821.6 868.5 822.1 866.7 822.6 866.2 823 868.1 823.5 866.7 823.9 868.7 824.4 871.1 824.9 872.8 825.3 867.4 825.8 872.1 826.3 868.8 826.7 871.1 827.2 870.4 827.7 871.1 828.1 873.8 828.6 870.8 829 870.4 829.5 868.2 830 871.1 830.4 872.1 830.9 869.9 831.4 866.6 831.8 868.3 832.3 866.8 832.7 871.6 833.2 869.1 833.7 869.1 834.1 866.9 834.6 868.7 835.1 870.6 835.5 873.7 836 876.2 836.5 877.7 836.9 876 837.4 871.2 837.8 867.1 838.3 867.7 838.8 868.5 839.2 867.2 839.7 869.3 840.2 869.1 840.6 866.9 841.1 866 841.6 869.7 842 868.9 842.5 870.3 842.9 873.4 843.4 873.1 843.9 870.6 844.3 869.6 844.8 869.1 845.3 873.5 845.7 869.9 846.2 870.8 846.7 874.2 847.1 873.7 847.6 875.1 848 873.3 848.5 871.2 849 872.7 849.4 872 849.9 870.7 850.4 873.7 850.8 872.7 851.3 876.5 851.7 875.1 852.2 881.2 852.7 879.3 853.1 877.1 853.6 877.1 854.1 875.8 854.5 872.1 855 873.2 855.5 869 855.9 867.9 856.4 869.9 856.8 868 857.3 869 857.8 870.6 858.2 872.6 858.7 874.4 859.2 870.7 859.6 871.6 860.1 867.2 860.6 868.9 861 864.6 861.5 864 861.9 866.2 862.4 867.1 862.9 871.6 863.3 869 863.8 870.2 864.3 868.6 864.7 872.3 865.2 865.7 865.7 866.9 866.1 870.2 866.6 865.9 867 868.2 867.5 871.7 868 867.8 868.4 872.2 868.9 870.9 869.4 868.3 869.8 866.1 870.3 871.3 870.7 866.5 871.2 866.7 871.7 865.5 872.1 865 872.6 864.9 873.1 864.7 873.5 868.2 874 867.2 874.5 868.4 874.9 866.5 875.4 871.9 875.8 870.6 876.3 871.2 876.8 866.9 877.2 873.3 877.7 867.1 878.2 867.7 878.6 872.6 879.1 869.7 879.6 870.2 880 866 880.5 869.4 880.9 868.3 881.4 872 881.9 870.4 882.3 872.7 882.8 871.5 883.3 868.8 883.7 874.2 884.2 870.8 884.6 871.6 885.1 868.8 885.6 868.7 886 869.7 886.5 868.8 887 871.1 887.4 875.2 887.9 878.9 888.4 876.1 888.8 872.5 889.3 874.2 889.7 874.7 890.2 874.8 890.7 873 891.1 873.2 891.6 870 892.1 870.1 892.5 869.6 893 870.8 893.5 873.9 893.9 874.8 894.4 872.8 894.8 874.1 895.3 872.1 895.8 869.9 896.2 872.2 896.7 865.9 897.2 870.8 897.6 868 898.1 864.7 898.6 865.4 899 866.7 899.5 865.2 899.9 864.3 900.4 871.6 900.9 868.6 901.3 868.2 901.8 869.6 902.3 869.5 902.7 869.5 903.2 868.3 903.6 869.7 904.1 868.5 904.6 871.5 905 870.3 905.5 872.4 906 873.8 906.4 872 906.9 870.5 907.4 869.9 907.8 866.5 908.3 869.1 908.7 872.7 909.2 869.9 909.7 871.7 910.1 866.9 910.6 866.3" stroke="#0808e8" stroke-width="1.9" fill="none" stroke-linejoin="round"/>
<path d="M678.9 838.4 679.4 850.3 679.8 856.7 680.3 858.7 680.8 861.9 681.2 864.5 681.7 861 682.1 860.3 682.6 862.1 683.1 860 683.5 862.7 684 862.4 684.5 863.6 684.9 866 685.4 870.2 685.9 867.6 686.3 867.1 686.8 867.7 687.2 865.9 687.7 870.6 688.2 875.7 688.6 870.6 689.1 869.3 689.6 878.2 690 873.5 690.5 871.4 690.9 873.6 691.4 873.3 691.9 869.1 692.3 869.4 692.8 870.9 693.3 871 693.7 876.3 694.2 876.2 694.7 875.9 695.1 879.9 695.6 880.2 696 877.6 696.5 875.7 697 878.3 697.4 879.7 697.9 877 698.4 874.1 698.8 879 699.3 877 699.8 875.4 700.2 875.7 700.7 880.7 701.1 881.9 701.6 879.2 702.1 879.8 702.5 884.4 703 881.7 703.5 878.9 703.9 878.3 704.4 881.1 704.9 877.6 705.3 878.4 705.8 876.8 706.2 882.9 706.7 878.7 707.2 878.7 707.6 885.9 708.1 885.8 708.6 878.7 709 878.4 709.5 879.4 709.9 879.1 710.4 882.1 710.9 884.5 711.3 881.8 711.8 886.3 712.3 886.1 712.7 881 713.2 876.5 713.7 876.9 714.1 871.5 714.6 875.3 715 874.8 715.5 875.3 716 877.3 716.4 878.1 716.9 875.7 717.4 874.2 717.8 875.2 718.3 872.4 718.8 872.3 719.2 879.9 719.7 878.6 720.1 877.5 720.6 877.9 721.1 875.8 721.5 873.1 722 873.3 722.5 871.2 722.9 869.5 723.4 875.6 723.8 879.6 724.3 881 724.8 881 725.2 879.6 725.7 876.5 726.2 879.3 726.6 880 727.1 882.5 727.6 883.5 728 881.5 728.5 881.1 728.9 879.7 729.4 878.4 729.9 879.4 730.3 877.7 730.8 874.9 731.3 873.6 731.7 877 732.2 878.5 732.7 880.5 733.1 879.9 733.6 881.4 734 878 734.5 876.4 735 876.3 735.4 877.5 735.9 877.1 736.4 880 736.8 880.2 737.3 878.7 737.8 880.3 738.2 885.5 738.7 877.8 739.1 879.2 739.6 882.4 740.1 886.2 740.5 880.7 741 882.3 741.5 882.5 741.9 879.6 742.4 878.7 742.8 879.2 743.3 880.8 743.8 882.5 744.2 881 744.7 883.8 745.2 885.6 745.6 884.7 746.1 884.7 746.6 882.5 747 885.9 747.5 889.9 747.9 887.7 748.4 885.3 748.9 884.1 749.3 881.8 749.8 878.7 750.3 879.9 750.7 877.5 751.2 880.9 751.7 878.5 752.1 880.7 752.6 882.9 753 883 753.5 880.9 754 878.5 754.4 882.5 754.9 885.7 755.4 886.2 755.8 883.7 756.3 882 756.8 883.8 757.2 878 757.7 878.3 758.1 881.3 758.6 884.1 759.1 881.2 759.5 884.4 760 882.3 760.5 880.4 760.9 883.4 761.4 878.3 761.8 877.3 762.3 880.9 762.8 879.3 763.2 880.2 763.7 879.4 764.2 879.2 764.6 879.7 765.1 884.8 765.6 883.2 766 883.7 766.5 877 766.9 878 767.4 875.5 767.9 880.5 768.3 882.8 768.8 877.3 769.3 877.8 769.7 877 770.2 877.9 770.7 875.2 771.1 877.1 771.6 876.1 772 876 772.5 875.1 773 874.5 773.4 873.1 773.9 873.7 774.4 875.2 774.8 875.4 775.3 872.7 775.8 873.6 776.2 872.4 776.7 878.4 777.1 876.2 777.6 876.4 778.1 874.8 778.5 873.3 779 873.9 779.5 873.4 779.9 875.1 780.4 874.1 780.8 875.8 781.3 874.9 781.8 873.4 782.2 877.7 782.7 876.3 783.2 871.9 783.6 870.8 784.1 874.5 784.6 872.9 785 874.7 785.5 875.2 785.9 873.9 786.4 877.1 786.9 877.5 787.3 874.9 787.8 875.7 788.3 877.2 788.7 875.3 789.2 873.7 789.7 873.4 790.1 873.5 790.6 873.8 791 873.7 791.5 874.1 792 870.9 792.4 875.3 792.9 876 793.4 875.1 793.8 872.6 794.3 873.2 794.8 868.2 795.2 869.6 795.7 867.6 796.1 870.5 796.6 871.2 797.1 870.8 797.5 871.4 798 874.9 798.5 873.7 798.9 874.4 799.4 868.8 799.8 871.6 800.3 871.6 800.8 873.1 801.2 871.2 801.7 873.2 802.2 871.1 802.6 865 803.1 870.1 803.6 871.4 804 872.9 804.5 872.2 804.9 873 805.4 872.9 805.9 873.6 806.3 872.7 806.8 871.8 807.3 872.8 807.7 876.3 808.2 872.6 808.7 871.7 809.1 870.5 809.6 874.2 810 877.1 810.5 872.5 811 872.8 811.4 870.7 811.9 876 812.4 870.7 812.8 874.4 813.3 874.4 813.7 876.2 814.2 875.3 814.7 875 815.1 874 815.6 875.4 816.1 872 816.5 870.9 817 873 817.5 871.7 817.9 871.8 818.4 873.8 818.8 873.5 819.3 875.5 819.8 876.4 820.2 878.8 820.7 876.5 821.2 878.6 821.6 874.9 822.1 872.5 822.6 875.7 823 868.7 823.5 870 823.9 870.9 824.4 874 824.9 872.9 825.3 872.3 825.8 871.7 826.3 868.3 826.7 873.5 827.2 873.3 827.7 869.5 828.1 875 828.6 873.6 829 872.5 829.5 873.6 830 869.1 830.4 870.6 830.9 871.9 831.4 870.9 831.8 872.8 832.3 873.5 832.7 873.6 833.2 876.8 833.7 876.3 834.1 878.5 834.6 877.2 835.1 877.6 835.5 878.1 836 875.1 836.5 873 836.9 873.9 837.4 877.4 837.8 876.5 838.3 875.3 838.8 875.5 839.2 874.1 839.7 872.8 840.2 875 840.6 880 841.1 877.5 841.6 877.2 842 873 842.5 874.4 842.9 876.6 843.4 872.5 843.9 875.8 844.3 875.2 844.8 878.6 845.3 875.6 845.7 876 846.2 873.8 846.7 871.2 847.1 874.6 847.6 876 848 874.4 848.5 872.8 849 870.9 849.4 870.5 849.9 872.9 850.4 875.3 850.8 873 851.3 872.2 851.7 875.5 852.2 870.8 852.7 871.4 853.1 874.4 853.6 871 854.1 873.4 854.5 875.7 855 874.8 855.5 875.1 855.9 878.5 856.4 872.7 856.8 876.9 857.3 879.8 857.8 877.5 858.2 876.3 858.7 872 859.2 874.7 859.6 876.6 860.1 874.1 860.6 876.5 861 872.2 861.5 876.6 861.9 877.1 862.4 879.4 862.9 876.9 863.3 876.7 863.8 873.1 864.3 874.2 864.7 874.3 865.2 870.8 865.7 871.7 866.1 870.1 866.6 879.1 867 878.9 867.5 880.5 868 875.3 868.4 875.7 868.9 874.4 869.4 876 869.8 874.4 870.3 874.7 870.7 871.4 871.2 874.2 871.7 872.3 872.1 877.2 872.6 874.2 873.1 876.2 873.5 872.9 874 875.3 874.5 875.1 874.9 877.9 875.4 876.5 875.8 877.9 876.3 881.3 876.8 877.5 877.2 877.3 877.7 874.8 878.2 877.7 878.6 875.7 879.1 875.4 879.6 873.9 880 871.5 880.5 875.7 880.9 875.4 881.4 873.4 881.9 874.6 882.3 873.4 882.8 871.9 883.3 876 883.7 872.1 884.2 874.6 884.6 875.1 885.1 870.2 885.6 872 886 868.3 886.5 868.5 887 871.4 887.4 870.2 887.9 868.9 888.4 867.5 888.8 872.8 889.3 874.6 889.7 878 890.2 874.6 890.7 871.7 891.1 872.7 891.6 870.9 892.1 872.1 892.5 869.9 893 877.2 893.5 877.9 893.9 877 894.4 873 894.8 876.7 895.3 877.6 895.8 874.9 896.2 878 896.7 874.7 897.2 872.2 897.6 873 898.1 871.8 898.6 872.5 899 869.9 899.5 868.6 899.9 870.8 900.4 874 900.9 875.2 901.3 876.4 901.8 876.6 902.3 879.4 902.7 881.9 903.2 880.3 903.6 886.3 904.1 879.2 904.6 880.3 905 879.9 905.5 880 906 877.9 906.4 877.3 906.9 875.3 907.4 874.9 907.8 874.5 908.3 875.7 908.7 874.4 909.2 874.8 909.7 875 910.1 873.5 910.6 872.9" stroke="#0808e8" stroke-width="1.9" fill="none" stroke-linejoin="round"/>
<path d="M678.9 883 679.4 883.7 679.8 885.7 680.3 883.3 680.8 885.9 681.2 888.7 681.7 887.6 682.1 887.1 682.6 886.2 683.1 887.3 683.5 887.7 684 888.3 684.5 889.2 684.9 889.1 685.4 889.2 685.9 889.4 686.3 889.1 686.8 890.6 687.2 894.1 687.7 891.3 688.2 892 688.6 891.1 689.1 891.4 689.6 892.5 690 890.9 690.5 892.2 690.9 892.8 691.4 892.4 691.9 892.5 692.3 891.8 692.8 890.9 693.3 892.9 693.7 891.4 694.2 892.2 694.7 889.5 695.1 889.7 695.6 890.7 696 893.3 696.5 891.3 697 892.9 697.4 892.3 697.9 895.6 698.4 894.9 698.8 895.1 699.3 893.9 699.8 892.4 700.2 892.4 700.7 893.3 701.1 892.3 701.6 893.1 702.1 892.9 702.5 892 703 891.1 703.5 892.1 703.9 890.7 704.4 889.5 704.9 890.8 705.3 891.5 705.8 891.4 706.2 889.8 706.7 890.7 707.2 892.1 707.6 888.7 708.1 892 708.6 889.8 709 889.8 709.5 890.4 709.9 889 710.4 888.5 710.9 888.4 711.3 888.8 711.8 890.8 712.3 888.8 712.7 887.3 713.2 887.2 713.7 889.2 714.1 888.1 714.6 887.7 715 888.2 715.5 888.9 716 888.6 716.4 889.9 716.9 890 717.4 890.8 717.8 888.4 718.3 889.4 718.8 889.5 719.2 888.6 719.7 888.2 720.1 888.3 720.6 886.8 721.1 889.6 721.5 889.3 722 888.6 722.5 889.6 722.9 888.5 723.4 886.3 723.8 886.1 724.3 889.1 724.8 889.3 725.2 890.6 725.7 891.1 726.2 889.7 726.6 890.3 727.1 889.2 727.6 889.1 728 887.7 728.5 887.6 728.9 887.8 729.4 887 729.9 886.1 730.3 887.4 730.8 887.6 731.3 891.2 731.7 892.2 732.2 890.6 732.7 890.9 733.1 887.1 733.6 885.3 734 888 734.5 886.7 735 884.1 735.4 886.1 735.9 887.1 736.4 885.6 736.8 886.3 737.3 888.4 737.8 886.7 738.2 887.7 738.7 889.5 739.1 888.9 739.6 891 740.1 889.5 740.5 890.4 741 889.3 741.5 890 741.9 892.2 742.4 891.4 742.8 892 743.3 892.4 743.8 891.4 744.2 891.2 744.7 893 745.2 891.3 745.6 890.9 746.1 892.3 746.6 890.5 747 889.9 747.5 890.8 747.9 891.9 748.4 891.3 748.9 891.5 749.3 893 749.8 893.9 750.3 893.1 750.7 892.3 751.2 894.2 751.7 895.3 752.1 894.4 752.6 891.1 753 893.9 753.5 892.7 754 893.9 754.4 891.9 754.9 892.6 755.4 891.8 755.8 890.9 756.3 890.8 756.8 893.4 757.2 893.2 757.7 891.1 758.1 891.9 758.6 892.9 759.1 890.4 759.5 890.8 760 890.3 760.5 889.1 760.9 890 761.4 886.7 761.8 886.6 762.3 887 762.8 889.9 763.2 891.3 763.7 889.1 764.2 890.5 764.6 890 765.1 891 765.6 888.7 766 887.8 766.5 886.7 766.9 888.1 767.4 888.8 767.9 886.4 768.3 889.9 768.8 889.7 769.3 888.9 769.7 888.1 770.2 886.4 770.7 887.7 771.1 884.5 771.6 885.8 772 887.1 772.5 885.2 773 886.6 773.4 884.3 773.9 885.1 774.4 886 774.8 886.5 775.3 886.5 775.8 888.3 776.2 888.3 776.7 890 777.1 886.4 777.6 887.1 778.1 884.9 778.5 886.3 779 889.6 779.5 887.9 779.9 887.8 780.4 886.6 780.8 885.2 781.3 884.7 781.8 883.6 782.2 882.9 782.7 885.1 783.2 886.4 783.6 885.6 784.1 884.8 784.6 886.7 785 884.1 785.5 887.8 785.9 885.2 786.4 885.8 786.9 884.1 787.3 883.2 787.8 884.8 788.3 886.3 788.7 885.6 789.2 885.9 789.7 887.1 790.1 885.8 790.6 884.9 791 885.9 791.5 885.9 792 885.3 792.4 885.2 792.9 884.3 793.4 884.5 793.8 883.5 794.3 886.8 794.8 888.7 795.2 888 795.7 889.4 796.1 891.3 796.6 891.2 797.1 893.3 797.5 893.7 798 891.2 798.5 891.3 798.9 891.3 799.4 892.6 799.8 895.7 800.3 893.2 800.8 893.2 801.2 894.5 801.7 891.7 802.2 893.2 802.6 894.3 803.1 893.6 803.6 892.8 804 892 804.5 890.3 804.9 890.2 805.4 889.8 805.9 893.5 806.3 890.9 806.8 891.4 807.3 891.9 807.7 889.4 808.2 891.1 808.7 892.2 809.1 892 809.6 889.2 810 892.6 810.5 892.4 811 891.6 811.4 891 811.9 890.7 812.4 890.4 812.8 888.3 813.3 887.8 813.7 889.9 814.2 890.4 814.7 891.4 815.1 891.7 815.6 894.5 816.1 893.2 816.5 893.6 817 889.9 817.5 891.5 817.9 892.9 818.4 892.4 818.8 892.3 819.3 894.3 819.8 890.4 820.2 891.8 820.7 891.5 821.2 892.8 821.6 891 822.1 889.8 822.6 890.9 823 890.5 823.5 892.9 823.9 891.9 824.4 890.8 824.9 890.2 825.3 890.4 825.8 891.1 826.3 892.6 826.7 891 827.2 892.7 827.7 892.7 828.1 891.1 828.6 893.7 829 892.2 829.5 891.2 830 890.3 830.4 891.9 830.9 890.9 831.4 889.2 831.8 889.9 832.3 890.1 832.7 890.3 833.2 890.9 833.7 892.7 834.1 891.5 834.6 892.8 835.1 892.7 835.5 893.7 836 892.3 836.5 893.4 836.9 892.1 837.4 893.8 837.8 892.6 838.3 890.9 838.8 889.1 839.2 889.1 839.7 893.2 840.2 893.6 840.6 893 841.1 891.3 841.6 891.6 842 890.4 842.5 890.5 842.9 890.1 843.4 891 843.9 887.9 844.3 891.7 844.8 891.5 845.3 889.3 845.7 890.3 846.2 889.5 846.7 890.1 847.1 889.1 847.6 888.9 848 891.5 848.5 891.4 849 891.9 849.4 891.9 849.9 893.2 850.4 894.5 850.8 892.5 851.3 890.9 851.7 889.9 852.2 892.3 852.7 891.7 853.1 893.4 853.6 892.1 854.1 893.2 854.5 889.5 855 888.6 855.5 887.4 855.9 889.1 856.4 893.1 856.8 892 857.3 891.3 857.8 890.9 858.2 890.2 858.7 891.2 859.2 892 859.6 890.2 860.1 890.8 860.6 890.2 861 891.4 861.5 893.4 861.9 892.2 862.4 893.3 862.9 892 863.3 890.9 863.8 889.9 864.3 891.1 864.7 891.7 865.2 893.7 865.7 892.5 866.1 892.6 866.6 893.3 867 892.8 867.5 890.5 868 891.2 868.4 891.4 868.9 892.2 869.4 892.3 869.8 891.7 870.3 893 870.7 892.8 871.2 893.1 871.7 894.2 872.1 890.9 872.6 895.6 873.1 891.9 873.5 893.6 874 891.6 874.5 891.7 874.9 889.5 875.4 891.1 875.8 892.1 876.3 890.3 876.8 890.7 877.2 891.6 877.7 890.2 878.2 892.3 878.6 891.1 879.1 894.3 879.6 892.2 880 890.7 880.5 892.6 880.9 892.8 881.4 895.1 881.9 893.5 882.3 894.1 882.8 895.3 883.3 894.3 883.7 893.8 884.2 893 884.6 893.6 885.1 893.2 885.6 893.6 886 893.2 886.5 893.8 887 893.1 887.4 892.9 887.9 891.2 888.4 891.6 888.8 893 889.3 892 889.7 890.4 890.2 890.6 890.7 890.2 891.1 890.2 891.6 889.6 892.1 890.3 892.5 888.9 893 889.3 893.5 890.5 893.9 890.7 894.4 890.9 894.8 892.9 895.3 892.1 895.8 892 896.2 892.7 896.7 892.4 897.2 893.5 897.6 893.4 898.1 891.4 898.6 892.6 899 890.9 899.5 891.4 899.9 891.8 900.4 890.5 900.9 889.9 901.3 892.2 901.8 892.8 902.3 892.9 902.7 891.5 903.2 890.5 903.6 891.3 904.1 890.8 904.6 892.8 905 890 905.5 894.2 906 894.3 906.4 894.2 906.9 895.1 907.4 895.5 907.8 894.5 908.3 894.6 908.7 895.9 909.2 895 909.7 895.8 910.1 896.5 910.6 895.9" stroke="#0808e8" stroke-width="1.9" fill="none" stroke-linejoin="round"/>
<path d="M794.8 870.7H910.6" stroke="#dd2a2a" stroke-width="1.3"/>
<path d="M794.8 874.1H910.6" stroke="#dd2a2a" stroke-width="1.3"/>
<path d="M794.8 891.8H910.6" stroke="#dd2a2a" stroke-width="1.3"/>
<path d="M910.6 860.6H1142.3" stroke="#dd2a2a" stroke-width="1.3"/>
<path d="M678.9 910.8v-4.7M678.9 556.7v4.7M794.8 910.8v-4.7M794.8 556.7v4.7M910.6 910.8v-4.7M910.6 556.7v4.7M1026.4 910.8v-4.7M1026.4 556.7v4.7M1142.3 910.8v-4.7M1142.3 556.7v4.7M678.9 910.8h4.7M1142.3 910.8h-4.7M678.9 822.3h4.7M1142.3 822.3h-4.7M678.9 733.8h4.7M1142.3 733.8h-4.7M678.9 645.2h4.7M1142.3 645.2h-4.7M678.9 556.7h4.7M1142.3 556.7h-4.7" stroke="#000" stroke-width="1.3" fill="none"/>
<rect x="678.9" y="556.7" width="463.4" height="354.1" stroke="#000" stroke-width="1.6" fill="none"/>
<text x="677.7" y="943.4" font-size="24.5" text-anchor="middle">0</text>
<text x="798.9" y="943.4" font-size="24.5" text-anchor="middle">5000</text>
<text x="911.9" y="943.4" font-size="24.5" text-anchor="middle">10000</text>
<text x="1029.5" y="943.4" font-size="24.5" text-anchor="middle">15000</text>
<text x="1145.8" y="943.4" font-size="24.5" text-anchor="middle">20000</text>
<text x="668.8" y="919.8" font-size="24.5" text-anchor="end">0</text>
<text x="668.8" y="831.3" font-size="24.5" text-anchor="end">20</text>
<text x="668.8" y="742.8" font-size="24.5" text-anchor="end">40</text>
<text x="668.8" y="654.2" font-size="24.5" text-anchor="end">60</text>
<text x="668.8" y="565.7" font-size="24.5" text-anchor="end">80</text>
<text x="907.3" y="973.8" font-size="24.5" text-anchor="middle" textLength="222" lengthAdjust="spacingAndGlyphs">Simulation time [ps]</text>
<text x="623.6" y="743.2" font-size="24.5" text-anchor="middle" textLength="207" lengthAdjust="spacingAndGlyphs" transform="rotate(-90 623.6 743.2)">Gyration radius [Å]</text>
<text transform="translate(637.4 541.8) scale(0.996 1.03)" font-size="48" fill="#282828">D</text>
</svg></body></html>
